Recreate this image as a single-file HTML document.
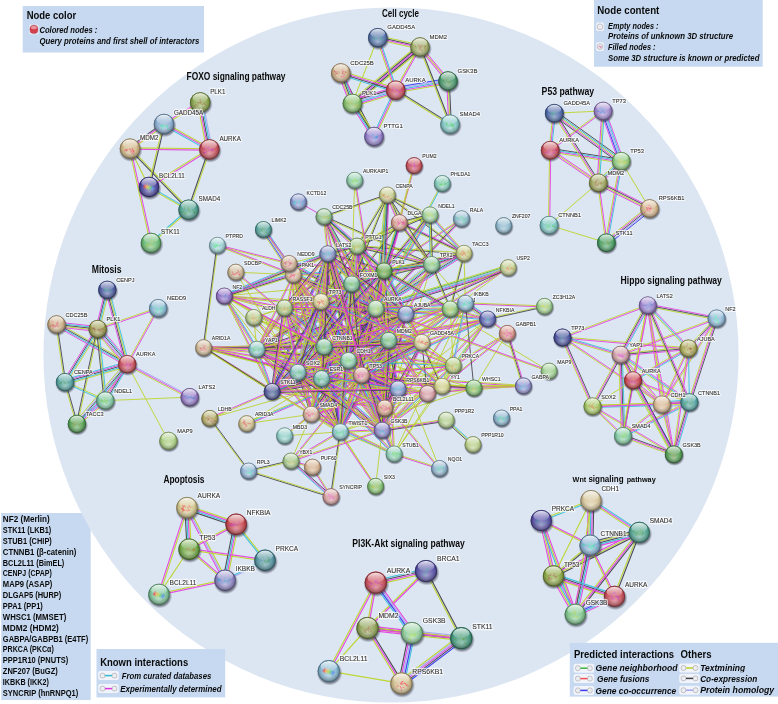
<!DOCTYPE html>
<html><head><meta charset="utf-8"><title>Network</title>
<style>
html,body{margin:0;padding:0;background:#fff;}
body{width:778px;height:704px;overflow:hidden;font-family:"Liberation Sans",sans-serif;}
svg{display:block;}
text{font-family:"Liberation Sans",sans-serif;}
.nd{fill:#303030;stroke:#303030;stroke-width:.1px;}
.nl{fill:#fff;stroke:#fff;stroke-opacity:.72;stroke-linejoin:round;paint-order:stroke;}
.t{font-weight:bold;fill:#0a0a0a;}
.bi{font-weight:bold;font-style:italic;fill:#0a0a0a;}
</style></head><body>
<svg width="778" height="704" viewBox="0 0 778 704">
<defs>
<radialGradient id="rim" cx="50%" cy="39%" r="60%"><stop offset="0" stop-color="#000" stop-opacity="0"/><stop offset=".55" stop-color="#000" stop-opacity="0"/><stop offset=".84" stop-color="#000" stop-opacity=".2"/><stop offset="1" stop-color="#000" stop-opacity=".45"/></radialGradient>
<radialGradient id="glow" cx="50%" cy="70%" r="55%"><stop offset="0" stop-color="#fff" stop-opacity=".48"/><stop offset=".7" stop-color="#fff" stop-opacity=".12"/><stop offset="1" stop-color="#fff" stop-opacity="0"/></radialGradient>
<linearGradient id="hl" x1="0" y1="0" x2="0" y2="1"><stop offset="0" stop-color="#fff" stop-opacity=".85"/><stop offset="1" stop-color="#fff" stop-opacity=".08"/></linearGradient>
<radialGradient id="sh" cx="50%" cy="50%" r="50%"><stop offset="0" stop-color="#223" stop-opacity=".7"/><stop offset=".78" stop-color="#223" stop-opacity=".55"/><stop offset="1" stop-color="#334" stop-opacity="0"/></radialGradient>
<g id="nd"><circle r="10" fill="url(#glow)"/><circle r="10" fill="url(#rim)"/><ellipse cx="0" cy="-4.5" rx="7.5" ry="4.7" fill="url(#hl)"/></g>
<g id="ic"><rect x="0" y="-.5" width="20.6" height="9" rx="2" fill="#f1f4fa"/><rect x="2" y="1.6" width="4.6" height="4.8" rx="1.8" fill="#eceef2" stroke="#9a9a9e" stroke-width=".55"/><rect x="14" y="1.6" width="4.6" height="4.8" rx="1.8" fill="#eceef2" stroke="#9a9a9e" stroke-width=".55"/></g>
</defs>
<rect width="778" height="704" fill="#fff"/>
<rect x="1.2" y="513" width="89.5" height="187" fill="#c6d9f1"/>
<circle cx="391" cy="355" r="347.6" fill="#dce6f2"/>
<g style="filter:blur(.3px)">
<g fill="none" stroke-width="0.86" stroke-linecap="round">
<path stroke="#bcd026" d="M292.9 275L384.3 408.4M352 285L384.4 271.9M289 263.5L340.3 431.8M284.5 307L405.9 313.1M253.3 317.8L297.5 372.6M320.4 301.6L321 378.7M431.5 264.5L382.2 430.2M404.7 313L310.1 413.2M463.5 253.2L449.7 308.9M253.7 317.5L256.8 349.3M450.1 308.5L405.7 313.6M399 222.1L356.7 245.6M375.3 308.5L381.7 430.2M450.2 309L421.8 342.4M387.6 194.6L464.3 252.9M430.8 263.7L375.1 307.7M298.2 371.8L257.1 348.8M383.5 270.7L347.9 360.3M292.3 275L320.5 379M323.4 347.6L360.8 375.9M460.7 218.1L375 307.8M350.6 284.4L397 389.4M288.3 264.9L375.1 309.9M326.8 253.8L323 346.8M351.3 284.4L421.5 342.8M375.3 308.7L388.1 340.6M383.5 270.9L384.2 408.1M394.1 454L384.7 408.1M361.1 374.7L310.9 413.9M413.6 165.5L375.3 308.4M420.8 342L381.2 429.8M464.8 304.2L487 319.9M331.5 496.8L340.8 431.9M397.8 222.2L374.3 308.1M388.5 341.4L421.7 343.4M292.9 275L361 375.4M325 346.9L322.5 378.8M320.5 379.9L381.2 431.4M321 300.6L375.9 307.5M405.4 313.8L361 374.8M326.3 254.2L359.9 375.5M453.1 364.9L397.8 388.5M397.5 388.8L381.7 430M394.6 453.8L382.7 430M347.6 361.2L360.6 375.8M375.6 486.3L340.3 431.8M374.8 308.6L383.7 408.2M283.4 309.2L347.4 361.7M320.7 302.6L405.6 315.1M427.4 393.6L382.2 430.2M321.2 377.7L271.8 390.5M351.2 283.7L271.7 391.2"/>
<path stroke="#404048" d="M284.3 309L405.7 315.1M405.4 313.7L310.8 413.9M464.5 253.4L450.7 309.1M399.6 223.1L357.3 246.6M297.4 372.5L310.7 414.5M387 195.4L463.7 253.7M432.2 265.3L376.5 309.3M324.6 346L362 374.3M461.5 218.8L375.8 308.5M351.6 284L398 389M288.8 264L375.6 309M351.9 283.6L422.1 342M421.8 342.4L382.2 430.2M465.4 303.3L487.6 319M330.5 496.6L339.8 431.7M399.8 222.7L376.3 308.6M323 346.7L320.5 378.6M321.2 379.1L381.9 430.6M320.8 302.6L375.7 309.5M327.3 253.9L360.9 375.2M348.4 360.5L361.4 375.1M376.8 308.4L385.7 408M331.7 495.9L291.7 460.2M320.6 302.1L388.3 340.9M284.1 308.4L348.1 360.9M320.9 301.6L405.8 314.1M321.8 379.7L272.4 392.5"/>
<path stroke="#de36da" d="M293.7 274.4L385.1 407.8M351.6 284L384 270.9M284.4 308L405.8 314.1M254.1 317.2L298.3 372M321.4 301.6L322 378.7M406.2 314.5L311.6 414.7M450.3 309.5L405.9 314.6M298.4 372.1L311.7 414.1M376.3 308.5L382.7 430.2M432.8 266.1L377.1 310.1M297.6 372.8L256.5 349.8M384.5 271.1L348.9 360.7M293.3 274.7L321.5 378.7M324 346.8L361.4 375.1M462.3 219.5L376.6 309.2M352.6 283.6L399 388.6M289.2 263L376 308M328.8 253.8L325 346.8M376.3 308.3L389.1 340.2M384.5 270.9L385.2 408.1M361.7 375.5L311.5 414.7M414.6 165.7L376.3 308.6M422.8 342.8L383.2 430.6M466 302.4L488.2 318.1M400.8 223L377.3 308.9M388.6 340.4L421.8 342.4M293.7 274.4L361.8 374.8M324 346.8L321.5 378.7M321.8 378.3L382.5 429.8M320.9 301.6L375.8 308.5M406.2 314.4L361.8 375.4M328.3 253.7L361.9 375M453.5 365.9L398.2 389.5M398.5 389.2L382.7 430.4M393.6 454.2L381.7 430.4M349.2 359.8L362.2 374.4M375.8 308.5L384.7 408.1M331 496.7L291 461M321.2 301.1L388.9 339.9M284.7 307.6L348.7 360.1M321.1 300.6L406 313.1M321.5 378.7L272.1 391.5M352 284.3L272.5 391.8"/>
<path stroke="#30b8d4" d="M351.2 283L383.6 269.9M322.5 301.6L323.1 378.7M406.9 315.2L312.3 415.4M431.5 264.5L375.8 308.5M294.3 274.4L322.5 378.4M289.7 262.1L376.5 307.1M327.8 253.8L324 346.8M466.6 301.6L488.8 317.3M398.8 222.5L375.3 308.4M388.7 339.4L421.9 341.4M322.5 377.5L383.2 429M329.3 253.4L362.9 374.7M399.5 389.6L383.7 430.8M330.3 497.5L290.3 461.8M285.4 306.8L349.4 359.3M352.9 284.9L273.4 392.4"/>
<path stroke="#a4a4ee" d="M319.3 301.6L319.9 378.7M430.2 262.9L374.5 306.9M464.2 305L486.4 320.7M396.5 388.4L380.7 429.6M350.3 283.1L270.8 390.6"/>
<path stroke="#404048" d="M326.8 253.9L339.3 431.9M320.4 301.8L347.9 360.7M350.6 284.2L381.2 430.4M375.8 308.5L405.8 314.1M324.2 216.2L431.7 264M375.4 308.2L321.1 378.4M326.8 253.4L271.1 391.1M405.8 314.1L297.9 372.3M358 245.8L376.8 308.2M388.6 340.4L256.8 349.3M464 253.3L375.8 308.5M385 270.9L383.2 430.2M327.3 254L397.5 389.2M347.8 359.6L320.9 377.8M351.9 284.4L257.1 349.7M298.8 371.7L341.2 431.2M405.1 313.3L347.7 359.7M339.6 432.5L256.1 350M383.5 270.8L375.3 308.4M248.5 470.5L290.9 460.5M464 253.8L357 246.6"/>
<path stroke="#de36da" d="M327.8 253.8L340.3 431.8M321.4 301.4L348.9 360.3M352.6 283.8L383.2 430M376 307.5L406 313.1M293.3 274.7L324 346.8M453.3 365.4L382.2 430.2M324.5 216.6L328.3 253.7M298.2 371.3L321.8 377.7M465.8 303.7L422.2 342.8M376.2 308.8L321.9 379M361.3 375.6L256.7 349.8M422 343.4L298.1 373.3M224.4 295.5L388.7 339.9M328.8 254.2L273.1 391.9M224.6 295.5L361.7 374.6M453.4 365.9L321.6 379.2M357.9 245.5L422.7 341.8M473.8 388.5L361.3 375.6M351.6 284L348.4 360.5M264.3 228.9L294.2 274.1M322 378.5L340.8 431.6M406.3 315L298.4 373.2M357 246.1L375.8 308.5M388.7 341.4L256.9 350.3M358 246.2L352.6 284.1M465.1 255.1L376.9 310.3M384 270.9L382.2 430.2M328.3 253.6L398.5 388.8M324.4 346.5L382.6 429.9M349 361.4L322.1 379.6M293.3 274.7L384 270.9M224.4 295.5L405.9 313.6M297.9 372.3L340.3 431.8M405.8 314.1L348.4 360.5M465.4 303.3L361.4 375.1M340.3 431.3L382.2 429.7M340.3 431.8L256.8 349.3M384.5 271L376.3 308.6M394.1 454L311.2 414.3M453.2 365.9L323.9 347.3M450.5 309.4L361.7 375.5M357 246.1L388.6 340.4M487.8 319.5L422 342.9M461.8 219.2L384.3 271.3M523.4 386.4L361.4 375.6M450.2 309L375.8 308.5"/>
<path stroke="#30b8d4" d="M322.3 300.9L349.8 359.8M376.2 306.4L406.2 312M294.3 274.3L325 346.4M454 366.2L382.9 431M297.9 372.3L321.5 378.7M361 376.6L256.4 350.8M421.8 342.4L297.9 372.3M357 246.1L421.8 342.4M352.6 284L349.4 360.5M265.2 228.3L295.1 273.5M406.8 315.9L298.9 374.1M388.7 342.5L256.9 351.4M357 246.1L351.6 284M464.6 254.2L376.4 309.4M329.2 253.1L399.4 388.3M488 319.3L453.7 365.7M293.3 273.7L384 269.9M466 304.2L362 376M393.6 454.9L310.7 415.2M358 245.8L389.6 340.1M450.2 310L375.8 309.5"/>
<path stroke="#a4a4ee" d="M375.4 310.6L405.4 316.2M361.8 373.6L257.2 347.8M263.4 229.5L293.3 274.7M404.8 312.3L296.9 370.5M388.5 338.3L256.7 347.2M463.4 252.4L375.2 307.6"/>
<path stroke="#3a3af0" d="M351.6 284L382.2 430.2M327.8 253.8L272.1 391.5M262.5 230.1L292.4 275.3M348.4 360.5L321.5 378.7"/>
<path stroke="#bcd026" d="M328.8 253.7L341.3 431.7M319.5 302.3L347 361.2M507.3 333.4L473.9 388M375.6 309.5L405.6 315.1M292.3 275.1L323 347.2M452.6 364.6L381.5 429.4M323.8 217.2L431.3 265M323.5 216.8L327.3 253.9M297.6 373.3L321.2 379.7M465 302.9L421.4 342M361.5 374.6L256.9 348.8M442 386.3L398 389M421.6 341.4L297.7 371.3M224.2 296.5L388.5 340.9M224 296.5L361.1 375.6M453.2 364.9L321.4 378.2M356.1 246.7L420.9 343M474 387.5L361.5 374.6M350.6 284L347.4 360.5M261.6 230.7L291.5 275.9M321 378.9L339.8 432M405.3 313.2L297.4 371.4M453.3 365.4L450.2 309M356 246.4L374.8 308.8M388.5 339.4L256.7 348.3M356 246L350.6 283.9M462.9 251.5L374.7 306.7M383 270.9L381.2 430.2M326.4 254.5L396.6 389.7M323.6 347.1L381.8 430.5M351.3 283.6L256.5 348.9M487.2 318.7L452.9 365.1M293.3 275.7L384 271.9M224.2 296.5L405.7 314.6M297 372.9L339.4 432.4M406.5 314.9L349.1 361.3M464.8 302.4L360.8 374.2M340.3 432.3L382.2 430.7M341 431.1L257.5 348.6M394.6 453.1L311.7 413.4M453.4 364.9L324.1 346.3M224.3 296L320.9 301.6M449.9 308.6L361.1 374.7M356 246.4L387.6 340.7M248.7 471.5L291.1 461.5M487.4 318.5L421.6 341.9M461.2 218.4L383.7 270.5M464 252.8L357 245.6M523.4 385.4L361.4 374.6M450.2 308L375.8 307.5"/>
<path stroke="#de36da" d="M348.5 361L298 372.8M393.6 454L388.1 340.4M351.6 284L384.7 408.1M384.5 270.7L422.3 342.2M421.8 342.4L272.1 391.5M358 246L383.2 430.1M465.8 303.6L382.6 430.5M324.3 347.2L272.4 391.9M488 319.4L382.6 430.6M397.9 389.5L256.7 349.8M376.7 309L312.1 414.8M388.9 195.2L377.4 308.7M446.2 420.2L382.2 430.2M321.4 301.6L324.5 346.8M311.7 413.4L340.8 430.9M321.7 300.9L398.8 388.3M321.3 379.2L256.6 349.8M389.6 340.2L399 388.8M398.9 389.6L385.6 408.7M487.6 319L375.8 308.5M224.3 296L256.8 349.3M523.4 386.4L442 386.8M323.5 217L375.3 308.8M293.6 274.3L388.9 340M224.8 295.8L272.6 391.3M507.6 333.9L453.6 365.9M348.2 360L388.4 339.9M293.8 274.8L272.6 391.6M523.4 386.4L473.9 388.5M375.8 308.5L340.3 431.8M384 270.9L321.5 378.7M324.5 345.9L348.9 359.6M422.1 342.8L311.5 414.7M421.8 343.4L256.8 350.3M399.8 221.7L464.5 252.4M217.5 244.8L289.1 263M431.9 264.8L361.8 375.4M209.6 417.9L271.9 391M464.5 254.8L432 266M384.6 408.6L272 392M376.5 309.3L298.6 373.1M284.4 308L340.3 431.8M473.8 389L441.9 387.3"/>
<path stroke="#30b8d4" d="M348.8 362L298.3 373.8M325 348L273.1 392.7M386.8 194.9L375.3 308.4M320.8 380.1L256.1 350.7M487.5 320L375.7 309.5M225.2 295.5L257.7 348.8M324.5 216.4L376.3 308.2M422.7 343.7L312.1 415.6M463.8 252.8L431.3 264"/>
<path stroke="#a4a4ee" d="M311.2 414.3L340.3 431.8M322.2 377.3L257.5 347.9"/>
<path stroke="#3a3af0" d="M357 246.1L382.2 430.2M375.8 308.5L311.2 414.3M320.9 301.6L398 389M388.6 340.4L398 389M421.8 342.4L256.8 349.3M375.8 308.5L297.9 372.3"/>
<path stroke="#bcd026" d="M348 359L297.5 370.8M394.6 454L389.1 340.4M352.6 283.7L385.7 407.8M383.5 271.1L421.3 342.6M253.7 317.5L324 346.8M421.5 341.4L271.8 390.5M465 303L381.8 429.9M356.6 246.5L383.6 271.3M323 345.6L271.1 390.3M487.2 318.6L381.8 429.8M442.5 386.1L422.3 342.2M398.1 388.5L256.9 348.8M405.3 314L384.2 408M385.7 194.8L374.2 308.3M446 419.2L382 429.2M320.4 301.6L323.5 346.8M386.8 194.7L356.5 245.8M310.7 415.2L339.8 432.7M442 386.3L384.7 408.1M321.7 378.2L257 348.8M397.1 388.4L383.8 407.5M442 386.3L340.3 431.8M487.7 318L375.9 307.5M223.4 296.5L255.9 349.8M523.4 385.4L442 385.8M322.6 217.5L374.4 309.3M293 275.1L388.3 340.8M223.8 296.2L271.6 391.7M507 332.9L453 364.9M348.6 361L388.8 340.9M292.8 274.6L271.6 391.4M523.4 385.4L473.9 387.5M376.8 308.8L341.3 432.1M253.7 317.5L321.5 378.7M383.1 270.4L320.6 378.2M323.5 347.7L347.9 361.4M420.9 341.1L310.3 413M253.7 317.5L348.4 360.5M398.8 223.5L463.5 254.2M217.3 245.8L288.9 264M431.1 264.2L361 374.8M210 418.9L272.3 392M463.5 251.8L431 263M473.9 388L324 346.8M384.8 407.6L272.2 391M283.4 308.4L339.3 432.2M523.4 385.9L427.4 393.6M474 387L442.1 385.3"/>
<path stroke="#404048" d="M348.3 360L297.8 371.8M350.6 284.3L383.7 408.4M422.1 343.4L272.4 392.5M356 246.2L381.2 430.3M357.4 245.7L384.4 270.5M323.7 346.4L271.8 391.1M441.5 386.5L421.3 342.6M374.9 308L310.3 413.8M406.3 314.2L385.2 408.2M387.8 195.1L376.3 308.6M446.4 421.2L382.4 431.2M387.8 195.3L357.5 246.4M320.1 302.3L397.2 389.7M387.6 340.6L397 389.2M398 389L384.7 408.1M325.4 215.9L377.2 307.7M374.8 308.2L339.3 431.5M384.9 271.4L322.4 379.2M324 346.8L348.4 360.5M421.5 342L310.9 413.9M421.8 341.4L256.8 348.3M399.3 222.6L464 253.3M464.2 253.8L431.7 265M375.1 307.7L297.2 371.5M285.4 307.6L341.3 431.4M473.9 388L442 386.3"/>
<path stroke="#30b8d4" d="M429.2 215.6L463.2 254M352.1 283.1L406.3 313.2M390.2 340.5L383.8 430.3M508.4 268.2L376 309M442.8 183.7L376.3 308.7M393.1 454.4L360.4 375.5M441.8 387.9L361.2 376.7M384.5 272.4L284.9 309.5M323.8 345.2L388.4 338.8M385.1 272.7L257.9 351.1"/>
<path stroke="#a4a4ee" d="M508 267.2L375.6 308M383.5 269.4L283.9 306.5M382.9 269.1L255.7 347.5"/>
<path stroke="#3a3af0" d="M405.8 314.1L340.3 431.8"/>
<path stroke="#3cb43c" d="M507.7 266.2L375.3 307"/>
<path stroke="#bcd026" d="M203.3 348.7L321.2 379.7M348 360.8L384.3 408.4M327.5 254.8L383.7 271.9M430.8 214.2L464.8 252.6M356.5 245.9L323.5 346.6M351.1 284.9L405.3 315M473.8 387.5L427.3 393.1M290.9 461.5L312.4 467.7M224.3 296L297.9 372.3M387 340.3L380.6 430.1M442 385.8L321.5 378.2M331.4 496.4L312.9 466.9M453.3 365.4L311.2 414.3M441.9 385.8L311.1 413.8M487.7 318.5L450.3 308.5M429.8 214.4L356.8 245.6M507.4 265.2L375 306M293.6 275.1L328.1 254.2M289 264L384 271.4M288.5 263.7L323.5 347M507 333L441.7 385.9M203.6 348.7L324 347.8M384.2 408L381.7 430.1M288.5 263.6L310.7 414.4M246.7 423.7L321.5 378.7M387.3 195L399.3 222.6M324 346.3L256.8 348.8M431.4 264L351.5 283.5M442.2 385.8L324.2 346.3M388.2 340.1L361 374.8M441.8 183.3L375.3 308.3M389.5 340.9L341.2 432.3M383.5 270.8L360.9 375M248.2 471.3L209.4 418.7M263 229.8L288.6 263.8M453.3 365.4L442 386.3M395.1 453.6L362.4 374.7M311.1 414.8L382.1 430.7M224.3 296L311.2 414.3M442.2 384.7L361.6 373.5M383.8 270.4L284.2 307.5M323.5 346.7L310.7 414.2M320.8 301.1L284.3 307.5M414.1 165.6L399.3 222.6M320.6 301.2L256.5 348.9M324.2 348.4L388.8 342M321.4 379.7L397.9 390M383.4 270L256.2 348.4"/>
<path stroke="#404048" d="M203.6 347.7L321.5 378.7M328.1 252.8L384.3 269.9M323.5 346.9L339.8 431.9M388.1 340.4L381.7 430.2M405.3 314L381.7 430.1M430.2 215.4L357.2 246.6M509 270.2L376.6 311M351.1 283.8L321 378.5M203.6 347.7L324 346.8M388.3 194.6L400.3 222.2M431.6 265L351.7 284.5M389 340.7L361.8 375.4M387.7 339.9L339.4 431.3M249 470.7L210.2 418.1M442.1 385.8L361.5 374.6M404.9 313.6L339.4 431.3M375.6 308L256.6 348.8M324.1 347.3L388.7 340.9M321.6 377.7L398.1 388M384 270.9L256.8 349.3"/>
<path stroke="#de36da" d="M203.9 346.7L321.8 377.7M348.8 360.2L385.1 407.8M327.8 253.8L384 270.9M430 214.9L464 253.3M357.5 246.3L324.5 347M324.5 346.7L340.8 431.7M351.6 284L405.8 314.1M474 388.5L427.5 394.1M291.1 460.5L312.6 466.7M389.1 340.4L382.7 430.2M442 386.8L321.5 379.2M330.6 497L312.1 467.5M406.3 314.2L382.7 430.3M442.1 386.8L311.3 414.8M487.5 319.5L450.1 309.5M508.7 269.2L376.3 310M293 274.3L327.5 253.4M289 263L384 270.4M289.5 263.3L324.5 346.6M352.1 284.2L322 378.9M507.6 333.8L442.3 386.7M203.6 346.7L324 345.8M385.2 408.2L382.7 430.3M289.5 263.4L311.7 414.2M386.3 195.4L398.3 223M324 347.3L256.8 349.8M441.8 386.8L323.8 347.3M388.6 340.4L340.3 431.8M384.5 271L361.9 375.2M263.8 229.2L289.4 263.2M394.1 454L361.4 375.1M311.3 413.8L382.3 429.7M298.4 201.9L324 216.7M441.9 386.8L361.3 375.6M406.7 314.6L341.2 432.3M384.2 271.4L284.6 308.5M324.5 346.9L311.7 414.4M376 309L257 349.8M321 302.1L284.5 308.5M321.2 302L257.1 349.7M323.9 346.3L388.5 339.9M321.5 378.7L398 389M384.6 271.8L257.4 350.2"/>
<path stroke="#bcd026" d="M450.2 309L388.6 340.4M217.2 245.8L293.1 275.2M291 461L311.2 414.3M327.4 254.2L421.4 342.8M297.7 372.8L384.5 408.6M487.3 319.4L507 333.8M405.4 313.1L323.6 345.8M284.9 436.2L361.7 375.5M354.2 180.4L375.3 308.6M246.7 423.7L311.2 414.3M203.5 348.2L297.8 372.8M389.1 341.3L322 379.6M375.2 307.7L323.4 346M224.3 296L351.6 284M351.2 284.4L375.4 308.9M284 308.3L381.8 430.5M508.2 267.7L361.4 375.1M487.5 318.5L388.5 339.9M347.5 359.9L310.3 413.7M283.5 307.4L255.9 348.7M283.9 308.1L310.7 414.4M383.1 271.4L404.9 314.6M360.9 375.3L381.7 430.4M442 386.3L297.9 372.3M549.1 371.1L384 270.9M289 263.5L327.8 253.8M428.8 213.9L382.8 269.9M544.4 305.9L487.5 318.5M326.8 254L347.4 360.7M388.2 339.4L271.7 390.5M326.8 254.2L383.7 408.5M323.7 347.3L397.7 389.5M487.5 318.5L323.9 346.3M439.5 468.5L388.6 340.4M246.3 422.7L361 374.1M361.2 374.1L271.9 390.5M442.7 385.5L389.3 339.6M431.5 264.5L357 246.1M463.8 252.3L383.8 269.9M453.2 364.9L361.3 374.6M324.2 217.2L387.5 195.5M430 214.9L327.8 253.8M398.9 222.3L351.2 283.7M217.9 245.4L204.1 347.8M427.5 393.1L361.5 374.6M430.1 215.4L399.4 223.1M348 359.5L271.7 390.5M350.7 284.6L387.7 341M319.5 302.3L380.8 430.9M356.3 245.3L283.7 307.2"/>
<path stroke="#404048" d="M405.8 314.1L324 346.8M388.1 339.5L321 377.8M376.4 309.3L324.6 347.6M352 283.6L376.2 308.1M348.4 360.5L311.2 414.3M319.9 301.8L339.3 432M285.3 308.6L257.7 349.9M384 270.9L405.8 314.1M421.3 342.1L384.2 407.8M429.6 214.6L383.6 270.6M544.6 306.9L487.7 319.5M327.8 253.8L348.4 360.5M361.6 376.1L272.3 392.5M427.4 393.6L421.8 342.4M431.2 265.5L356.7 247.1M464 253.3L384 270.9M323.8 216.2L387.1 194.5M399.7 222.9L352 284.3M216.9 245.2L203.1 347.6M429.9 214.4L399.2 222.1M348.8 361.5L272.5 392.5M320.4 301.8L381.7 430.4M357.7 246.9L285.1 308.8"/>
<path stroke="#de36da" d="M217.6 244.8L293.5 274.2M328.2 253.4L422.2 342M298.1 371.8L384.9 407.6M487.9 318.6L507.6 333M406.2 315.1L324.4 347.8M284.3 435.4L361.1 374.7M355.2 180.2L376.3 308.4M203.7 347.2L298 371.8M388.6 340.4L321.5 378.7M375.8 308.5L324 346.8M284.8 307.7L382.6 429.9M487.7 319.5L388.7 340.9M349.3 361.1L312.1 414.9M321.9 301.4L341.3 431.6M284.4 308L256.8 349.3M284.9 307.9L311.7 414.2M384.9 270.4L406.7 313.6M361.9 374.9L382.7 430M422.3 342.7L385.2 408.4M430.4 215.2L384.4 271.2M328.8 253.6L349.4 360.3M388.6 340.4L272.1 391.5M328.8 253.4L385.7 407.7M324.3 346.3L398.3 388.5M487.7 319.5L324.1 347.3M247.1 424.7L361.8 376.1M361.4 375.1L272.1 391.5M442 386.3L388.6 340.4M431.8 263.5L357.3 245.1M464.2 254.3L384.2 271.9M453.4 365.9L361.5 375.6M427.3 394.1L361.3 375.6M348.4 360.5L272.1 391.5M352.5 283.4L389.5 339.8M321.4 301.4L382.7 430M357 246.1L284.4 308"/>
<path stroke="#30b8d4" d="M385.9 270L407.7 313.2M431.2 215.9L385.2 271.9M389 341.4L272.5 392.5M464.9 303.2L452.8 365.3M246.7 423.7L361.4 375.1M441.3 387.1L387.9 341.2M322.3 300.9L383.6 429.5"/>
<path stroke="#a4a4ee" d="M382.1 271.8L403.9 315M327.8 253.8L384.7 408.1M465.9 303.4L453.8 365.5M351.6 284L388.6 340.4"/>
<path stroke="#3a3af0" d="M320.9 301.6L340.3 431.8"/>
<path stroke="#404048" d="M357.4 246.4L321.3 301.9M324.3 216.3L357.3 245.7M293.1 275.2L375.6 309M361 376.1L397.6 390M507.3 333.4L523.4 385.9M320 302.1L383.8 408.6M387.8 195.2L352.1 284.2M385 270.8L389.6 340.3M330.8 497.2L248.4 471.5M348.4 360.5L256.8 349.3M351.4 283.5L284.2 307.5M432 264.3L450.7 308.8M327.8 253.8L297.9 372.3M406 315.1L257 350.3M465.4 303.3L473.9 388M351.1 283.8L310.7 414.1M431 214.9L432.5 264.5M375.3 308.4L360.9 375"/>
<path stroke="#de36da" d="M488 319.3L442.4 386.6M328.3 253.9L311.7 414.4M384.4 271.2L298.3 372.6M544.5 306.9L465.4 303.8M293.5 274.2L376 308M348.9 360.6L340.8 431.9M361.8 374.1L398.4 388M508.3 333.1L524.4 385.6M348.9 360.3L382.7 430M298.2 371.9L382.5 429.8M321.8 301.1L385.6 407.6M389 340.8L311.6 414.7M203.6 347.2L348.4 360M453.1 365.9L388.4 340.9M289 263.5L293.3 274.7M384 270.9L388.6 340.4M324.7 346.1L385.4 407.4M357.5 246.1L361.9 375.1M293.7 274.4L348.8 360.2M348.3 361.5L256.7 350.3M203.9 347.3L311.5 413.9M351.8 284.5L284.6 308.5M406.3 313.8L422.3 342.1M328.8 254.1L298.9 372.6M361.4 375.1L384.7 408.1M427.3 394.1L397.9 389.5M405.8 314.1L256.8 349.3M322 378.8L311.7 414.4M290.7 460.5L340 431.3M293.8 274.4L382.7 429.9M430 214.9L375.8 308.5M422.2 343.4L321.9 379.7M352.1 284.2L311.7 414.5M328.2 254.1L257.2 349.6M376.3 308.6L361.9 375.2M284.7 307.6L361.7 374.7M257.8 348.9L273.1 391.1"/>
<path stroke="#30b8d4" d="M453.3 365.9L348.4 361M293.9 273.2L376.4 307M349.8 359.8L383.6 429.5M389.7 341.5L312.3 415.4M290 263.1L294.3 274.3M324 346.8L384.7 408.1M329.8 254.3L299.9 372.8M362.3 374.5L385.6 407.5M323 379.1L312.7 414.7M430.9 215.4L376.7 309M353.1 284.5L312.7 414.8M429 214.9L430.5 264.5M285.4 306.8L362.4 373.9M256.8 349.3L272.1 391.5"/>
<path stroke="#a4a4ee" d="M347 361.2L380.8 430.9M387.5 339.3L310.1 413.2M325.8 253.3L295.9 371.8M320 378.3L309.7 413.9M421.8 342.4L321.5 378.7M283.4 309.2L360.4 376.3"/>
<path stroke="#3a3af0" d="M361.4 375.1L398 389M320.9 301.6L384.7 408.1"/>
<path stroke="#bcd026" d="M487.2 318.7L441.6 386M327.3 253.7L310.7 414.2M383.6 270.6L297.5 372M544.5 305.9L465.4 302.8M453.3 364.9L348.4 360M356.6 245.8L320.5 301.3M253.7 317.5L351.6 284M323.7 217.1L356.7 246.5M292.7 276.2L375.2 310M347.9 360.4L339.8 431.7M506.3 333.7L522.4 386.2M347.9 360.7L381.7 430.4M297.6 372.7L381.9 430.6M388.2 340L310.8 413.9M203.6 348.2L348.4 361M293.3 274.7L405.8 314.1M453.5 364.9L388.8 339.9M375.6 486.3L382.2 430.2M386.8 194.8L351.1 283.8M288 263.9L292.3 275.1M383 271L387.6 340.5M289 263.5L361.4 375.1M323.3 347.5L384 408.8M356.5 246.1L360.9 375.1M331.2 496.2L248.8 470.5M292.9 275L348 360.8M203.6 347.7L340.3 431.8M394.1 454L453.3 365.4M348.5 359.5L256.9 348.3M203.3 348.1L310.9 414.7M431 264.7L449.7 309.2M405.3 314.4L421.3 342.7M326.8 253.5L296.9 372M360.5 375.7L383.8 408.7M427.5 393.1L398.1 388.5M405.6 313.1L256.6 348.3M321 378.6L310.7 414.2M291.3 461.5L340.6 432.3M253.7 317.5L284.4 308M292.8 275L381.7 430.5M429.1 214.4L374.9 308M421.4 341.4L321.1 377.7M350.1 283.5L309.7 413.8M327.4 253.5L256.4 349M253.7 317.5L361.4 375.1M430 214.9L431.5 264.5M464 253.3L465.4 303.3M284.1 308.4L361.1 375.5M255.8 349.7L271.1 391.9"/>
<path stroke="#de36da" d="M388.6 340.4L384.7 408.1M439.3 469L393.9 454.5M384.8 271.6L272.9 392.2M442.3 386.7L382.5 430.6M291.2 461.5L382.4 430.7M487.6 319L361.4 375.1M398.1 389.5L311.3 414.8M376.7 309L349.3 361M384.5 271.8L321.4 302.5M284.6 307.5L388.8 339.9M289.5 263.4L322 378.6M321.9 301.9L298.9 372.6M289.4 263.2L348.8 360.2M388.8 340.9L298.1 372.8M352.5 284.5L298.8 372.8M352.6 284.1L341.3 431.9M328.6 253.1L376.6 307.8M327.8 253.8L321.5 378.7M327.8 253.8L284.4 308M384.5 271L340.8 431.9M439.1 468.8L361 375.4M432 264.7L406.3 314.3M358 246.2L349.4 360.6M388.9 195.1L385.6 271M290.6 460.7L361 374.8M465.2 302.8L450 308.5M400.1 222L432.3 263.9M406.1 314.6L272.4 392M325 216.3L352.6 283.6M508.5 268.1L388.9 340.8M382.2 430.2L256.8 349.3M465.6 303.8L388.8 340.9M203.6 347.2L256.8 348.8M328.3 253.9L321.4 301.7M293.6 274.2L453.6 364.9M224.1 295.5L327.6 253.3M327.7 253.3L356.9 245.6M351.9 284.5L321.2 302.1M310.8 414.6L256.4 349.6M327.8 253.8L405.8 314.1M328.2 253.5L352 283.7"/>
<path stroke="#30b8d4" d="M488 320L361.8 376.1M384 270.9L320.9 301.6M322.9 302.2L299.9 372.9M446.9 419.4L473.7 443.8M353.4 285.1L299.7 373.4M353.7 284.2L342.4 432M327.8 253.8L375.8 308.5M386.8 195L383.5 270.9M465.6 303.8L450.4 309.5M223.7 294.5L327.2 252.3M327.4 252.3L356.6 244.6"/>
<path stroke="#a4a4ee" d="M318.9 301L295.9 371.7M349.8 282.9L296.1 371.2M349.5 283.8L338.2 431.6M357 246.1L348.4 360.5"/>
<path stroke="#3a3af0" d="M384 270.9L272.1 391.5M375.8 308.5L348.4 360.5"/>
<path stroke="#bcd026" d="M387.6 340.3L383.7 408M439.7 468L394.3 453.5M441.7 385.9L381.9 429.8M290.8 460.5L382 429.7M487.2 318L361 374.1M397.9 388.5L311.1 413.8M284.6 435.8L311.2 414.3M383.5 270L320.4 300.7M284.2 308.5L388.4 340.9M288.5 263.6L321 378.8M431.5 264.5L465.4 303.3M319.9 301.3L296.9 372M288.6 263.8L348 360.8M446.2 420.2L473 444.6M394.1 454L442 386.3M388.4 339.9L297.7 371.8M387.5 194.5L430.2 214.4M394.1 454L340.3 431.8M235.8 272.2L297.9 372.3M350.7 283.5L297 371.8M350.6 283.9L339.3 431.7M327 254.5L375 309.2M326.8 253.7L320.5 378.6M235.8 272.2L293.3 274.7M328.6 254.5L285.2 308.7M383.5 270.8L339.8 431.7M284.6 435.8L340.3 431.8M439.9 468.2L361.8 374.8M431 264.3L405.3 313.9M356 246L347.4 360.4M209.8 418.4L361.4 375.1M385.7 194.9L382.4 270.8M291.4 461.3L361.8 375.4M398.5 223.2L430.7 265.1M405.5 313.6L271.8 391M323 217.1L350.6 284.4M507.9 267.3L388.3 340M382.8 429.3L257.4 348.4M465.2 302.8L388.4 339.9M203.6 348.2L256.8 349.8M327.3 253.7L320.4 301.5M293 275.2L453 365.9M203.6 347.7L388.6 340.4M453.3 365.4L375.8 308.5M224.9 297.5L328.4 255.3M328.2 255.3L357.4 247.6M351.3 283.5L320.6 301.1M311.6 414L257.2 349M465.4 303.3L442 386.3M327.2 254.6L405.2 314.9M327.4 254.1L351.2 284.3"/>
<path stroke="#404048" d="M389.6 340.5L385.7 408.2M383.2 270.2L271.3 390.8M374.9 308L347.5 360M320.9 301.6L297.9 372.3M445.5 421L472.3 445.4M387.1 195.5L429.8 215.4M351.6 284L297.9 372.3M351.6 284L340.3 431.8M328.8 253.9L322.5 378.8M327 253.1L283.6 307.3M387.8 195L384.5 270.9M399.3 222.6L431.5 264.5M324 216.7L351.6 284M381.6 431.1L256.2 350.2M224.5 296.5L328 254.3M327.9 254.3L357.1 246.6M328.4 253L406.4 313.3"/>
<path stroke="#30b8d4" d="M321.3 300.6L422.2 341.4M398.8 222.4L383.5 270.7M324.7 215.9L384.7 270.1M465.5 304.3L375.9 309.5M376.5 309.3L272.8 392.3M431.4 264L383.9 270.4M393.3 454.7L320.7 379.4M422.5 343.8L362.1 376.5M449.4 310.4L383.2 272.3M406.4 314.9L322.1 379.5M362.4 375.5L341.3 432.2M223.8 294.5L292.8 273.2M297.9 372.3L398 389"/>
<path stroke="#a4a4ee" d="M284.4 308L297.9 372.3M384.7 408.1L256.8 349.3M357 246.1L405.8 314.1"/>
<path stroke="#3a3af0" d="M320.9 301.6L272.1 391.5"/>
<path stroke="#bcd026" d="M348.1 361L397.7 389.5M224.1 296.5L323.8 347.3M320.5 302.6L421.4 343.4M405.4 313.8L388.2 340.1M326.8 254.1L381.2 430.5M283.4 308.2L296.9 372.5M203.3 348.1L271.8 391.9M427.8 393.3L376.2 308.2M293.3 274.7L340.3 431.8M397.8 222.1L382.5 270.4M323.3 217.5L383.3 271.7M465.3 302.3L375.7 307.5M323.5 216.8L360.9 375.2M375.1 307.7L271.4 390.7M431.3 262.9L383.8 269.3M394.9 453.3L322.3 378M284.4 308.5L375.8 309M235.5 272.6L323.7 347.2M421.1 341L360.7 373.7M348.5 361L421.9 342.9M427.8 393.3L389 340.1M253.7 317.5L340.3 431.8M441.5 385.4L426.9 392.7M292.8 274.5L256.3 349.1M324.7 347.6L298.6 373.1M224.1 296.5L348.2 361M324 345.8L421.8 341.4M487.6 319L398 389M385.1 407.1L257.2 348.3M297.6 371.9L271.8 391.1M465.2 302.8L323.8 346.3M351.1 284.1L360.9 375.2M293.3 274.7L297.9 372.3M376 486L298.3 372M451 307.6L384.8 269.5M405.2 313.3L320.9 377.9M465.4 303.3L394.1 454M360.4 374.7L339.3 431.4M292.9 275.1L397.6 389.4M548.9 371.6L375.6 309M507.8 266.7L405.4 313.1M473.9 388L340.3 431.8M386.9 195.3L431.1 264.8M224.8 297.5L293.8 276.2M398 388L272.1 390.5M203.5 348.2L361.3 375.6M285.4 308.2L273.1 391.7M324.5 216.5L389.1 340.2M354.7 180.3L351.6 284M453.3 365.4L421.8 342.4M224.2 296.5L284.3 308.5M356.1 246.7L404.9 314.7M297.7 373.3L397.8 390"/>
<path stroke="#404048" d="M328.8 253.5L383.2 429.9M203.9 347.3L272.4 391.1M399.8 222.8L384.5 271.1M324 216.7L384 270.9M431.6 265L384.1 271.4M421.6 341.9L361.2 374.6M442 386.3L427.4 393.6M323.3 346L297.2 371.5M324 347.8L421.8 343.4M352.1 283.9L361.9 375M320 301.1L271.2 391M450.5 308.5L384.3 270.4M508.6 268.7L406.2 315.1M387.7 194.7L431.9 264.2M224.5 296.5L293.5 275.2M398 390L272.1 392.5M283.4 307.8L271.1 391.3"/>
<path stroke="#de36da" d="M348.7 360L398.3 388.5M224.5 295.5L324.2 346.3M320.9 301.6L421.8 342.4M406.2 314.4L389 340.7M327.8 253.8L382.2 430.2M285.4 307.8L298.9 372.1M427 393.9L375.4 308.8M400.8 223.1L385.5 271.4M325.4 215.1L385.4 269.3M322.6 218.3L382.6 272.5M465.4 303.3L375.8 308.5M324.5 216.6L361.9 375M375.8 308.5L272.1 391.5M431.7 266.1L384.2 272.5M394.1 454L321.5 378.7M284.4 307.5L375.8 308M236.1 271.8L324.3 346.4M422 342.9L361.6 375.6M348.3 360L421.7 341.9M427 393.9L388.2 340.7M442.5 387.2L427.9 394.5M293.8 274.9L257.3 349.5M324 346.8L297.9 372.3M224.5 295.5L348.6 360M324 346.8L421.8 342.4M384.3 409.1L256.4 350.3M298.2 372.7L272.4 391.9M465.6 303.8L324.2 347.3M321.8 302.1L273 392M375.2 486.6L297.5 372.6M449.9 309.5L383.7 271.4M405.8 314.1L321.5 378.7M361.4 375.1L340.3 431.8M293.7 274.3L398.4 388.6M549.3 370.6L376 308M508.2 267.7L405.8 314.1M224.1 295.5L293.1 274.2M398 389L272.1 391.5M203.7 347.2L361.5 374.6M284.4 308L272.1 391.5M323.5 216.9L388.1 340.6M224.4 295.5L284.5 307.5M357.9 245.5L406.7 313.5M298.1 371.3L398.2 388"/>
</g>
<g transform="translate(354.7 180.3) scale(0.835)">
<ellipse cx=".7" cy="1.7" rx="11.6" ry="11.3" fill="url(#sh)"/>
<circle r="10" fill="#88caa5"/>
<path d="M-0.1 -0.6L-0 -2L1 -2.2M4 1.7L1.9 1.2L1.6 -0.5M1 -1.9L1.9 -1.5L2.7 -1.9M1.3 0.9L1.4 -0.3L1.5 -1.3M-4.4 1.3L-2.5 2.2L-0.9 2.9M1.2 -0.3L1.6 0.9L2.5 0.6M-2.6 0.8L-2.1 2.6L-1.4 3.9M1.4 1.9L-0.1 1L-1.4 0.7M-1.1 2.5L-2.1 2.3L-2.4 1.5M-0.6 3.6L1.3 4.3L2.9 4.6M-1.8 -1.7L-2.4 0L-3.9 0.2" fill="none" stroke="#5dd410" stroke-width=".8" stroke-opacity=".7" stroke-linejoin="round"/>
<use href="#nd"/>
<circle r="9.6" fill="none" stroke="#4a6e5a" stroke-width=".85" stroke-opacity=".8"/>
</g>
<text class="nl" x="362.9" y="173" font-size="5.14" stroke-width="1.85">AURKAIP1</text>
<text class="nd" x="362.9" y="173" font-size="5.14">AURKAIP1</text>
<g transform="translate(298.4 201.9) scale(0.835)">
<ellipse cx=".7" cy="1.7" rx="11.6" ry="11.3" fill="url(#sh)"/>
<circle r="10" fill="#808fca"/>
<path d="M4.8 1.8L4.4 3.9L5.1 5.5M-3.7 2.9L-4 1.2L-4.8 0.1M0.2 -0.9L1.2 -1.9L2.3 -1.9M0.3 3L0.3 0.8L-0.7 -0.6M-3.6 1.8L-5.4 1.7L-6.5 2.7M-3.2 -0.8L-4.2 -0.1L-4.1 0.9M-0.7 -0.4L-2.4 -1.4L-3.8 -2.1M3.8 0.7L5.6 1L6.4 -0.2M-4.5 2.3L-4.1 1.3L-4.7 0.7M-0.3 -1.4L1 -1.5L2 -1.5M-2.7 1.6L-4.3 0.8L-5.5 0.1" fill="none" stroke="#0bd3cb" stroke-width=".8" stroke-opacity=".7" stroke-linejoin="round"/>
<use href="#nd"/>
<circle r="9.6" fill="none" stroke="#464e6e" stroke-width=".85" stroke-opacity=".8"/>
</g>
<text class="nl" x="306.6" y="194.6" font-size="5.14" stroke-width="1.85">KCTD12</text>
<text class="nd" x="306.6" y="194.6" font-size="5.14">KCTD12</text>
<g transform="translate(324 216.7) scale(0.835)">
<ellipse cx=".7" cy="1.7" rx="11.6" ry="11.3" fill="url(#sh)"/>
<circle r="10" fill="#88bb88"/>
<path d="M1.6 2.2L-0.1 2.2L-1.6 2.1M1.7 1.5L0.7 -0.4L-0.8 0.3M3.1 1L4.6 -0.8L6.1 0.4M2.4 -0.4L0.6 0.7L-0.5 1.8M0.9 -1.2L1.9 -2.9L2.6 -4.4M0.4 -0.3L0.9 0.9L1.7 1.5M3.2 2L5.4 1.2L7.2 0.6M-3.8 -0.2L-2.5 -0.9L-1.4 -0.4M2.2 1.6L3.3 -0.3L4.6 -1.4M0 2.6L0.2 0.7L-1.3 0.4M3.8 2.1L5.1 2L6.1 2.4" fill="none" stroke="#9eb525" stroke-width=".8" stroke-opacity=".7" stroke-linejoin="round"/>
<use href="#nd"/>
<circle r="9.6" fill="none" stroke="#4a664a" stroke-width=".85" stroke-opacity=".8"/>
</g>
<text class="nl" x="332.2" y="209.4" font-size="5.14" stroke-width="1.85">CDC25B</text>
<text class="nd" x="332.2" y="209.4" font-size="5.14">CDC25B</text>
<g transform="translate(263.4 229.5) scale(0.835)">
<ellipse cx=".7" cy="1.7" rx="11.6" ry="11.3" fill="url(#sh)"/>
<circle r="10" fill="#4d9e96"/>
<path d="M-0.7 2.3L-2 0.8L-1.9 -0.8M-0.3 -0.5L-1.3 -0.7L-2.1 -0.7M0.2 3.6L2.2 3.2L3.5 4.2M-1.8 2.1L-3.5 1.9L-4.9 2.1M3.3 2.8L4.2 3.6L5.1 4M2 1.2L2.5 3.4L4.2 3.5M-1.9 -0.6L-3.3 -0.6L-4 -1.4M-1.2 -1.7L0.4 -1.4L0.1 -0.1M-1.5 -0L-1.1 -1.6L-1.2 -2.9M-1.6 1.7L-0.5 2.7L0.4 3.4M1.4 -2.4L1.4 -1.4L2.3 -1.4" fill="none" stroke="#1b8222" stroke-width=".8" stroke-opacity=".7" stroke-linejoin="round"/>
<use href="#nd"/>
<circle r="9.6" fill="none" stroke="#2a5652" stroke-width=".85" stroke-opacity=".8"/>
</g>
<text class="nl" x="271.6" y="222.2" font-size="5.14" stroke-width="1.85">LIMK2</text>
<text class="nd" x="271.6" y="222.2" font-size="5.14">LIMK2</text>
<g transform="translate(217.4 245.3) scale(0.835)">
<ellipse cx=".7" cy="1.7" rx="11.6" ry="11.3" fill="url(#sh)"/>
<circle r="10" fill="#96cad1"/>
<path d="M-0.7 1.3L-0.4 -0.9L-1.6 -2.3M0.1 4L0.7 6.3L2.5 6.6M-2.1 -2.4L-4.2 -2.1L-5.8 -2.5M-3.8 -0.7L-3.6 0.6L-4.5 1.1M-2.6 2.1L-3.7 1.2L-4.6 1.9M-4.6 0.6L-3.1 2.3L-1.4 2.8M-0 1.4L-0.1 -0.4L0.4 -1.8M-3.1 3.2L-1.8 1.8L-1.2 0.4M0.8 -0.1L-1.2 -0.1L-1.4 1.5M-3.3 -0.2L-2.2 -0.2L-2.1 -1.1M1.7 1L3.2 -0.2L4.6 0.4" fill="none" stroke="#0be74a" stroke-width=".8" stroke-opacity=".7" stroke-linejoin="round"/>
<use href="#nd"/>
<circle r="9.6" fill="none" stroke="#526e72" stroke-width=".85" stroke-opacity=".8"/>
</g>
<text class="nl" x="225.6" y="238" font-size="5.14" stroke-width="1.85">PTPRD</text>
<text class="nd" x="225.6" y="238" font-size="5.14">PTPRD</text>
<g transform="translate(357 246.1) scale(0.835)">
<ellipse cx=".7" cy="1.7" rx="11.6" ry="11.3" fill="url(#sh)"/>
<circle r="10" fill="#96c379"/>
<path d="M-2.8 3.4L-2.9 1.7L-3.3 0.5M-2.9 1.6L-3.7 3.4L-2.4 4.2M0.4 4.1L-0.6 2.5L-1.9 1.7M1.7 0.4L0.7 1.2L1.2 2.1M0.6 1.8L0.7 -0L-0.5 -0.9M0.7 1.2L1.5 -0.3L2.7 0.3M-3.3 3.2L-2.9 4.2L-2.2 4.7M0.9 -2.5L1.8 -1.4L2.9 -1.2M3.3 2.7L3.3 1.6L4.2 1.5M-2.5 3.8L-3.7 1.8L-4.8 0.2M-4.2 1.2L-2.4 0L-1.4 1.3" fill="none" stroke="#c29812" stroke-width=".8" stroke-opacity=".7" stroke-linejoin="round"/>
<use href="#nd"/>
<circle r="9.6" fill="none" stroke="#526a42" stroke-width=".85" stroke-opacity=".8"/>
</g>
<text class="nl" x="365.2" y="238.8" font-size="5.14" stroke-width="1.85">PTTG1</text>
<text class="nd" x="365.2" y="238.8" font-size="5.14">PTTG1</text>
<g transform="translate(327.8 253.8) scale(0.835)">
<ellipse cx=".7" cy="1.7" rx="11.6" ry="11.3" fill="url(#sh)"/>
<circle r="10" fill="#808fc3"/>
<path d="M-0.8 2.1L0.1 2.9L0.2 3.9M-1.8 4.1L-0.2 4.7L0.5 3.6M-3.2 0.1L-1.7 1.7L-0.4 0.6M0.3 -1.4L-1.5 -2L-2.9 -1.7M-0.4 -0.4L0.6 -2.4L2.3 -3.1M1.6 -1.1L0.6 0.8L1.2 2.4M0.4 2.4L0.8 1.1L-0 0.3M-3.7 1.1L-5 0.1L-6.3 0.2M1.4 0L3.6 -0L3.7 -1.8M-3.6 -0L-5 -0.5L-5.8 -1.4M1 -2.6L0.9 -1.6L1.2 -0.9" fill="none" stroke="#16c3b8" stroke-width=".8" stroke-opacity=".7" stroke-linejoin="round"/>
<use href="#nd"/>
<circle r="9.6" fill="none" stroke="#464e6a" stroke-width=".85" stroke-opacity=".8"/>
</g>
<text class="nl" x="336" y="246.5" font-size="5.14" stroke-width="1.85">LATS2</text>
<text class="nd" x="336" y="246.5" font-size="5.14">LATS2</text>
<g transform="translate(293.3 274.7) scale(0.835)">
<ellipse cx=".7" cy="1.7" rx="11.6" ry="11.3" fill="url(#sh)"/>
<circle r="10" fill="#d1b496"/>
<path d="M0.9 2.8L1.3 1.7L1.6 0.9M0.7 -1.1L0.6 0.8L-0.9 1M0.6 -0.5L1.8 -0.5L2.7 -1.1M-1.1 -0L-2.3 -0.4L-2.9 -1.2M-3.6 3L-2.6 2.2L-1.9 1.5M-1.6 4.2L-3.2 3.1L-3 1.6M-3.4 2.2L-2.6 0.4L-1.1 1M1.8 2.3L0.4 1.3L-1 1.2M-0.2 2.2L0 4.5L1.7 5.1M-3.1 1.6L-3.7 3.1L-5 3.4M-2.9 -0L-1 0.9L-0.2 -0.5" fill="none" stroke="#e70b56" stroke-width=".8" stroke-opacity=".7" stroke-linejoin="round"/>
<use href="#nd"/>
<circle r="9.6" fill="none" stroke="#726252" stroke-width=".85" stroke-opacity=".8"/>
</g>
<text class="nl" x="301.5" y="267.4" font-size="5.14" stroke-width="1.85">PAK1</text>
<text class="nd" x="301.5" y="267.4" font-size="5.14">PAK1</text>
<g transform="translate(289 263.5) scale(0.835)">
<ellipse cx=".7" cy="1.7" rx="11.6" ry="11.3" fill="url(#sh)"/>
<circle r="10" fill="#caac8f"/>
<path d="M-2.1 3.9L-3.8 3.9L-5 3.7M-0 -1.4L-2.2 -2L-3.9 -1.4M1.1 2.6L-0.8 2.5L-1.3 3.9M0.8 -0.5L2.6 -0.2L3.8 0.6M-0.3 -1.7L0.4 -3.6L-0.4 -5M-4.1 -1.1L-3.5 0.6L-4.2 1.8M0.1 3.8L0.1 6L1.7 6.8M0.1 0.7L1.4 2L2.8 1.4M3.3 -1.3L1 -1L1.2 0.9M-0.1 -1.1L1.3 -0.4L1.6 0.8M-2.9 -2L-5.1 -1.3L-5.2 0.5" fill="none" stroke="#d41455" stroke-width=".8" stroke-opacity=".7" stroke-linejoin="round"/>
<use href="#nd"/>
<circle r="9.6" fill="none" stroke="#6e5e4e" stroke-width=".85" stroke-opacity=".8"/>
</g>
<text class="nl" x="297.2" y="256.2" font-size="5.14" stroke-width="1.85">NEDD9</text>
<text class="nd" x="297.2" y="256.2" font-size="5.14">NEDD9</text>
<g transform="translate(235.8 272.2) scale(0.835)">
<ellipse cx=".7" cy="1.7" rx="11.6" ry="11.3" fill="url(#sh)"/>
<circle r="10" fill="#cab48f"/>
<path d="M-0 0.8L0.2 2L0.8 2.9M3.8 0.2L5.3 2L4.1 3.4M2.4 2.6L4.3 2.5L4.7 4M-2.9 2.1L-4 0.5L-3.6 -1M1.4 1.1L3 -0.1L3.4 -1.6M1.5 -0.5L1.3 0.6L0.5 1M1.9 1.2L-0.2 1.7L-1.3 3.2M-3.6 2.9L-1.6 3.1L-0.3 2.1M-2.1 2.3L-4 2.8L-5.5 3.4M3.9 -0.8L2.4 -1.7L1.9 -3M0.1 3.6L-1.9 3.1L-2 1.5" fill="none" stroke="#d4143e" stroke-width=".8" stroke-opacity=".7" stroke-linejoin="round"/>
<use href="#nd"/>
<circle r="9.6" fill="none" stroke="#6e624e" stroke-width=".85" stroke-opacity=".8"/>
</g>
<text class="nl" x="244" y="264.9" font-size="5.14" stroke-width="1.85">SDCBP</text>
<text class="nd" x="244" y="264.9" font-size="5.14">SDCBP</text>
<g transform="translate(224.3 296) scale(0.835)">
<ellipse cx=".7" cy="1.7" rx="11.6" ry="11.3" fill="url(#sh)"/>
<circle r="10" fill="#8f6ac3"/>
<path d="M-0.8 1.5L0.9 2.7L2.4 2.1M-0.3 0.4L-1.4 0.2L-1.7 -0.6M-0.2 0.8L1.5 -0.5L1.8 -2.1M1.9 3.8L0.7 4.6L0.4 5.6M1.3 -1L1.7 -2L2 -2.7M-0.9 -0.6L0.8 0.2L1.8 -0.9M4.7 1.2L6.1 1.9L5.8 3.1M-3.3 -0.8L-4.5 -1L-5.2 -0.4M-0.4 -0.3L1.2 0.1L1.8 -1.1M3.1 0.6L4.3 1.8L5.2 2.9M-4.4 1.4L-3.5 0.2L-4.2 -0.7" fill="none" stroke="#0b57bf" stroke-width=".8" stroke-opacity=".7" stroke-linejoin="round"/>
<use href="#nd"/>
<circle r="9.6" fill="none" stroke="#4e3a6a" stroke-width=".85" stroke-opacity=".8"/>
</g>
<text class="nl" x="232.5" y="288.7" font-size="5.14" stroke-width="1.85">NF2</text>
<text class="nd" x="232.5" y="288.7" font-size="5.14">NF2</text>
<g transform="translate(384 270.9) scale(0.835)">
<ellipse cx=".7" cy="1.7" rx="11.6" ry="11.3" fill="url(#sh)"/>
<circle r="10" fill="#5ca54d"/>
<path d="M3.3 0.1L4.6 -1L5.6 -1.9M0.3 0.6L-0.3 2L0.5 2.9M3.2 3.2L4.2 3.1L4.8 2.6M-0.8 3.4L0.5 1.5L2.3 1.2M2.1 3L4 2.4L4.4 0.9M0.6 3.3L1.3 2.5L2 3M-2.3 3.9L-1.7 5.4L-0.5 4.9M-2 -0.3L-2.7 -2.5L-1 -3M-4.7 0.4L-5.3 -1.8L-7 -2.3M1.1 -0.6L1.8 -2.3L0.6 -3M-2 0.9L-4.3 0.6L-6.1 1.2" fill="none" stroke="#8b8a17" stroke-width=".8" stroke-opacity=".7" stroke-linejoin="round"/>
<use href="#nd"/>
<circle r="9.6" fill="none" stroke="#325a2a" stroke-width=".85" stroke-opacity=".8"/>
</g>
<text class="nl" x="392.2" y="263.6" font-size="5.14" stroke-width="1.85">PLK1</text>
<text class="nd" x="392.2" y="263.6" font-size="5.14">PLK1</text>
<g transform="translate(351.6 284) scale(0.835)">
<ellipse cx=".7" cy="1.7" rx="11.6" ry="11.3" fill="url(#sh)"/>
<circle r="10" fill="#79bb96"/>
<path d="M2.1 -0.6L1.2 0.1L0.4 -0.2M3.2 -0.5L1.9 -0.7L1.9 -1.7M-0.9 0.6L-1.5 -0.3L-2.2 -0.8M-0.4 -1L0.2 0.5L0.2 1.8M-0.7 0.9L1.5 1.4L2.8 0.1M0.4 0.2L-0.4 -0.9L-1.5 -0.6M-0.5 2L-1.8 0.1L-2.9 -1.4M4 1.6L4.6 3.3L5.6 4.3M1 3.1L-0.7 2L-0.7 0.4M-0.9 0.5L-2.8 -0.8L-4.6 -0.6M4.2 -1L5.4 -1.7L6.3 -1.1" fill="none" stroke="#58b51b" stroke-width=".8" stroke-opacity=".7" stroke-linejoin="round"/>
<use href="#nd"/>
<circle r="9.6" fill="none" stroke="#426652" stroke-width=".85" stroke-opacity=".8"/>
</g>
<text class="nl" x="359.8" y="276.7" font-size="5.14" stroke-width="1.85">FOXM1</text>
<text class="nd" x="359.8" y="276.7" font-size="5.14">FOXM1</text>
<g transform="translate(320.9 301.6) scale(0.835)">
<ellipse cx=".7" cy="1.7" rx="11.6" ry="11.3" fill="url(#sh)"/>
<circle r="10" fill="#d1ca8f"/>
<path d="M-0.7 1.5L-1.8 2.1L-2.1 3.1M3 2L1.7 1.7L0.7 1.3M2 -0.3L1.9 0.7L2.5 1.2M2.1 3.2L3.5 2.7L4.6 3.3M1.9 -1.3L0.2 -1.3L-0.2 -2.6M0.5 -1.7L0.6 -0.4L0.5 0.7M1.9 -0.3L3.3 -0.4L4.1 0.3M-1.4 1.2L-2.4 3.3L-2.3 5.2M-3 0.9L-1.3 1.8L-1.8 3.2M-1.7 1.2L-3.4 0.4L-4.8 1M-0.6 1.5L-1.1 0.2L-2.2 0" fill="none" stroke="#e71106" stroke-width=".8" stroke-opacity=".7" stroke-linejoin="round"/>
<use href="#nd"/>
<circle r="9.6" fill="none" stroke="#726e4e" stroke-width=".85" stroke-opacity=".8"/>
</g>
<text class="nl" x="329.1" y="294.3" font-size="5.14" stroke-width="1.85">TP73</text>
<text class="nd" x="329.1" y="294.3" font-size="5.14">TP73</text>
<g transform="translate(284.4 308) scale(0.835)">
<ellipse cx=".7" cy="1.7" rx="11.6" ry="11.3" fill="url(#sh)"/>
<circle r="10" fill="#a5c380"/>
<path d="M-4.7 1.5L-3.9 0.4L-4.7 -0.4M-0.1 2.6L-1.6 2.4L-2.3 3.5M4.9 1.3L3.6 1.5L3.1 0.6M2.1 3.2L4.1 2.6L5.7 2M0.2 -0.6L0.7 0.8L-0.1 1.7M1 -0.2L-0.7 -0.9L-0.3 -2.4M4.7 1.2L3.2 -0.2L1.8 0.8M-1 2.3L-3.3 2.3L-3.4 4.2M-0.1 -2.1L-0.6 0.1L-0.4 2M2 2.1L0.4 0.7L-1 -0.2M-0 1.7L0.3 3.9L1.1 5.4" fill="none" stroke="#c37f16" stroke-width=".8" stroke-opacity=".7" stroke-linejoin="round"/>
<use href="#nd"/>
<circle r="9.6" fill="none" stroke="#5a6a46" stroke-width=".85" stroke-opacity=".8"/>
</g>
<text class="nl" x="292.6" y="300.7" font-size="5.14" stroke-width="1.85">RASSF1</text>
<text class="nd" x="292.6" y="300.7" font-size="5.14">RASSF1</text>
<g transform="translate(253.7 317.5) scale(0.835)">
<ellipse cx=".7" cy="1.7" rx="11.6" ry="11.3" fill="url(#sh)"/>
<circle r="10" fill="#b4ca88"/>
<path d="M-1.8 1.4L-1 2.6L-0 3.4M-0.1 3.6L-0.1 1.6L-1.3 0.6M0.8 -2.4L-0.7 -3.9L-2.2 -4.7M2.9 3.5L4.5 3.7L5.3 2.7M-1.7 1.2L-0.2 0.4L1.1 0.6M-2 -1.2L-2.3 -2.7L-1 -2.9M-1.6 0.8L-2.8 0.6L-3.2 1.4M2.4 3.5L2.8 1.4L2 -0.1M0.2 0.9L0.2 -0.4L1.2 -0.6M-1 2.9L0.8 4.2L1.4 5.9M-0.6 4.1L-0.4 5.6L0.5 6.5" fill="none" stroke="#d47010" stroke-width=".8" stroke-opacity=".7" stroke-linejoin="round"/>
<use href="#nd"/>
<circle r="9.6" fill="none" stroke="#626e4a" stroke-width=".85" stroke-opacity=".8"/>
</g>
<text class="nl" x="261.9" y="310.2" font-size="5.14" stroke-width="1.85">ALDH</text>
<text class="nd" x="261.9" y="310.2" font-size="5.14">ALDH</text>
<g transform="translate(414.1 165.6) scale(0.835)">
<ellipse cx=".7" cy="1.7" rx="11.6" ry="11.3" fill="url(#sh)"/>
<circle r="10" fill="#c64954"/>
<path d="M-0.6 2.9L0.5 4.5L1 6M0 0.4L1 0.9L1 1.8M-0.1 0.2L0.9 1.5L0.5 2.8M0.5 1.8L2 3.2L2.3 4.8M-2.3 0.2L-3.3 -1.8L-4.7 -2.8M-4.3 1.1L-4.1 -0.4L-3.9 -1.6M0.3 1.2L0.6 -0.8L1.5 -2.2M-1.5 -1.9L-0.5 -2.5L-0.6 -3.4M3.8 1.5L2.2 0.3L1.1 -0.9M1.3 0L0.2 -1.6L0.7 -3.2M-1.2 1.2L-1.1 -0.5L-0 -1.3" fill="none" stroke="#b700aa" stroke-width=".8" stroke-opacity=".7" stroke-linejoin="round"/>
<use href="#nd"/>
<circle r="9.6" fill="none" stroke="#6c282e" stroke-width=".85" stroke-opacity=".8"/>
</g>
<text class="nl" x="422.3" y="158.3" font-size="5.14" stroke-width="1.85">PUM2</text>
<text class="nd" x="422.3" y="158.3" font-size="5.14">PUM2</text>
<g transform="translate(442.3 183.5) scale(0.835)">
<ellipse cx=".7" cy="1.7" rx="11.6" ry="11.3" fill="url(#sh)"/>
<circle r="10" fill="#79c3b4"/>
<path d="M1.8 -1.5L3.7 -0.5L5.4 -0M-0.4 1.5L-2.5 1.6L-4.1 2.1M3.1 -0.2L2.7 1.5L1.8 2.6M-1.1 0.9L-0.3 0.2L0.4 0.8M-0.5 -1.1L-2 0.8L-3 2.3M4.5 0L3.3 1.8L1.7 1.3M0.8 -2.5L0.9 -4.3L1.7 -5.5M-0.5 2.9L-0.9 1.8L-0.1 1.2M-2.4 -0.4L-2.9 -1.3L-3.6 -1.7M-2.6 1.4L-0.7 1.4L-0.5 2.9M-1.7 -1.9L-0.4 -2.4L0.6 -2.9" fill="none" stroke="#19c212" stroke-width=".8" stroke-opacity=".7" stroke-linejoin="round"/>
<use href="#nd"/>
<circle r="9.6" fill="none" stroke="#426a62" stroke-width=".85" stroke-opacity=".8"/>
</g>
<text class="nl" x="450.5" y="176.2" font-size="5.14" stroke-width="1.85">PHLDA1</text>
<text class="nd" x="450.5" y="176.2" font-size="5.14">PHLDA1</text>
<g transform="translate(387.3 195) scale(0.835)">
<ellipse cx=".7" cy="1.7" rx="11.6" ry="11.3" fill="url(#sh)"/>
<circle r="10" fill="#c3ca88"/>
<path d="M-1.5 1.6L-1.6 3.4L-1.1 4.8M0.3 3.3L-0.6 4.1L-0.9 5M-3.8 1.6L-4.5 -0.1L-5.4 -1.3M-2.6 -1.4L-2.9 -0.5L-3.7 -0.5M2.5 3.1L3.9 4.7L5.5 4M2.2 1L0.7 1.9L-0.4 1.1M2.9 2.5L0.6 2.4L-0.7 3.6M-4.2 -0.4L-5 0.4L-4.6 1.1M0.6 3.9L1.6 4.6L1.6 5.7M-1.5 2.2L-2.9 2.6L-2.7 3.8M-3 2.3L-4.2 1.3L-5 2.2" fill="none" stroke="#d44510" stroke-width=".8" stroke-opacity=".7" stroke-linejoin="round"/>
<use href="#nd"/>
<circle r="9.6" fill="none" stroke="#6a6e4a" stroke-width=".85" stroke-opacity=".8"/>
</g>
<text class="nl" x="395.5" y="187.7" font-size="5.14" stroke-width="1.85">CENPA</text>
<text class="nd" x="395.5" y="187.7" font-size="5.14">CENPA</text>
<g transform="translate(399.3 222.6) scale(0.835)">
<ellipse cx=".7" cy="1.7" rx="11.6" ry="11.3" fill="url(#sh)"/>
<circle r="10" fill="#d19688"/>
<path d="M1.3 -0.3L1.2 -2.7L1.7 -4.5M-1.4 0.5L-1.1 2.2L-1.8 3.4M2.6 -0.6L4.6 0.1L6.2 0.7M-0.1 0.6L-1.9 -0.7L-1.9 -2.4M-1.7 2.4L-2.1 3.5L-1.9 4.5M-0.7 -2.1L-1.6 -4L-2.2 -5.5M3.7 2.6L5.7 1.8L7.5 1.6M3.1 0L4.8 -0.9L4.7 -2.4M3.8 2.2L4.2 0L6 0.3M-1.8 2.7L0.2 1.5L0.1 -0.5M0.6 1L-0.8 0.4L-1.9 0.3" fill="none" stroke="#e60294" stroke-width=".8" stroke-opacity=".7" stroke-linejoin="round"/>
<use href="#nd"/>
<circle r="9.6" fill="none" stroke="#72524a" stroke-width=".85" stroke-opacity=".8"/>
</g>
<text class="nl" x="407.5" y="215.3" font-size="5.14" stroke-width="1.85">DLGAP5</text>
<text class="nd" x="407.5" y="215.3" font-size="5.14">DLGAP5</text>
<g transform="translate(430 214.9) scale(0.835)">
<ellipse cx=".7" cy="1.7" rx="11.6" ry="11.3" fill="url(#sh)"/>
<circle r="10" fill="#96ca96"/>
<path d="M-0 0.8L-0.8 -0.6L-2.1 -0.4M-2.1 -2.1L-0.8 -1L0.5 -0.4M-0.4 -1.3L-1.7 -2.8L-3.1 -2M-2.6 -1.5L-3.5 -0.9L-4.3 -0.7M0.9 1.9L1.2 0.5L2.2 0.1M-4.2 2.4L-5.3 2.6L-6.1 2.3M2.7 1.7L4 2.4L4.7 3.3M-2.2 -0.2L-0.5 -1.7L-1.2 -3.5M-1.6 -0.1L-3.4 -0.9L-4.9 -0.3M-2.7 2.2L-1.9 1.1L-1.9 -0.1M2.1 1.5L2.5 -0.8L1.3 -2.2" fill="none" stroke="#b5d31a" stroke-width=".8" stroke-opacity=".7" stroke-linejoin="round"/>
<use href="#nd"/>
<circle r="9.6" fill="none" stroke="#526e52" stroke-width=".85" stroke-opacity=".8"/>
</g>
<text class="nl" x="438.2" y="207.6" font-size="5.14" stroke-width="1.85">NDEL1</text>
<text class="nd" x="438.2" y="207.6" font-size="5.14">NDEL1</text>
<g transform="translate(461.5 218.8) scale(0.835)">
<ellipse cx=".7" cy="1.7" rx="11.6" ry="11.3" fill="url(#sh)"/>
<circle r="10" fill="#88b4ca"/>
<path d="M3.4 -0.1L4.9 0.6L5.4 1.8M1.6 -1.1L-0 -2.4L-1.5 -1.7M-1.8 -0.3L-0.1 -0.9L1.2 -1.5M0.6 2.6L2.2 1.7L3.3 2.6M3.8 1.7L3.8 2.7L3.3 3.3M2.5 3.4L4.6 3.6L6 4.5M1.3 1.9L2.6 3.8L2.3 5.6M-3.7 -1.1L-4.2 -0L-3.4 0.4M2.7 1L2.9 -0.7L2.2 -1.9M-1.5 -1.3L-1 -2.3L-1.2 -3.3M-4.7 -0.3L-5 -1.7L-6 -2.2" fill="none" stroke="#10d470" stroke-width=".8" stroke-opacity=".7" stroke-linejoin="round"/>
<use href="#nd"/>
<circle r="9.6" fill="none" stroke="#4a626e" stroke-width=".85" stroke-opacity=".8"/>
</g>
<text class="nl" x="469.7" y="211.5" font-size="5.14" stroke-width="1.85">RALA</text>
<text class="nd" x="469.7" y="211.5" font-size="5.14">RALA</text>
<g transform="translate(503.7 225.6) scale(0.835)">
<ellipse cx=".7" cy="1.7" rx="11.6" ry="11.3" fill="url(#sh)"/>
<circle r="10" fill="#88b4ca"/>
<use href="#nd"/>
<circle r="9.6" fill="none" stroke="#4a626e" stroke-width=".85" stroke-opacity=".8"/>
</g>
<text class="nl" x="511.9" y="218.3" font-size="5.14" stroke-width="1.85">ZNF207</text>
<text class="nd" x="511.9" y="218.3" font-size="5.14">ZNF207</text>
<g transform="translate(464 253.3) scale(0.835)">
<ellipse cx=".7" cy="1.7" rx="11.6" ry="11.3" fill="url(#sh)"/>
<circle r="10" fill="#c3ca80"/>
<path d="M-1.1 -1.3L1 -0.3L2.4 0.8M0.9 3L2.9 3L4.2 3.8M3.7 -1.1L5.3 -2.4L5.8 -4M-4.1 -0.3L-4.3 1.6L-2.9 1.9M1.1 -1.6L-1.1 -1.6L-1.2 -3.4M-2.6 -0.7L-2.3 -2.8L-0.8 -3.6M-2.9 2L-1.2 2.9L-0.2 4.1M0.3 2.4L0.3 1.3L-0.5 0.9M-1.1 2.3L-2.1 1.7L-2.7 1M-2.8 -1.1L-1.3 0.7L-0.2 2.2M1.6 1.2L0.3 -0.5L-1.2 0.3" fill="none" stroke="#d33f0b" stroke-width=".8" stroke-opacity=".7" stroke-linejoin="round"/>
<use href="#nd"/>
<circle r="9.6" fill="none" stroke="#6a6e46" stroke-width=".85" stroke-opacity=".8"/>
</g>
<text class="nl" x="472.2" y="246" font-size="5.14" stroke-width="1.85">TACC3</text>
<text class="nd" x="472.2" y="246" font-size="5.14">TACC3</text>
<g transform="translate(431.5 264.5) scale(0.835)">
<ellipse cx=".7" cy="1.7" rx="11.6" ry="11.3" fill="url(#sh)"/>
<circle r="10" fill="#88c396"/>
<path d="M-1.1 -0.9L-0 -1L0.8 -0.8M-2.6 3.9L-3 2.8L-3.4 2M-4.4 -0.3L-3.3 -0.7L-2.8 -1.6M1.4 -1.3L-0.4 -0.8L-1.9 -0.4M2.4 2.6L2.8 1.1L1.9 0.4M-0.6 0.6L-0.8 2.5L0.5 3.3M2.2 -1.4L2.5 -2.4L2.6 -3.2M4.3 0.1L3.8 1.7L4.5 2.7M-0.3 -1.9L2.1 -2.2L4 -2.2M1.3 -2.6L1.3 -0.7L2.5 0M1.8 -2.2L2.4 -1.3L2.8 -0.5" fill="none" stroke="#7ec31b" stroke-width=".8" stroke-opacity=".7" stroke-linejoin="round"/>
<use href="#nd"/>
<circle r="9.6" fill="none" stroke="#4a6a52" stroke-width=".85" stroke-opacity=".8"/>
</g>
<text class="nl" x="439.7" y="257.2" font-size="5.14" stroke-width="1.85">TPX2</text>
<text class="nd" x="439.7" y="257.2" font-size="5.14">TPX2</text>
<g transform="translate(508.2 267.7) scale(0.835)">
<ellipse cx=".7" cy="1.7" rx="11.6" ry="11.3" fill="url(#sh)"/>
<circle r="10" fill="#bbca88"/>
<path d="M2 2.6L1.4 3.8L0.9 4.7M-1.4 -0.7L-0.2 0.5L-1.1 1.5M4.6 1.1L6.1 1.4L7.1 2.3M4.5 2.2L3.9 0.2L3 -1.1M-1.1 0.4L0.8 1.3L0.2 2.8M1.9 2.7L2.9 1.7L2.8 0.6M-1.2 -2.2L-0.2 -0.2L-0.8 1.4M-2.1 2.2L-3.2 3.8L-3.8 5.2M1.1 1.5L-0.9 2.7L-0.6 4.5M-1.6 0.3L-2.6 0.9L-2.2 1.8M1.1 -0.7L1.8 -2.6L2.2 -4.2" fill="none" stroke="#d45a10" stroke-width=".8" stroke-opacity=".7" stroke-linejoin="round"/>
<use href="#nd"/>
<circle r="9.6" fill="none" stroke="#666e4a" stroke-width=".85" stroke-opacity=".8"/>
</g>
<text class="nl" x="516.4" y="260.4" font-size="5.14" stroke-width="1.85">USP2</text>
<text class="nd" x="516.4" y="260.4" font-size="5.14">USP2</text>
<g transform="translate(450.2 309) scale(0.835)">
<ellipse cx=".7" cy="1.7" rx="11.6" ry="11.3" fill="url(#sh)"/>
<circle r="10" fill="#88c379"/>
<path d="M-2.1 0.5L-0.9 -0.8L-2 -1.8M-3.2 3.2L-3.8 4.4L-2.9 5M-3.2 -0.9L-4.5 -1.9L-4.6 -3.1M-0.3 -1.7L1.2 -2.6L1.8 -3.7M1.1 -0.7L3.2 0.3L4.9 1M-1.4 3.7L0.5 3.9L1 2.4M-0.4 0.5L-0.8 2.2L-2.2 2.3M-4.6 0.4L-3.8 -0.3L-3 -0.2M-4 2.5L-2.8 1.7L-1.7 1.9M0 0.9L2.1 0.2L1.9 -1.6M0.3 0.5L-0.8 2.4L-0.6 4.2" fill="none" stroke="#c2bb12" stroke-width=".8" stroke-opacity=".7" stroke-linejoin="round"/>
<use href="#nd"/>
<circle r="9.6" fill="none" stroke="#4a6a42" stroke-width=".85" stroke-opacity=".8"/>
</g>
<text class="nl" x="458.4" y="301.7" font-size="5.14" stroke-width="1.85">CENPJ</text>
<text class="nd" x="458.4" y="301.7" font-size="5.14">CENPJ</text>
<g transform="translate(465.4 303.3) scale(0.835)">
<ellipse cx=".7" cy="1.7" rx="11.6" ry="11.3" fill="url(#sh)"/>
<circle r="10" fill="#88b4d1"/>
<path d="M-0.3 0.4L-1.3 1.2L-1.9 2M1.2 -2.4L3.4 -1.6L5.3 -1.3M-1.1 0.2L-0.4 -1.7L-0.9 -3.2M1.3 3.1L1.5 2L1.4 1.2M2.1 3.4L3.8 4.4L4.9 5.5M3 -0.3L4.7 0.5L5.9 -0.4M0 0.9L-2 1.1L-3.6 1.5M3.5 2.5L4.5 3.8L4.4 5.2M-2.1 0.5L-0.1 1.6L1.7 1.7M-1 2.4L-2.4 2.1L-2.8 3.2M-3.7 2.6L-2.8 3.4L-2 3.9" fill="none" stroke="#02e682" stroke-width=".8" stroke-opacity=".7" stroke-linejoin="round"/>
<use href="#nd"/>
<circle r="9.6" fill="none" stroke="#4a6272" stroke-width=".85" stroke-opacity=".8"/>
</g>
<text class="nl" x="473.6" y="296" font-size="5.14" stroke-width="1.85">IKBKB</text>
<text class="nd" x="473.6" y="296" font-size="5.14">IKBKB</text>
<g transform="translate(375.8 308.5) scale(0.835)">
<ellipse cx=".7" cy="1.7" rx="11.6" ry="11.3" fill="url(#sh)"/>
<circle r="10" fill="#96ca96"/>
<path d="M0.4 -1.9L1.6 -2.5L2.7 -2.6M3.5 1.4L1.6 0.9L0.9 2.3M2.9 0.8L3.5 -0.1L4.3 -0.4M4.1 1.7L3 2.7L1.8 3M-1.7 1.4L-2.4 3L-3.8 3.1M-2.6 0.8L-3.4 -0.9L-3.7 -2.4M2.5 2.3L3.2 0.3L2.9 -1.3M3.1 -1.1L3.4 0.6L2.8 1.9M1.1 4L2.6 3.6L3.8 3.3M-1.1 4.1L0.7 5.3L1.1 7M-2.4 2.2L-0.9 2.2L0.1 1.7" fill="none" stroke="#b5d31a" stroke-width=".8" stroke-opacity=".7" stroke-linejoin="round"/>
<use href="#nd"/>
<circle r="9.6" fill="none" stroke="#526e52" stroke-width=".85" stroke-opacity=".8"/>
</g>
<text class="nl" x="384" y="301.2" font-size="5.14" stroke-width="1.85">AURKA</text>
<text class="nd" x="384" y="301.2" font-size="5.14">AURKA</text>
<g transform="translate(405.8 314.1) scale(0.835)">
<ellipse cx=".7" cy="1.7" rx="11.6" ry="11.3" fill="url(#sh)"/>
<circle r="10" fill="#808fc3"/>
<path d="M-0.9 3L-0.7 1.6L-1.7 1.2M-2.4 -1.3L-1.2 0.1L-1.5 1.5M-1.3 -1.2L-0.9 -2.3L-1.6 -3M3.2 1.5L3.1 -0.3L3.8 -1.5M-0.9 0.3L-2.2 0.8L-2.7 1.8M2.2 1.4L1.1 1.6L0.3 2.1M0.3 1.5L0.7 0.4L-0.2 0.1M2.6 1.9L2.2 0.9L2 -0M-2.2 -0.3L-1.2 0L-0.5 -0.4M0 -0.4L1.8 -0.9L2.4 -2.3M0.8 0.8L2.7 1.2L3.8 2.3" fill="none" stroke="#16c3b8" stroke-width=".8" stroke-opacity=".7" stroke-linejoin="round"/>
<use href="#nd"/>
<circle r="9.6" fill="none" stroke="#464e6a" stroke-width=".85" stroke-opacity=".8"/>
</g>
<text class="nl" x="414" y="306.8" font-size="5.14" stroke-width="1.85">AJUBA</text>
<text class="nd" x="414" y="306.8" font-size="5.14">AJUBA</text>
<g transform="translate(487.6 319) scale(0.835)">
<ellipse cx=".7" cy="1.7" rx="11.6" ry="11.3" fill="url(#sh)"/>
<circle r="10" fill="#585fb0"/>
<path d="M1.6 0.4L0.3 1.2L-0.8 1.7M0.7 2.7L1.7 0.9L0.3 -0.1M0.3 -2.6L-0.8 -1.8L-1.8 -1.2M-0.2 0.9L0.3 -1.1L1.5 -2.2M-0.6 0.7L0.9 -0.3L1.9 0.8M-1.2 2.5L-2.5 2L-3.5 1.7M-1.2 -0.4L0.2 1.4L1.7 0.4M2.8 0L1.6 1L1.4 2.2M-1.1 2.7L-2.2 1.9L-1.9 0.8M-0.6 -0.5L-1.9 -1.6L-1.2 -2.8M2.2 2.8L-0.1 2.9L-1 1.4" fill="none" stroke="#15929d" stroke-width=".8" stroke-opacity=".7" stroke-linejoin="round"/>
<use href="#nd"/>
<circle r="9.6" fill="none" stroke="#303460" stroke-width=".85" stroke-opacity=".8"/>
</g>
<text class="nl" x="495.8" y="311.7" font-size="5.14" stroke-width="1.85">NFKBIA</text>
<text class="nd" x="495.8" y="311.7" font-size="5.14">NFKBIA</text>
<g transform="translate(544.5 306.4) scale(0.835)">
<ellipse cx=".7" cy="1.7" rx="11.6" ry="11.3" fill="url(#sh)"/>
<circle r="10" fill="#96ca88"/>
<path d="M-0.5 4.2L0.1 5.9L-1.1 6.8M-1.2 -2L-0.9 -0.2L0 0.8M2.7 1.7L3.7 0.8L3.7 -0.2M-2.9 -1.5L-3.4 0.6L-5.2 0.8M0.1 0.5L1.1 -0.1L1.7 0.5M0.6 2L-1 3.5L0.1 4.9M2.6 -1.4L3.8 -0.4L5 -0.6M-0.8 0.6L-2.1 -0.7L-3.6 -0.5M2.6 -0.7L2.3 1.2L1.4 2.4M-0.5 -0.8L-2.8 -0.8L-3.3 0.9M2.5 -1.3L3.7 -2.3L4.8 -1.8" fill="none" stroke="#d4c710" stroke-width=".8" stroke-opacity=".7" stroke-linejoin="round"/>
<use href="#nd"/>
<circle r="9.6" fill="none" stroke="#526e4a" stroke-width=".85" stroke-opacity=".8"/>
</g>
<text class="nl" x="552.7" y="299.1" font-size="5.14" stroke-width="1.85">ZC3H12A</text>
<text class="nd" x="552.7" y="299.1" font-size="5.14">ZC3H12A</text>
<g transform="translate(507.3 333.4) scale(0.835)">
<ellipse cx=".7" cy="1.7" rx="11.6" ry="11.3" fill="url(#sh)"/>
<circle r="10" fill="#d58f80"/>
<path d="M3.3 0.9L2.1 -0.2L1 -1M-0.7 -1.9L-1 -4.1L-2.6 -5M-1.1 -1.5L0.1 -1.2L-0 -0.3M-2.4 1.1L-3.1 -0.4L-4.4 -0.6M4.1 -0.8L2.1 -0.2L1 -1.5M-0.5 4.2L-1 3.3L-1.8 3.5M1.7 2.8L-0.3 2.8L-1.2 1.5M3.8 2.6L5.1 0.9L3.7 -0.2M3 3.6L5.3 4.2L6.7 3M0.3 2.2L-1 2.7L-1.6 3.7M0.6 1L-0.6 2.6L-0.2 4.2" fill="none" stroke="#e60099" stroke-width=".8" stroke-opacity=".7" stroke-linejoin="round"/>
<use href="#nd"/>
<circle r="9.6" fill="none" stroke="#744e46" stroke-width=".85" stroke-opacity=".8"/>
</g>
<text class="nl" x="515.5" y="326.1" font-size="5.14" stroke-width="1.85">GABPB1</text>
<text class="nd" x="515.5" y="326.1" font-size="5.14">GABPB1</text>
<g transform="translate(256.8 349.3) scale(0.835)">
<ellipse cx=".7" cy="1.7" rx="11.6" ry="11.3" fill="url(#sh)"/>
<circle r="10" fill="#88c3c3"/>
<path d="M-0.6 -0.3L1.3 1.1L2.1 2.8M-3.9 1.5L-4.8 2.2L-5.4 2.9M-1.6 -1.6L-2.5 -2.3L-3.3 -2M2.6 1.2L2.6 0.1L3.2 -0.6M-4.3 -0.6L-2.7 -2.3L-1 -3.3M-4.1 0.3L-4.6 -0.6L-5.4 -0.4M1.7 0.5L2.3 -1.5L1.3 -2.9M-3.7 1L-2.1 0.7L-1.6 1.9M4.9 0.8L4.6 -0.2L4.4 -1M-1.2 -1.2L-0.2 -3L1.4 -2.7M-4.2 1.6L-3.1 1.2L-2.3 1.6" fill="none" stroke="#1bc336" stroke-width=".8" stroke-opacity=".7" stroke-linejoin="round"/>
<use href="#nd"/>
<circle r="9.6" fill="none" stroke="#4a6a6a" stroke-width=".85" stroke-opacity=".8"/>
</g>
<text class="nl" x="265" y="342" font-size="5.14" stroke-width="1.85">YAP1</text>
<text class="nd" x="265" y="342" font-size="5.14">YAP1</text>
<g transform="translate(203.6 347.7) scale(0.835)">
<ellipse cx=".7" cy="1.7" rx="11.6" ry="11.3" fill="url(#sh)"/>
<circle r="10" fill="#cab48f"/>
<path d="M-1.5 0.2L0.3 -0.4L1.5 -1.3M1.5 0.2L1 1.7L2.1 2.4M-0.6 1.6L-0.1 0.5L-0.9 -0M-3.3 1.3L-4.4 1L-4.2 0.1M1.5 0.8L3 2L2.9 3.6M-1.2 3.7L-1.1 2.6L-1.8 2M-2.4 3.2L-3.3 2.6L-4.2 2.8M-3 2.3L-2.9 0.7L-3.2 -0.5M-1.4 -2.5L-0.8 -3.4L0 -3.2M-0.6 -2L1.6 -2.1L3.2 -1.5M-1.3 2.3L0.7 3.4L1.4 5" fill="none" stroke="#d4143e" stroke-width=".8" stroke-opacity=".7" stroke-linejoin="round"/>
<use href="#nd"/>
<circle r="9.6" fill="none" stroke="#6e624e" stroke-width=".85" stroke-opacity=".8"/>
</g>
<text class="nl" x="211.8" y="340.4" font-size="5.14" stroke-width="1.85">ARID1A</text>
<text class="nd" x="211.8" y="340.4" font-size="5.14">ARID1A</text>
<g transform="translate(324 346.8) scale(0.835)">
<ellipse cx=".7" cy="1.7" rx="11.6" ry="11.3" fill="url(#sh)"/>
<circle r="10" fill="#79bb96"/>
<path d="M-0.5 0.5L0.4 2.1L0.3 3.6M-4.3 1.7L-6.3 0.4L-7.4 2M-1.3 -1.6L-1.2 -2.7L-0.6 -3.4M2.7 -0.2L0.5 -0.4L0.3 -2.1M2 3L1.6 4.9L-0 5.1M0.9 2L-0.2 1L-1 1.8M-2.9 2.7L-2.4 3.7L-1.7 4.2M-1.6 2.2L-0.4 0.7L-1.1 -0.7M-1.6 2.3L-0.5 1.1L0.8 0.9M-1.8 -1.6L-0.7 -0.7L-0.9 0.4M-1 1.4L-1.6 2.8L-1.2 4" fill="none" stroke="#58b51b" stroke-width=".8" stroke-opacity=".7" stroke-linejoin="round"/>
<use href="#nd"/>
<circle r="9.6" fill="none" stroke="#426652" stroke-width=".85" stroke-opacity=".8"/>
</g>
<text class="nl" x="332.2" y="339.5" font-size="5.14" stroke-width="1.85">CTNNB1</text>
<text class="nd" x="332.2" y="339.5" font-size="5.14">CTNNB1</text>
<g transform="translate(348.4 360.5) scale(0.835)">
<ellipse cx=".7" cy="1.7" rx="11.6" ry="11.3" fill="url(#sh)"/>
<circle r="10" fill="#88caac"/>
<path d="M-1.6 -0.4L-1 1.1L-1.3 2.4M2.4 3.5L1.5 4.4L1.9 5.3M-1 -1.6L-2.1 -2.9L-2.3 -4.2M-2.8 0.5L-2.8 2.8L-2.6 4.6M3 -2L2 -1L0.9 -0.6M0.1 2.9L-0.6 3.7L-0.2 4.4M0.4 2.1L1.5 1.2L2 0.2M-0.9 -0.9L1.4 -0.4L3 0.6M-2.7 -2L-2 -3.3L-0.9 -2.8M0.1 -1.6L-1 -0.1L-2.5 0.2M1.6 -0.4L0.4 -1.2L-0.7 -0.8" fill="none" stroke="#47d410" stroke-width=".8" stroke-opacity=".7" stroke-linejoin="round"/>
<use href="#nd"/>
<circle r="9.6" fill="none" stroke="#4a6e5e" stroke-width=".85" stroke-opacity=".8"/>
</g>
<text class="nl" x="356.6" y="353.2" font-size="5.14" stroke-width="1.85">CDH1</text>
<text class="nd" x="356.6" y="353.2" font-size="5.14">CDH1</text>
<g transform="translate(388.6 340.4) scale(0.835)">
<ellipse cx=".7" cy="1.7" rx="11.6" ry="11.3" fill="url(#sh)"/>
<circle r="10" fill="#79bb96"/>
<path d="M0 -1.2L-0.1 -2.7L0.7 -3.5M-1.7 0.6L-3.2 -0.6L-4.8 -0.5M-0.9 0.6L0.1 -1.3L1.5 -2.2M0.9 -2.1L2.7 -1.8L4.1 -2.1M-0.6 -2.2L-2.2 -0.7L-3.8 -1.5M-3.1 -0.1L-2.2 -0.7L-1.9 -1.4M-0.8 3.3L-0.5 1.6L0.6 0.9M1.2 2L3 2.8L3.1 4.4M-1.3 2.2L-1.6 0.9L-1.8 -0.2M3.9 2.5L5 4.4L6.6 5.1M-1.5 3.9L-3.8 4.5L-5.7 5.1" fill="none" stroke="#58b51b" stroke-width=".8" stroke-opacity=".7" stroke-linejoin="round"/>
<use href="#nd"/>
<circle r="9.6" fill="none" stroke="#426652" stroke-width=".85" stroke-opacity=".8"/>
</g>
<text class="nl" x="396.8" y="333.1" font-size="5.14" stroke-width="1.85">MDM2</text>
<text class="nd" x="396.8" y="333.1" font-size="5.14">MDM2</text>
<g transform="translate(421.8 342.4) scale(0.835)">
<ellipse cx=".7" cy="1.7" rx="11.6" ry="11.3" fill="url(#sh)"/>
<circle r="10" fill="#d1ca96"/>
<path d="M-0.8 0.1L0.1 -1.1L1.2 -1.3M3.5 2.9L4.7 1.3L6 2.2M-0.8 0.3L0.5 0.3L0.6 1.4M3.7 0.3L5.9 -0.2L7.5 0.4M1.8 -2L1.1 -1.3L0.7 -0.6M-3.1 -1.6L-2.7 -3.4L-2.1 -4.7M-1.9 1.2L-1.8 -0.1L-2.4 -0.9M-3 -0.6L-4.5 -1L-5.4 -0.2M-1.2 -1.5L1 -1.6L1.8 0M1.7 1.2L4 1.8L5.3 3.2M-1 -1.3L-0.1 0L0.5 1" fill="none" stroke="#e7130b" stroke-width=".8" stroke-opacity=".7" stroke-linejoin="round"/>
<use href="#nd"/>
<circle r="9.6" fill="none" stroke="#726e52" stroke-width=".85" stroke-opacity=".8"/>
</g>
<text class="nl" x="430" y="335.1" font-size="5.14" stroke-width="1.85">GADD45A</text>
<text class="nd" x="430" y="335.1" font-size="5.14">GADD45A</text>
<g transform="translate(297.9 372.3) scale(0.835)">
<ellipse cx=".7" cy="1.7" rx="11.6" ry="11.3" fill="url(#sh)"/>
<circle r="10" fill="#80bbbb"/>
<path d="M-4.3 2.3L-2.9 3.6L-1.6 4.5M3 -1.8L0.6 -1.7L-0.1 0M3.8 -0.5L3.4 1.7L5.1 2.5M1 -1L1.7 0.5L0.5 1.2M-0 2.4L-0.2 0.8L0.5 -0.2M-0.6 3.4L1.4 3L2.8 3.9M0.6 -2.5L1.9 -1.8L2.5 -0.8M-1.8 -0L-2.1 1.1L-2.6 1.8M-0.4 -0.5L0.5 -1.4L1.4 -0.9M3.9 -0.8L3.9 0.5L3.4 1.4M-2.2 3.7L-4.1 3.7L-5.6 4" fill="none" stroke="#1fb537" stroke-width=".8" stroke-opacity=".7" stroke-linejoin="round"/>
<use href="#nd"/>
<circle r="9.6" fill="none" stroke="#466666" stroke-width=".85" stroke-opacity=".8"/>
</g>
<text class="nl" x="306.1" y="365" font-size="5.14" stroke-width="1.85">SOX2</text>
<text class="nd" x="306.1" y="365" font-size="5.14">SOX2</text>
<g transform="translate(321.5 378.7) scale(0.835)">
<ellipse cx=".7" cy="1.7" rx="11.6" ry="11.3" fill="url(#sh)"/>
<circle r="10" fill="#79bbb4"/>
<path d="M3.4 2.3L5.2 3.4L6.9 3.6M-0.4 -2L-0.8 -4.3L-0.6 -6.1M-3.2 0.7L-3.4 -1.2L-4.9 -1M-2 3.3L-3.1 2.9L-3.4 2.1M-2.7 1.5L-3.7 3.4L-2.7 4.8M-1.4 1.8L-0.1 0.1L-0.7 -1.4M-2.4 2L-4.4 1.5L-4.9 -0.1M-3.6 1.4L-2.5 1.1L-2 1.8M2.7 1.7L1.9 0.5L0.8 0.6M-1.2 -0.6L-2.3 1.3L-3.9 0.6M-1.5 2.3L-3.1 3.3L-4.1 4.4" fill="none" stroke="#1bb522" stroke-width=".8" stroke-opacity=".7" stroke-linejoin="round"/>
<use href="#nd"/>
<circle r="9.6" fill="none" stroke="#426662" stroke-width=".85" stroke-opacity=".8"/>
</g>
<text class="nl" x="329.7" y="371.4" font-size="5.14" stroke-width="1.85">ESR1</text>
<text class="nd" x="329.7" y="371.4" font-size="5.14">ESR1</text>
<g transform="translate(361.4 375.1) scale(0.835)">
<ellipse cx=".7" cy="1.7" rx="11.6" ry="11.3" fill="url(#sh)"/>
<circle r="10" fill="#d19e96"/>
<path d="M1.3 1.4L1.4 2.6L0.9 3.3M-2.2 2.3L-3.9 2.3L-4.9 3.3M-3.1 0.6L-3.7 2.8L-2 3.6M-0.5 4.4L-1.5 3.2L-2.5 2.3M-2.7 -0.9L-1.5 -2.8L0.1 -3.6M2.9 -0.4L0.9 -0.9L0.7 -2.6M1.9 0.3L0.1 -0.4L-1.3 -1M-4 0.5L-2.7 1.1L-1.5 1.1M3 -1.4L3.9 -3L5.3 -2.9M-4.3 1.1L-4 -0.8L-2.8 -1.9M-1.3 0.6L0.1 2.3L1.8 2.3" fill="none" stroke="#e70ba8" stroke-width=".8" stroke-opacity=".7" stroke-linejoin="round"/>
<use href="#nd"/>
<circle r="9.6" fill="none" stroke="#725652" stroke-width=".85" stroke-opacity=".8"/>
</g>
<text class="nl" x="369.6" y="367.8" font-size="5.14" stroke-width="1.85">TP53</text>
<text class="nd" x="369.6" y="367.8" font-size="5.14">TP53</text>
<g transform="translate(453.3 365.4) scale(0.835)">
<ellipse cx=".7" cy="1.7" rx="11.6" ry="11.3" fill="url(#sh)"/>
<circle r="10" fill="#acca79"/>
<path d="M0.8 2.4L-1.1 3.7L-2.9 2.9M-1.1 2.9L-1.4 5.2L0 6.5M-0.3 3.5L1.6 4.7L3 5.7M3.5 -0.8L3.2 -1.9L2.6 -2.7M-0.9 2.4L-1.1 0.5L0 -0.5M2.5 3.2L1.8 5L3 6.1M-4 -0L-2.7 1.1L-1.4 0.7M-1.6 3.8L-2.4 2.5L-1.4 1.7M-0.9 -1L0.8 -1.3L2 -2.2M0.3 3.3L1.8 4.2L2.7 5.2M-4.9 1.1L-6 -0.9L-5.7 -2.6" fill="none" stroke="#d17108" stroke-width=".8" stroke-opacity=".7" stroke-linejoin="round"/>
<use href="#nd"/>
<circle r="9.6" fill="none" stroke="#5e6e42" stroke-width=".85" stroke-opacity=".8"/>
</g>
<text class="nl" x="461.5" y="358.1" font-size="5.14" stroke-width="1.85">PRKCA</text>
<text class="nd" x="461.5" y="358.1" font-size="5.14">PRKCA</text>
<g transform="translate(549.1 371.1) scale(0.835)">
<ellipse cx=".7" cy="1.7" rx="11.6" ry="11.3" fill="url(#sh)"/>
<circle r="10" fill="#96ca88"/>
<use href="#nd"/>
<circle r="9.6" fill="none" stroke="#526e4a" stroke-width=".85" stroke-opacity=".8"/>
</g>
<text class="nl" x="557.3" y="363.8" font-size="5.14" stroke-width="1.85">MAP9</text>
<text class="nd" x="557.3" y="363.8" font-size="5.14">MAP9</text>
<g transform="translate(272.1 391.5) scale(0.835)">
<ellipse cx=".7" cy="1.7" rx="11.6" ry="11.3" fill="url(#sh)"/>
<circle r="10" fill="#495093"/>
<path d="M-1.6 3.9L-3.8 4.6L-5.6 5.2M1.7 3.2L3 1.9L4.5 1.5M-3 2.7L-3.7 3.8L-4 4.7M3.4 -1.6L2.1 0.4L0.2 0.7M1.6 2.3L1.8 3.9L2.9 4.5M-1.9 -0.2L-0.6 1.2L-0.4 2.7M2.6 3.5L3.1 5.5L3.4 7M3.3 2.1L4.2 2.6L4.9 2.2M4.7 0.2L3.9 -1.7L3.3 -3.2M1.8 -0.9L0.4 -0.4L-0.7 -0.7M3.2 2.9L4.4 3.5L4 4.5" fill="none" stroke="#1b7379" stroke-width=".8" stroke-opacity=".7" stroke-linejoin="round"/>
<use href="#nd"/>
<circle r="9.6" fill="none" stroke="#282c50" stroke-width=".85" stroke-opacity=".8"/>
</g>
<text class="nl" x="280.3" y="384.2" font-size="5.14" stroke-width="1.85">STK11</text>
<text class="nd" x="280.3" y="384.2" font-size="5.14">STK11</text>
<g transform="translate(398 389) scale(0.835)">
<ellipse cx=".7" cy="1.7" rx="11.6" ry="11.3" fill="url(#sh)"/>
<circle r="10" fill="#808fca"/>
<path d="M2.9 -1.5L1.9 -2.5L2.2 -3.6M-2.7 2.4L-3.8 1.9L-3.4 1M-3.2 1.3L-5.2 0.7L-6.4 -0.3M1.1 0.1L0.9 -1.9L2.3 -2.8M0.3 -0.8L1.8 -0.9L1.9 -2.1M-0.3 -1.5L-2 -1.5L-3.4 -1.8M-4.7 -0.3L-2.9 0.1L-1.4 -0.1M-0.2 -1.9L0.3 -3.3L1.2 -4.1M-2.4 0.2L-1.2 1.3L-1.1 2.6M3 1.1L4.1 1L5 0.9M4.5 -0.6L5.5 -0.2L5.7 0.6" fill="none" stroke="#0bd3cb" stroke-width=".8" stroke-opacity=".7" stroke-linejoin="round"/>
<use href="#nd"/>
<circle r="9.6" fill="none" stroke="#464e6e" stroke-width=".85" stroke-opacity=".8"/>
</g>
<text class="nl" x="406.2" y="381.7" font-size="5.14" stroke-width="1.85">RPS6KB1</text>
<text class="nd" x="406.2" y="381.7" font-size="5.14">RPS6KB1</text>
<g transform="translate(442 386.3) scale(0.835)">
<ellipse cx=".7" cy="1.7" rx="11.6" ry="11.3" fill="url(#sh)"/>
<circle r="10" fill="#caca80"/>
<use href="#nd"/>
<circle r="9.6" fill="none" stroke="#6e6e46" stroke-width=".85" stroke-opacity=".8"/>
</g>
<text class="nl" x="450.2" y="379" font-size="5.14" stroke-width="1.85">YY1</text>
<text class="nd" x="450.2" y="379" font-size="5.14">YY1</text>
<g transform="translate(427.4 393.6) scale(0.835)">
<ellipse cx=".7" cy="1.7" rx="11.6" ry="11.3" fill="url(#sh)"/>
<circle r="10" fill="#d1969e"/>
<use href="#nd"/>
<circle r="9.6" fill="none" stroke="#725256" stroke-width=".85" stroke-opacity=".8"/>
</g>
<g transform="translate(473.9 388) scale(0.835)">
<ellipse cx=".7" cy="1.7" rx="11.6" ry="11.3" fill="url(#sh)"/>
<circle r="10" fill="#79bb6a"/>
<path d="M-3 1.6L-1.1 1.6L0 2.8M-0.8 1.4L-0.7 -0.1L-1.7 -0.7M-1.4 2.8L-1.5 4.2L-0.3 4.5M-3.2 3.4L-1 3.2L0.7 2.9M0.8 1.2L2.1 1.8L3.2 1.4M-0.8 2.6L0.6 0.8L2.4 1.1M-0.8 -0.5L0.5 -1L1 0M3.5 2L3.5 0.9L2.6 0.8M-3.5 0.5L-4.7 2.5L-6.5 2.3M0 -1.4L0 -2.5L0.1 -3.4M1 3.3L1.7 4.8L1 5.9" fill="none" stroke="#b2af13" stroke-width=".8" stroke-opacity=".7" stroke-linejoin="round"/>
<use href="#nd"/>
<circle r="9.6" fill="none" stroke="#42663a" stroke-width=".85" stroke-opacity=".8"/>
</g>
<text class="nl" x="482.1" y="380.7" font-size="5.14" stroke-width="1.85">WHSC1</text>
<text class="nd" x="482.1" y="380.7" font-size="5.14">WHSC1</text>
<g transform="translate(523.4 385.9) scale(0.835)">
<ellipse cx=".7" cy="1.7" rx="11.6" ry="11.3" fill="url(#sh)"/>
<circle r="10" fill="#8888ca"/>
<path d="M-3.3 2.4L-3.6 3.4L-2.8 3.7M0.6 1.1L0.4 0.1L-0.3 -0.2M1.1 4L0.2 2L0.5 0.2M-0 0.8L-1.2 1.9L-2 2.9M-0.5 -0.1L0.1 -1.9L1.5 -2.4M1.9 -0.6L2.2 -2.3L1.3 -3.2M-4 2.7L-4.8 4.3L-4.1 5.5M3.5 1.1L4.2 2.7L5.5 3.3M-4.2 0L-4.6 -2.1L-3.3 -3.2M-2 -0.7L-1.5 0.6L-2.1 1.5M-3.3 0.6L-2.9 2.9L-2 4.5" fill="none" stroke="#10b4d4" stroke-width=".8" stroke-opacity=".7" stroke-linejoin="round"/>
<use href="#nd"/>
<circle r="9.6" fill="none" stroke="#4a4a6e" stroke-width=".85" stroke-opacity=".8"/>
</g>
<text class="nl" x="531.6" y="378.6" font-size="5.14" stroke-width="1.85">GABPA</text>
<text class="nd" x="531.6" y="378.6" font-size="5.14">GABPA</text>
<g transform="translate(384.7 408.1) scale(0.835)">
<ellipse cx=".7" cy="1.7" rx="11.6" ry="11.3" fill="url(#sh)"/>
<circle r="10" fill="#d19e80"/>
<path d="M0.2 0.8L-1.3 1.9L-2.2 3.1M-1.6 -0.6L-2.7 0.3L-3.8 0.8M-1.7 4L-0.9 5.2L0.1 5.7M2.4 -0.9L0.5 -1.9L-1.2 -2.2M-4 0L-4.5 -1L-4.3 -1.8M-3 -1.7L-2.3 -3.3L-0.9 -3.4M3.7 -0.4L6 0.4L5.8 2.2M0.4 -0.3L2.1 -0.3L3 0.6M0.7 1.3L3 1.6L4.4 0.3M-0.3 2.9L1.1 2.3L2 1.3M-1.5 2.6L0.1 3L1.3 3" fill="none" stroke="#e4006c" stroke-width=".8" stroke-opacity=".7" stroke-linejoin="round"/>
<use href="#nd"/>
<circle r="9.6" fill="none" stroke="#725646" stroke-width=".85" stroke-opacity=".8"/>
</g>
<text class="nl" x="392.9" y="400.8" font-size="5.14" stroke-width="1.85">BCL2L11</text>
<text class="nd" x="392.9" y="400.8" font-size="5.14">BCL2L11</text>
<g transform="translate(311.2 414.3) scale(0.835)">
<ellipse cx=".7" cy="1.7" rx="11.6" ry="11.3" fill="url(#sh)"/>
<circle r="10" fill="#d1ac96"/>
<path d="M-4.5 -0L-5.5 -1.1L-6.5 -0.4M-0.7 0.1L-1.5 1.6L-0.4 2.4M-0.1 3.3L-1.6 4.1L-2.8 4.8M-2.8 -1.3L-4.4 -1.3L-4.7 -2.6M-1.5 1.2L-3.4 1.7L-3.9 3.2M-1.2 2.3L-3.3 1.4L-3.6 -0.3M1.9 -2.5L2.6 -0.7L1.2 0M-2.7 2.6L-1.8 1.5L-1.2 0.5M0.7 -1.1L0.9 -0.1L1.1 0.7M-1.8 -2.4L-3.7 -3.8L-4.6 -5.4M-0.9 -1.6L0.3 -1.3L1 -0.5" fill="none" stroke="#e70b71" stroke-width=".8" stroke-opacity=".7" stroke-linejoin="round"/>
<use href="#nd"/>
<circle r="9.6" fill="none" stroke="#725e52" stroke-width=".85" stroke-opacity=".8"/>
</g>
<text class="nl" x="319.4" y="407" font-size="5.14" stroke-width="1.85">SMAD4</text>
<text class="nd" x="319.4" y="407" font-size="5.14">SMAD4</text>
<g transform="translate(209.8 418.4) scale(0.835)">
<ellipse cx=".7" cy="1.7" rx="11.6" ry="11.3" fill="url(#sh)"/>
<circle r="10" fill="#aca55c"/>
<path d="M0.5 -1.8L-1.3 -2.4L-2 -3.8M0.1 -1.5L1.6 -0.1L3.2 0.2M-2.7 -1.9L-3.6 -0.1L-5.1 -0.7M4.5 1.3L5.6 3.4L7.4 3.3M-2.7 3.3L-2 1.7L-1.8 0.3M1.3 3.9L-0.2 2.3L-1.4 1.1M3.5 3.2L3.8 5.3L4.1 7M-2.3 -1.4L-1.4 -0.2L-2.2 0.7M0.1 0.9L-1.9 1.3L-2.3 3M1.2 4.2L2.8 3.3L2.9 1.8M-0 4L1.4 4.3L2.4 3.7" fill="none" stroke="#992219" stroke-width=".8" stroke-opacity=".7" stroke-linejoin="round"/>
<use href="#nd"/>
<circle r="9.6" fill="none" stroke="#5e5a32" stroke-width=".85" stroke-opacity=".8"/>
</g>
<text class="nl" x="218" y="411.1" font-size="5.14" stroke-width="1.85">LDHB</text>
<text class="nd" x="218" y="411.1" font-size="5.14">LDHB</text>
<g transform="translate(246.7 423.7) scale(0.835)">
<ellipse cx=".7" cy="1.7" rx="11.6" ry="11.3" fill="url(#sh)"/>
<circle r="10" fill="#cabb88"/>
<path d="M-0 1.9L-0.6 3.2L-1.6 3.7M-3.1 -1.4L-1.6 -2L-0.4 -1.8M0.1 -0.1L1.1 -0.8L1.8 -0.3M-0.3 0.9L-1.1 2.9L-1.6 4.6M-0.9 0.4L-2.6 0.8L-3.7 1.7M-2.3 -1.3L-3.3 -3.4L-3.4 -5.1M4.9 0.3L3 -0.3L1.6 -0.9M-3.8 0.2L-4.6 -1.3L-4.1 -2.6M-0.5 0.9L-2.5 -0.1L-3 -1.8M1.7 2.4L0.4 3.4L-0.9 3.4M-3.9 -1.4L-3.2 -3.3L-1.9 -4.4" fill="none" stroke="#d4101c" stroke-width=".8" stroke-opacity=".7" stroke-linejoin="round"/>
<use href="#nd"/>
<circle r="9.6" fill="none" stroke="#6e664a" stroke-width=".85" stroke-opacity=".8"/>
</g>
<text class="nl" x="254.9" y="416.4" font-size="5.14" stroke-width="1.85">ARID3A</text>
<text class="nd" x="254.9" y="416.4" font-size="5.14">ARID3A</text>
<g transform="translate(340.3 431.8) scale(0.835)">
<ellipse cx=".7" cy="1.7" rx="11.6" ry="11.3" fill="url(#sh)"/>
<circle r="10" fill="#88c3ca"/>
<path d="M-3.5 -0.9L-4.9 -1.9L-5.9 -0.9M0.2 3.6L2.5 4.3L3.5 2.7M-3.8 0.7L-4.9 2L-3.9 3M-1.6 3.8L-0 1.9L-1.3 0.5M3.1 0.6L4.3 2.6L3.4 4.2M-3.2 3.3L-1.6 5L0.3 4.8M-4.3 1.7L-4.2 0.6L-4.9 0M1.3 -1.1L0.4 0.5L-0.1 1.8M-3.8 2L-2.8 2.3L-3 3M2.4 1.4L2.6 -1L4.4 -0.9M-2.4 0.2L-1.4 1.7L0.1 1.3" fill="none" stroke="#10d445" stroke-width=".8" stroke-opacity=".7" stroke-linejoin="round"/>
<use href="#nd"/>
<circle r="9.6" fill="none" stroke="#4a6a6e" stroke-width=".85" stroke-opacity=".8"/>
</g>
<text class="nl" x="348.5" y="424.5" font-size="5.14" stroke-width="1.85">TWIST1</text>
<text class="nd" x="348.5" y="424.5" font-size="5.14">TWIST1</text>
<g transform="translate(382.2 430.2) scale(0.835)">
<ellipse cx=".7" cy="1.7" rx="11.6" ry="11.3" fill="url(#sh)"/>
<circle r="10" fill="#8880c3"/>
<path d="M1.3 3.3L1.9 1.2L0.3 0.6M3.5 2L4 3.6L3.4 4.8M-0.7 0.2L-1.2 1.8L-1.3 3.2M0.2 3.1L-1.8 3.8L-3 2.6M-2.6 1.4L-3 3.7L-2.6 5.5M1.7 2.1L0.3 0.5L-0.8 -0.9M2.9 2.4L3.1 4.1L2.1 5M-1.3 1.8L-3.1 0.5L-3.4 -1.2M-0.8 0.8L0.8 2L2.4 1.7M-0.1 -1.7L-1.3 -3.7L-3.2 -3.5M-0.1 0.3L1.4 1.9L0.6 3.5" fill="none" stroke="#1694c3" stroke-width=".8" stroke-opacity=".7" stroke-linejoin="round"/>
<use href="#nd"/>
<circle r="9.6" fill="none" stroke="#4a466a" stroke-width=".85" stroke-opacity=".8"/>
</g>
<text class="nl" x="390.4" y="422.9" font-size="5.14" stroke-width="1.85">GSK3B</text>
<text class="nd" x="390.4" y="422.9" font-size="5.14">GSK3B</text>
<g transform="translate(284.6 435.8) scale(0.835)">
<ellipse cx=".7" cy="1.7" rx="11.6" ry="11.3" fill="url(#sh)"/>
<circle r="10" fill="#88cac3"/>
<use href="#nd"/>
<circle r="9.6" fill="none" stroke="#4a6e6a" stroke-width=".85" stroke-opacity=".8"/>
</g>
<text class="nl" x="292.8" y="428.5" font-size="5.14" stroke-width="1.85">MBD3</text>
<text class="nd" x="292.8" y="428.5" font-size="5.14">MBD3</text>
<g transform="translate(446.2 420.2) scale(0.835)">
<ellipse cx=".7" cy="1.7" rx="11.6" ry="11.3" fill="url(#sh)"/>
<circle r="10" fill="#acca88"/>
<use href="#nd"/>
<circle r="9.6" fill="none" stroke="#5e6e4a" stroke-width=".85" stroke-opacity=".8"/>
</g>
<text class="nl" x="454.4" y="412.9" font-size="5.14" stroke-width="1.85">PPP1R2</text>
<text class="nd" x="454.4" y="412.9" font-size="5.14">PPP1R2</text>
<g transform="translate(501.5 418) scale(0.835)">
<ellipse cx=".7" cy="1.7" rx="11.6" ry="11.3" fill="url(#sh)"/>
<circle r="10" fill="#80acca"/>
<path d="M-2.5 0.6L-2 -1.7L-0.1 -1.7M-3.9 1.6L-3.5 3.4L-3.6 4.8M0.4 3.1L1.9 3L2.5 1.9M-4.7 1L-3.8 1.6L-2.9 1.7M-2.4 -0.4L-1.1 1.1L0.4 1.8M1.4 -0L3 0.6L3.4 1.9M3.9 2.9L2.2 2.9L1 3.4M3 -0.5L2.1 -0.1L2.3 0.7M-4.3 1.3L-2.8 0.9L-3.2 -0.4M0.3 1.5L0.3 -0.4L-0.7 -1.6M4.9 1.1L6.1 -0.9L7.9 -1.5" fill="none" stroke="#0bd37b" stroke-width=".8" stroke-opacity=".7" stroke-linejoin="round"/>
<use href="#nd"/>
<circle r="9.6" fill="none" stroke="#465e6e" stroke-width=".85" stroke-opacity=".8"/>
</g>
<text class="nl" x="509.7" y="410.7" font-size="5.14" stroke-width="1.85">PPA1</text>
<text class="nd" x="509.7" y="410.7" font-size="5.14">PPA1</text>
<g transform="translate(473 444.6) scale(0.835)">
<ellipse cx=".7" cy="1.7" rx="11.6" ry="11.3" fill="url(#sh)"/>
<circle r="10" fill="#b4ca80"/>
<use href="#nd"/>
<circle r="9.6" fill="none" stroke="#626e46" stroke-width=".85" stroke-opacity=".8"/>
</g>
<text class="nl" x="481.2" y="437.3" font-size="5.14" stroke-width="1.85">PPP1R10</text>
<text class="nd" x="481.2" y="437.3" font-size="5.14">PPP1R10</text>
<g transform="translate(394.1 454) scale(0.835)">
<ellipse cx=".7" cy="1.7" rx="11.6" ry="11.3" fill="url(#sh)"/>
<circle r="10" fill="#88cab4"/>
<path d="M0.7 0.9L-1.1 1.7L-1 3.2M4.7 1.2L6.7 0.3L8.3 1.1M-2.2 0.6L-1.6 -1.1L-2 -2.5M0.5 -1.8L-1.2 -1.1L-1 0.4M3.5 1.3L2 3L2.3 4.9M-0.5 1.2L-0.3 2.6L-0.6 3.7M0.3 -2.1L1.9 -0.7L1 0.7M1.5 -0.6L3.4 -1.2L4.9 -0.8M1.8 -1.5L1.1 -0.6L0.4 -0.3M0.7 0.7L2 -0.7L3.5 -1.1M2.5 1.7L2.5 3.5L3.6 4.4" fill="none" stroke="#32d410" stroke-width=".8" stroke-opacity=".7" stroke-linejoin="round"/>
<use href="#nd"/>
<circle r="9.6" fill="none" stroke="#4a6e62" stroke-width=".85" stroke-opacity=".8"/>
</g>
<text class="nl" x="402.3" y="446.7" font-size="5.14" stroke-width="1.85">STUB1</text>
<text class="nd" x="402.3" y="446.7" font-size="5.14">STUB1</text>
<g transform="translate(291 461) scale(0.835)">
<ellipse cx=".7" cy="1.7" rx="11.6" ry="11.3" fill="url(#sh)"/>
<circle r="10" fill="#9ec388"/>
<path d="M-2.7 1.3L-1.3 2.1L-0.4 1.3M4.6 1.2L3.4 1.6L2.8 0.8M0.8 -0.6L1.9 -1.1L1.8 -2M-1.9 2.9L-0.3 4.6L1.5 4M4 1.3L4.9 2.6L6.1 3.1M-1 -2.2L-1.2 -3.8L-1.8 -4.9M-4 0.7L-5.3 0.6L-5.4 -0.4M-1.1 3.4L-2 1.6L-3.6 2.1M-1.5 2.8L-0.6 1.9L-0.7 0.9M-0.5 3.9L-0.6 1.9L1 1.7M2.6 2.8L2.7 1.4L2.1 0.4" fill="none" stroke="#c39f1b" stroke-width=".8" stroke-opacity=".7" stroke-linejoin="round"/>
<use href="#nd"/>
<circle r="9.6" fill="none" stroke="#566a4a" stroke-width=".85" stroke-opacity=".8"/>
</g>
<text class="nl" x="299.2" y="453.7" font-size="5.14" stroke-width="1.85">YBX1</text>
<text class="nd" x="299.2" y="453.7" font-size="5.14">YBX1</text>
<g transform="translate(312.5 467.2) scale(0.835)">
<ellipse cx=".7" cy="1.7" rx="11.6" ry="11.3" fill="url(#sh)"/>
<circle r="10" fill="#d1ac88"/>
<use href="#nd"/>
<circle r="9.6" fill="none" stroke="#725e4a" stroke-width=".85" stroke-opacity=".8"/>
</g>
<text class="nl" x="320.7" y="459.9" font-size="5.14" stroke-width="1.85">PUF60</text>
<text class="nd" x="320.7" y="459.9" font-size="5.14">PUF60</text>
<g transform="translate(248.6 471) scale(0.835)">
<ellipse cx=".7" cy="1.7" rx="11.6" ry="11.3" fill="url(#sh)"/>
<circle r="10" fill="#88acd1"/>
<path d="M2.2 3.5L3.7 4.7L4.9 5.7M1.5 2.8L3.5 4.1L3.7 6M3.1 -1.6L1.6 -2L0.4 -2.5M-1.1 2.2L1.1 1.5L2.6 2.5M-0.2 2.1L-1.7 2.1L-2.9 2.2M-0.7 -1.6L-1.2 -0.3L-0.1 0.1M2.1 2L3.1 1.3L3.5 0.4M3.7 1.3L4.4 -0L4.8 -1.2M-0.9 2.7L1.3 2.2L2.8 3.4M2 -1.6L0.3 -2.6L-1.3 -3.1M-1.7 -1.8L-0.8 -2.4L-1.2 -3.2" fill="none" stroke="#02e698" stroke-width=".8" stroke-opacity=".7" stroke-linejoin="round"/>
<use href="#nd"/>
<circle r="9.6" fill="none" stroke="#4a5e72" stroke-width=".85" stroke-opacity=".8"/>
</g>
<text class="nl" x="256.8" y="463.7" font-size="5.14" stroke-width="1.85">RPL3</text>
<text class="nd" x="256.8" y="463.7" font-size="5.14">RPL3</text>
<g transform="translate(439.5 468.5) scale(0.835)">
<ellipse cx=".7" cy="1.7" rx="11.6" ry="11.3" fill="url(#sh)"/>
<circle r="10" fill="#88acca"/>
<path d="M3.7 2.9L5.5 3.7L6.5 4.9M-3.2 0.5L-1.9 -0.5L-0.7 -0.9M1.6 -2.6L3.8 -1.9L5.5 -1.4M-0.4 -0.6L-0.3 1.2L-0.6 2.6M2.9 -1.1L4.2 -0.6L5.3 -0.9M-1.8 3.5L-2.6 2.6L-3.5 2.1M2 -1.4L1 -1.9L0.1 -2.1M0 -0.6L-1.7 -2.1L-3.5 -2.7M0 2L-1.3 1.5L-2.4 1.3M0.5 1.1L0.8 2.7L-0 3.6M0 0.2L1.4 -1.1L3 -1.4" fill="none" stroke="#10d486" stroke-width=".8" stroke-opacity=".7" stroke-linejoin="round"/>
<use href="#nd"/>
<circle r="9.6" fill="none" stroke="#4a5e6e" stroke-width=".85" stroke-opacity=".8"/>
</g>
<text class="nl" x="447.7" y="461.2" font-size="5.14" stroke-width="1.85">NQO1</text>
<text class="nd" x="447.7" y="461.2" font-size="5.14">NQO1</text>
<g transform="translate(375.6 486.3) scale(0.835)">
<ellipse cx=".7" cy="1.7" rx="11.6" ry="11.3" fill="url(#sh)"/>
<circle r="10" fill="#79bb6a"/>
<path d="M0.9 -2.4L2.3 -2.5L2.8 -3.5M1.8 1.2L3.7 1.5L4.4 0.1M0.1 -0.2L1.6 -2L0.9 -3.7M-2.1 1.2L-1.5 3.3L0.2 3.4M-0.3 1.1L-2.5 0.6L-3 2.3M1 1.3L1.8 0.3L1.1 -0.3M-2.3 1.7L-3.6 1.8L-4.6 2.2M-1 -1.4L-3.1 -1.5L-4.5 -0.7M-0.1 0.3L-2.1 0.7L-3.8 0.8M3.4 3.1L3.5 5.1L3.7 6.7M-3.9 -0.3L-5.1 1.1L-6.2 0.1" fill="none" stroke="#b2af13" stroke-width=".8" stroke-opacity=".7" stroke-linejoin="round"/>
<use href="#nd"/>
<circle r="9.6" fill="none" stroke="#42663a" stroke-width=".85" stroke-opacity=".8"/>
</g>
<text class="nl" x="383.8" y="479" font-size="5.14" stroke-width="1.85">SIX3</text>
<text class="nd" x="383.8" y="479" font-size="5.14">SIX3</text>
<g transform="translate(331 496.7) scale(0.835)">
<ellipse cx=".7" cy="1.7" rx="11.6" ry="11.3" fill="url(#sh)"/>
<circle r="10" fill="#d19696"/>
<path d="M-1.5 -2.2L-3.4 -3L-4 -4.5M-2.4 -1.2L-2.6 -2.3L-1.8 -2.7M-1.6 0.2L-1.4 -0.9L-0.5 -0.9M0.8 0L2.5 1L3.9 0.4M-2.3 2.4L-1.2 2.3L-1.2 1.4M0.4 0.6L-0.1 2L0.5 3M1.4 4.2L2.4 2.3L4.1 2M1.9 -0.2L1.5 -1.2L1.1 -2M2.2 -1.7L1.5 -3.1L0.3 -3.4M-1.1 2.7L-2 3.3L-2.7 3.7M-2.6 -1L-0.7 -0.9L0.5 0.1" fill="none" stroke="#e70bc4" stroke-width=".8" stroke-opacity=".7" stroke-linejoin="round"/>
<use href="#nd"/>
<circle r="9.6" fill="none" stroke="#725252" stroke-width=".85" stroke-opacity=".8"/>
</g>
<text class="nl" x="339.2" y="489.4" font-size="5.14" stroke-width="1.85">SYNCRIP</text>
<text class="nd" x="339.2" y="489.4" font-size="5.14">SYNCRIP</text>
<g fill="none" stroke-width="1.07" stroke-linecap="round">
<path stroke="#bed636" d="M164.8 125.1L130.8 149.7M200.6 103L164.4 124.6M148.6 186.4L209 148.8M197.5 102.9L206.7 149.9M210 149.6L189.2 209.9M189.1 210.2L151.5 243.5M130.5 148.1L189.1 209.2"/>
<path stroke="#4e4e56" d="M163.2 122.9L129.2 147.5M200.2 102.4L209.4 149.4M208.8 149.2L188 209.5M129.5 149.1L188.1 210.2"/>
<path stroke="#e44ae2" d="M164 124L130 148.6M199.8 101.8L163.6 123.4M149.4 187.6L209.8 150M198.9 102.7L208.1 149.7"/>
<path stroke="#42c0dc" d="M201.5 102.1L210.7 149.1M188.1 209.2L150.5 242.5"/>
<path stroke="#a8a8f0" d="M202.9 101.9L212.1 148.9"/>
<path stroke="#bed636" d="M130 147.9L209.4 148.7M130 148.6L149 187M163.3 123.8L148.3 186.8M164.7 122.8L210.1 148.2M148.7 187.6L188.3 210.3M129.3 148.7L150.3 243.1"/>
<path stroke="#4e4e56" d="M164.7 124.2L149.7 187.2"/>
<path stroke="#e44ae2" d="M130 149.3L209.4 150.1M164 124L209.4 149.4M130.7 148.5L151.7 242.9"/>
<path stroke="#42c0dc" d="M163.3 125.2L208.7 150.6M149.3 186.4L188.9 209.1"/>
</g>
<g transform="translate(200.2 102.4) scale(1.020)">
<ellipse cx=".7" cy="1.7" rx="11.6" ry="11.3" fill="url(#sh)"/>
<circle r="10" fill="#83a144"/>
<path d="M-3.6 2L-5.3 2.9L-4.8 4.4M3.7 1L5.3 1.9L5.6 3.3M2.7 0.7L3.3 1.5L4.1 1.8M-3.7 1.6L-2.5 3.5L-1.3 4.8M-3.1 0.4L-1.3 0.5L0.1 0.4M2.8 2.3L0.6 1.4L-0.2 -0.3M-1.7 2.8L-2.7 3.2L-3.4 2.9M-0.6 -1.5L-0.2 -2.9L0.9 -2.9M0.3 -2.2L0.4 0.1L-1.4 0.3M2.5 3.9L3.4 5.8L2.7 7.4M1.6 -1.3L0.8 -0.2L-0.3 -0.4" fill="none" stroke="#864b14" stroke-width=".8" stroke-opacity=".7" stroke-linejoin="round"/>
<use href="#nd"/>
<circle r="9.6" fill="none" stroke="#475825" stroke-width=".85" stroke-opacity=".8"/>
</g>
<text class="nl" x="210.2" y="93.5" font-size="6.27" stroke-width="2.26">PLK1</text>
<text class="nd" x="210.2" y="93.5" font-size="6.27">PLK1</text>
<g transform="translate(164 124) scale(1.020)">
<ellipse cx=".7" cy="1.7" rx="11.6" ry="11.3" fill="url(#sh)"/>
<circle r="10" fill="#83a9ce"/>
<path d="M3.1 2.9L3.7 4.9L5.4 5.6M-0.5 3.8L-0.5 2L-1.9 1.8M4 2.3L2.8 2L1.9 2.5M-3.3 1.8L-2.5 2.4L-2.4 3.2M-3.8 2.3L-1.7 2.5L-0.4 1.5M0.4 1.3L1.7 2.2L1 3.3M-2.5 1.6L-1 2.5L-0.2 3.6M-0.4 4.2L-1.9 3.9L-2.5 5M-2.8 2.6L-3.1 1.5L-2.2 1.1M1.7 1.1L2.9 2.2L3.3 3.4M-0.2 -0L-0.8 1L-1.7 0.9" fill="none" stroke="#07dc92" stroke-width=".8" stroke-opacity=".7" stroke-linejoin="round"/>
<use href="#nd"/>
<circle r="9.6" fill="none" stroke="#475c70" stroke-width=".85" stroke-opacity=".8"/>
</g>
<text class="nl" x="174" y="115.1" font-size="6.27" stroke-width="2.26">GADD45A</text>
<text class="nd" x="174" y="115.1" font-size="6.27">GADD45A</text>
<g transform="translate(130 148.6) scale(1.020)">
<ellipse cx=".7" cy="1.7" rx="11.6" ry="11.3" fill="url(#sh)"/>
<circle r="10" fill="#ceb480"/>
<path d="M-2.8 0.9L-3.2 2.5L-4.5 2.2M4.2 1.8L3.4 3.4L4.6 4.2M0.6 0.1L0.4 1.1L0.6 2M2.4 1.1L2.8 2.3L3.8 2.7M3.2 2.2L2.7 4.2L3.5 5.8M2.2 -0.8L2.9 1.3L3.8 2.8M1 4.1L2.1 2.3L0.8 1.1M-2 1.1L-4.2 1.3L-5.8 1.9M-0.5 3.3L0.4 2.6L1.2 3.2M-0.1 -0.4L-0.8 0.6L-0.6 1.5M0.4 3.6L1.4 4.7L2.6 5" fill="none" stroke="#db052a" stroke-width=".8" stroke-opacity=".7" stroke-linejoin="round"/>
<use href="#nd"/>
<circle r="9.6" fill="none" stroke="#706246" stroke-width=".85" stroke-opacity=".8"/>
</g>
<text class="nl" x="140" y="139.7" font-size="6.27" stroke-width="2.26">MDM2</text>
<text class="nd" x="140" y="139.7" font-size="6.27">MDM2</text>
<g transform="translate(209.4 149.4) scale(1.020)">
<ellipse cx=".7" cy="1.7" rx="11.6" ry="11.3" fill="url(#sh)"/>
<circle r="10" fill="#c64954"/>
<path d="M3 1.7L2.2 0.2L1.7 -1.1M-0.8 1.9L-0.7 0.6L0.3 0.4M-2.8 1.3L-4.1 3L-5.6 3.5M-2.2 1.7L-3.2 3.2L-2.7 4.6M4.6 -0.2L2.4 0.3L0.7 -0.5M-3.8 -0.4L-5.3 -0.4L-6 0.6M-1.9 -1.1L-0.7 -1.8L0.4 -1.8M4.2 -0L1.9 0.4L1.2 2.2M-1.6 -0.4L-1.2 -2.1L-0.4 -3.2M-3.8 2.7L-5.3 3.3L-6.3 2.5M-2.7 -2L-3.7 -2.1L-4.5 -2.3" fill="none" stroke="#b700aa" stroke-width=".8" stroke-opacity=".7" stroke-linejoin="round"/>
<use href="#nd"/>
<circle r="9.6" fill="none" stroke="#6c282e" stroke-width=".85" stroke-opacity=".8"/>
</g>
<text class="nl" x="219.4" y="140.5" font-size="6.27" stroke-width="2.26">AURKA</text>
<text class="nd" x="219.4" y="140.5" font-size="6.27">AURKA</text>
<g transform="translate(149 187) scale(1.020)">
<ellipse cx=".7" cy="1.7" rx="11.6" ry="11.3" fill="url(#sh)"/>
<circle r="10" fill="#443e9a"/>
<g transform="rotate(18)" fill="none" stroke-width="1.1" stroke-linecap="round" stroke-opacity=".85">
<path d="M-5 1.6L-4.3 -.8L-3.6 1.8L-2.9 -.6" stroke="#e03030"/>
<path d="M-3 1.6L-2.3 -.8L-1.6 1.8L-0.9 -.6" stroke="#e8a020"/>
<path d="M-1 1.6L-0.3 -.8L0.4 1.8L1.1 -.6" stroke="#98c820"/>
<path d="M1 1.6L1.7 -.8L2.4 1.8L3.1 -.6" stroke="#30b060"/>
<path d="M3 1.6L3.7 -.8L4.4 1.8L5.1 -.6" stroke="#3070e0"/>
</g>
<use href="#nd"/>
<circle r="9.6" fill="none" stroke="#252254" stroke-width=".85" stroke-opacity=".8"/>
</g>
<text class="nl" x="159" y="178.1" font-size="6.27" stroke-width="2.26">BCL2L11</text>
<text class="nd" x="159" y="178.1" font-size="6.27">BCL2L11</text>
<g transform="translate(188.6 209.7) scale(1.020)">
<ellipse cx=".7" cy="1.7" rx="11.6" ry="11.3" fill="url(#sh)"/>
<circle r="10" fill="#4b9f8f"/>
<path d="M-1.4 0.2L-0.2 -1L1.2 -1.2M3.9 0.3L5.6 1.8L5.8 3.6M-0.9 -1.6L-0.6 -3.1L0.5 -3.3M-3.6 1.6L-3.7 3.9L-1.9 4.6M1 0.8L1.8 1.9L1.5 3M-1.9 1.6L-1.9 3.4L-2.8 4.5M-4.7 2L-6.7 2.6L-8.4 2.7M-0.8 0.4L-0.3 -1.2L0.6 -2.3M4.2 2.7L5.9 2.1L6.5 3.4M-3.9 -0.4L-3.7 -2.5L-3.3 -4.2M0 3.9L0.7 1.6L-0.5 0.2" fill="none" stroke="#1d831a" stroke-width=".8" stroke-opacity=".7" stroke-linejoin="round"/>
<use href="#nd"/>
<circle r="9.6" fill="none" stroke="#29564e" stroke-width=".85" stroke-opacity=".8"/>
</g>
<text class="nl" x="198.6" y="200.8" font-size="6.27" stroke-width="2.26">SMAD4</text>
<text class="nd" x="198.6" y="200.8" font-size="6.27">SMAD4</text>
<g transform="translate(151 243) scale(1.020)">
<ellipse cx=".7" cy="1.7" rx="11.6" ry="11.3" fill="url(#sh)"/>
<circle r="10" fill="#63b86e"/>
<path d="M-1.1 2.3L0.8 2L1 0.4M-1.7 1.7L-0.5 2L-0.4 3M-3 3.3L-4.2 3L-5.1 2.9M-0.1 -2.1L0.3 -3.7L0.1 -5M-2.3 3.2L-2 1.9L-1.6 0.9M-0.1 -0.6L-0.2 -1.7L-1.1 -1.8M-3.6 2.7L-3.5 1.7L-4.3 1.6M2.7 3.7L0.7 3.6L-0.3 2.4M-3 3.6L-4.1 3.8L-4.9 3.4M-1.5 0.1L-2.8 0.9L-3 2M0.5 -2L2.7 -2L2.8 -0.1" fill="none" stroke="#7fab13" stroke-width=".8" stroke-opacity=".7" stroke-linejoin="round"/>
<use href="#nd"/>
<circle r="9.6" fill="none" stroke="#36643c" stroke-width=".85" stroke-opacity=".8"/>
</g>
<text class="nl" x="161" y="234.1" font-size="6.27" stroke-width="2.26">STK11</text>
<text class="nd" x="161" y="234.1" font-size="6.27">STK11</text>
<g fill="none" stroke-width="1.02" stroke-linecap="round">
<path stroke="#bed636" d="M396.2 92.8L448.5 83.6M378.2 35.8L420.4 45.1M377.4 39.6L419.6 48.9M340.2 73.2L373.4 136.8M421.7 49L354.1 105.4M418.3 45L350.7 101.4M419.4 46.7L395.1 89.9M396.6 93.3L353.3 106.5M395.4 90.8L449.7 124.8M396.9 90.8L375.2 137.1"/>
<path stroke="#4e4e56" d="M377.9 37.1L420.1 46.4M341.4 72.6L374.6 136.2M420.8 48L353.2 104.4M419.2 46L351.6 102.4M395.1 88.3L351.8 101.5M396 89.6L450.3 123.6"/>
<path stroke="#e44ae2" d="M395.9 91.5L448.2 82.3M377.7 38.3L419.9 47.6M420 47L352.4 103.4M420.6 47.3L396.3 90.5M396.3 92.1L353 105.3M394.8 87.1L351.5 100.3M395.7 90.2L374 136.5"/>
<path stroke="#42c0dc" d="M395.7 90.2L448 81M395.9 90.8L352.6 104M394.5 89.6L372.8 135.9"/>
<path stroke="#a8a8f0" d="M395.5 88.9L447.8 79.7M395.5 89.6L352.2 102.8"/>
<path stroke="#4040f0" d="M395.2 87.6L447.5 78.4"/>
<path stroke="#bed636" d="M419.4 47.2L449.4 124.4M376.6 38.1L394.5 90.6M420 47L448 81M377.8 37.7L352.4 103.4M354 102.3L375.6 135.4M341.4 71L396.3 88.3M339.6 73.4L351.2 103.9M448 81L450 124.2"/>
<path stroke="#4e4e56" d="M420.6 46.8L450.6 124M352.9 103L374.5 136.1M340.6 73.5L395.5 90.8M340.8 72.9L352.4 103.4M449.3 80.9L451.3 124.1"/>
<path stroke="#e44ae2" d="M377.8 37.7L395.7 90.2M421 46.2L449 80.2M419 47.8L447 81.8M350.8 104.5L372.4 137.6M341 72.3L395.9 89.6M343.2 72L354.8 102.5M338.4 73.8L350 104.3M446.7 81.1L448.7 124.3"/>
<path stroke="#42c0dc" d="M379 37.3L396.9 89.8M351.9 103.8L373.5 136.9M340.2 74.8L395.1 92.1M342 72.4L353.6 102.9"/>
</g>
<g transform="translate(377.8 37.7) scale(0.970)">
<ellipse cx=".7" cy="1.7" rx="11.6" ry="11.3" fill="url(#sh)"/>
<circle r="10" fill="#4e6ea9"/>
<path d="M2.6 2.1L3.8 1L4.1 -0.2M3.4 -0.6L4.6 1.2L3.6 2.6M3.7 -0.6L3.4 1.5L4.5 2.7M2.1 2.5L3.7 3.7L4.3 5.2M0.1 1.2L1.4 0L2.6 -0.5M-2.2 -1.9L-3.3 -0.3L-4.2 0.9M-2.2 0.5L-1.6 1.6L-1.3 2.6M0.5 -0.3L-0.6 -1.5L-1.7 -2.1M-0.9 1.8L-0.5 0.6L-1.5 0.1M-3.5 -0.1L-2.9 2L-4.5 2.5M-4.4 1.3L-5.6 -0.5L-4.6 -2" fill="none" stroke="#169078" stroke-width=".8" stroke-opacity=".7" stroke-linejoin="round"/>
<use href="#nd"/>
<circle r="9.6" fill="none" stroke="#2a3c5c" stroke-width=".85" stroke-opacity=".8"/>
</g>
<text class="nl" x="387.3" y="29.3" font-size="5.97" stroke-width="2.15">GADD45A</text>
<text class="nd" x="387.3" y="29.3" font-size="5.97">GADD45A</text>
<g transform="translate(420 47) scale(0.970)">
<ellipse cx=".7" cy="1.7" rx="11.6" ry="11.3" fill="url(#sh)"/>
<circle r="10" fill="#9aa95f"/>
<path d="M0.2 2.5L2.2 2.6L2.3 4.2M0 -2.5L1.8 -1.3L3.5 -1.8M0.7 0.4L-0.3 -1.6L-2.1 -1.3M4.2 1.8L5.1 2.3L5.9 2.3M0.2 3.4L1.7 4.1L3 4.1M0.5 -0L-1.5 -0.8L-1.3 -2.5M-0.3 0.2L-0.1 1.8L0.4 3M4.7 1.3L5.6 -0.7L4.1 -1.5M-1.1 4.2L-0.1 2.2L-0.9 0.6M0.9 1.1L1.2 -0.8L2.6 -1.3M-4.4 0L-4.7 -1L-5.1 -1.7" fill="none" stroke="#94481d" stroke-width=".8" stroke-opacity=".7" stroke-linejoin="round"/>
<use href="#nd"/>
<circle r="9.6" fill="none" stroke="#545c34" stroke-width=".85" stroke-opacity=".8"/>
</g>
<text class="nl" x="429.5" y="38.6" font-size="5.97" stroke-width="2.15">MDM2</text>
<text class="nd" x="429.5" y="38.6" font-size="5.97">MDM2</text>
<g transform="translate(340.8 72.9) scale(0.970)">
<ellipse cx=".7" cy="1.7" rx="11.6" ry="11.3" fill="url(#sh)"/>
<circle r="10" fill="#caac80"/>
<path d="M3.6 -1.2L5 -1.2L5.1 -0.1M-0.1 3.2L0.7 4.1L-0 4.7M1.6 -1L1.4 -3L2.4 -4.2M-1.3 -0.4L-2.1 -1.2L-2.9 -0.9M2 2.1L2.2 0.3L1.1 -0.7M0.4 3.2L1.6 4L2.6 3.5M-2.6 0.5L-4.7 0.7L-5.8 2M2.1 1.2L2.2 -0.8L3.3 -1.9M-3.8 -1.2L-6.1 -0.8L-6.7 -2.6M1.6 3.6L-0.2 4.4L-1.4 3.3M4 1.4L3.1 3.3L3.1 5" fill="none" stroke="#d30b3b" stroke-width=".8" stroke-opacity=".7" stroke-linejoin="round"/>
<use href="#nd"/>
<circle r="9.6" fill="none" stroke="#6e5e46" stroke-width=".85" stroke-opacity=".8"/>
</g>
<text class="nl" x="350.3" y="64.5" font-size="5.97" stroke-width="2.15">CDC25B</text>
<text class="nd" x="350.3" y="64.5" font-size="5.97">CDC25B</text>
<g transform="translate(395.7 90.2) scale(0.970)">
<ellipse cx=".7" cy="1.7" rx="11.6" ry="11.3" fill="url(#sh)"/>
<circle r="10" fill="#c64954"/>
<path d="M2.5 2.4L2.7 1.2L3.6 1M2.1 -0.1L0.9 0.1L-0.1 0.1M-0.5 2.1L0.4 3.7L0.3 5.2M0.3 0.5L-1 -1.1L-1.8 -2.5M-2.9 -0.1L-3.8 0.7L-3.9 1.6M0.3 3.1L-0.3 2.2L-1.2 2.4M2.5 0.9L4 1.8L4 3.2M4.4 2.2L5.8 0.5L5.9 -1.2M3.1 2.6L2 4.7L0.9 6.3M2.2 -1.4L0.9 -0.5L-0.3 -0.6M-3.6 -0.4L-2.6 -2.1L-2.8 -3.7" fill="none" stroke="#b700aa" stroke-width=".8" stroke-opacity=".7" stroke-linejoin="round"/>
<use href="#nd"/>
<circle r="9.6" fill="none" stroke="#6c282e" stroke-width=".85" stroke-opacity=".8"/>
</g>
<text class="nl" x="405.2" y="81.8" font-size="5.97" stroke-width="2.15">AURKA</text>
<text class="nd" x="405.2" y="81.8" font-size="5.97">AURKA</text>
<g transform="translate(448 81) scale(0.970)">
<ellipse cx=".7" cy="1.7" rx="11.6" ry="11.3" fill="url(#sh)"/>
<circle r="10" fill="#429367"/>
<path d="M-2.2 -1.8L-3.6 -1.9L-4.6 -1.5M-4.6 2L-4.7 0.3L-4.8 -1M-1.7 -0.7L-1 -2.8L0.8 -3M0.5 3.9L1.7 3.8L2.6 3.9M1.5 3.9L3.6 4.5L4.5 3M1.5 1.8L2.7 1.8L3 0.9M-3.3 1.8L-1.8 3.6L-1.9 5.4M2.7 -0L0.6 0.7L0.2 2.5M3.9 0.3L1.7 1.1L-0.2 1.4M-1.3 1.7L-1 -0.3L-1.6 -1.8M0.4 1.2L0.3 3.5L-1.4 4.2" fill="none" stroke="#3c7916" stroke-width=".8" stroke-opacity=".7" stroke-linejoin="round"/>
<use href="#nd"/>
<circle r="9.6" fill="none" stroke="#245038" stroke-width=".85" stroke-opacity=".8"/>
</g>
<text class="nl" x="457.5" y="72.6" font-size="5.97" stroke-width="2.15">GSK3B</text>
<text class="nd" x="457.5" y="72.6" font-size="5.97">GSK3B</text>
<g transform="translate(352.4 103.4) scale(0.970)">
<ellipse cx=".7" cy="1.7" rx="11.6" ry="11.3" fill="url(#sh)"/>
<circle r="10" fill="#7bbb63"/>
<path d="M0.8 3L1.9 1.8L2.7 0.8M-3.6 -0.8L-3.9 0.7L-5 1.2M-1.3 -1.7L-0.9 -0.6L-0.1 0.1M-0.5 0.1L-0.3 -1.5L-0.1 -2.8M2.8 1.9L4.7 3.3L5.5 5M-0 0.8L-0.6 -0.2L-1.4 -0.7M-3.4 -0.8L-4.6 -1.4L-5 -2.5M4.3 1.4L6.4 2.5L7.8 1.1M-2.3 -2.1L-3.2 -3.2L-4.1 -3.9M4.1 -0.9L5.2 -2.2L5.4 -3.5M0.7 2.9L-1.3 2.9L-2.4 4.1" fill="none" stroke="#b19f10" stroke-width=".8" stroke-opacity=".7" stroke-linejoin="round"/>
<use href="#nd"/>
<circle r="9.6" fill="none" stroke="#436636" stroke-width=".85" stroke-opacity=".8"/>
</g>
<text class="nl" x="361.9" y="95" font-size="5.97" stroke-width="2.15">PLK1</text>
<text class="nd" x="361.9" y="95" font-size="5.97">PLK1</text>
<g transform="translate(450 124.2) scale(0.970)">
<ellipse cx=".7" cy="1.7" rx="11.6" ry="11.3" fill="url(#sh)"/>
<circle r="10" fill="#7bc3c3"/>
<path d="M1.8 -0.6L1.5 1.2L2.2 2.6M-3.9 0.9L-3.5 -1.2L-4.7 -2.4M3.7 3.2L2.9 0.9L1 0.7M2 -1L0.8 -0.6L0.3 -1.5M-2.7 -1.5L-3.1 0.6L-3.7 2.1M-1.1 2L-2.2 2.5L-3.1 3M2.6 2.1L3.6 4L3.5 5.7M1.7 0.3L0.3 1.5L-0.9 0.5M2 0.2L3.2 1.1L3.8 0.1M1.7 0.7L2.7 1.4L3.7 1.3M-1.2 2.3L-0.1 1.8L0.9 2.1" fill="none" stroke="#13c32f" stroke-width=".8" stroke-opacity=".7" stroke-linejoin="round"/>
<use href="#nd"/>
<circle r="9.6" fill="none" stroke="#436a6a" stroke-width=".85" stroke-opacity=".8"/>
</g>
<text class="nl" x="459.5" y="115.8" font-size="5.97" stroke-width="2.15">SMAD4</text>
<text class="nd" x="459.5" y="115.8" font-size="5.97">SMAD4</text>
<g transform="translate(374 136.5) scale(0.970)">
<ellipse cx=".7" cy="1.7" rx="11.6" ry="11.3" fill="url(#sh)"/>
<circle r="10" fill="#8f79ca"/>
<path d="M-0.3 -1.9L-2 -1.9L-2.2 -0.6M2.3 0.1L1.9 1.3L1 1.5M-2 1.1L-0.9 1.3L-0 1.3M-0.1 3L0.8 1.9L2 2.2M3.7 2.2L2 1L3 -0.4M4.2 1.6L2 0.9L0.3 0.4M-0 -2.5L-0.3 -1.4L-1.2 -1.5M1.8 0.2L3 0.6L4 1.1M3.7 -0.7L2.1 0.2L1.3 1.4M-0.3 3.2L1.1 5L2.8 5.7M2.7 0.6L3.3 -1.3L4 -2.6" fill="none" stroke="#087ad1" stroke-width=".8" stroke-opacity=".7" stroke-linejoin="round"/>
<use href="#nd"/>
<circle r="9.6" fill="none" stroke="#4e426e" stroke-width=".85" stroke-opacity=".8"/>
</g>
<text class="nl" x="383.5" y="128.1" font-size="5.97" stroke-width="2.15">PTTG1</text>
<text class="nd" x="383.5" y="128.1" font-size="5.97">PTTG1</text>
<g fill="none" stroke-width="0.98" stroke-linecap="round">
<path stroke="#bed636" d="M603.1 111L598.3 182.8M620 161L605.2 242.5M554.3 113.2L603.1 111M549.9 152L620.9 163M554.3 113.2L621.2 161.2M549.6 150.2L548.5 225.2M550.2 150.2L598.3 182.8M549.1 225.2L606.4 242.7"/>
<path stroke="#4e4e56" d="M550.5 148.4L621.5 159.4M555.8 111.2L622.7 159.2M552.8 115.2L619.7 163.2"/>
<path stroke="#e44ae2" d="M605.4 110.2L623.5 160.4M600.8 111.8L618.9 162M601.9 110.9L597.1 182.7M621.2 161.2L606.4 242.7M550.1 150.8L621.1 161.8M553.6 114.2L620.5 162.2M550.8 150.2L549.7 225.2M550.9 149.2L599 181.8M549.5 151.2L597.6 183.8"/>
<path stroke="#42c0dc" d="M604.3 110.6L622.4 160.8M604.3 111.1L599.5 182.9M622.4 161.4L607.6 242.9M550.3 149.6L621.3 160.6M555 112.2L621.9 160.2"/>
<path stroke="#a8a8f0" d="M603.1 111L621.2 161.2"/>
<path stroke="#4040f0" d="M601.9 111.4L620 161.6"/>
<path stroke="#bed636" d="M602.7 110.5L549.8 149.7M553.1 113.1L549 150.1M621.2 161.2L649.6 208.5M619.9 159.8L597 181.4M597.7 182.9L605.8 242.8M553.2 113.9L597.2 183.5M598 183.4L649.3 209.1M648.1 206.5L604.9 240.7M598.3 182.8L549.1 225.2"/>
<path stroke="#4e4e56" d="M621.6 161.7L598.7 183.3M555.4 112.5L599.4 182.1M598.6 182.2L649.9 207.9M649.6 208.5L606.4 242.7"/>
<path stroke="#e44ae2" d="M603.5 111.5L550.6 150.7M554.3 113.2L550.2 150.2M622.5 162.6L599.6 184.2M598.9 182.7L607 242.6M554.3 113.2L598.3 182.8M599.1 181.1L650.4 206.8M597.5 184.5L648.8 210.2M648.8 207.5L605.6 241.7"/>
<path stroke="#42c0dc" d="M555.5 113.3L551.4 150.3M620.8 160.7L597.9 182.3"/>
<path stroke="#a8a8f0" d="M650.4 209.5L607.2 243.7"/>
<path stroke="#4040f0" d="M651.1 210.5L607.9 244.7"/>
</g>
<g transform="translate(554.3 113.2) scale(0.930)">
<ellipse cx=".7" cy="1.7" rx="11.6" ry="11.3" fill="url(#sh)"/>
<circle r="10" fill="#4563a5"/>
<path d="M0.2 -1.7L2 -1.6L2.3 -0.2M0.8 0L1.2 -1L0.4 -1.3M-1.8 3.6L-1.9 5.5L-1.9 7M-0.4 3.7L-1.6 2L-2.7 0.8M-2 -0.5L-1.2 1.1L-1.5 2.5M-1.2 -0.1L-3.1 1.1L-4.8 1M-1.7 0.7L-0.5 1.2L-0.9 2.2M0.7 1.9L-0.7 0.9L-0.4 -0.4M-0.4 0.3L-2.1 -0.1L-2.2 -1.5M-4 1.1L-2.9 0.5L-2.9 -0.5M0.1 0.3L0.8 -0.5L1.2 -1.2" fill="none" stroke="#158978" stroke-width=".8" stroke-opacity=".7" stroke-linejoin="round"/>
<use href="#nd"/>
<circle r="9.6" fill="none" stroke="#26365a" stroke-width=".85" stroke-opacity=".8"/>
</g>
<text class="nl" x="563.4" y="105.1" font-size="5.72" stroke-width="2.06">GADD45A</text>
<text class="nd" x="563.4" y="105.1" font-size="5.72">GADD45A</text>
<g transform="translate(603.1 111) scale(0.930)">
<ellipse cx=".7" cy="1.7" rx="11.6" ry="11.3" fill="url(#sh)"/>
<circle r="10" fill="#9a80ca"/>
<path d="M-0.8 -1.2L-0.2 0.8L-1.4 2M-1.4 2.2L-2.1 1L-1.3 0.1M-0.6 0.6L-0.2 -0.9L-1.3 -1.5M-3.8 1L-5.5 0.4L-7 0.2M-2.2 -0.8L-3.5 -2L-3.7 -3.4M-2.5 1.1L-2.7 2.2L-1.9 2.5M-2.4 -2.2L-2.6 -3.4L-3.3 -4.2M-0.3 -1.6L1.8 -1L3.5 -1.3M2.1 2.2L0.8 1.8L0.3 0.8M-1 -1.8L-0.2 -3L-0.2 -4.1M1.1 0.6L1.5 2.1L1.4 3.3" fill="none" stroke="#0b6dd3" stroke-width=".8" stroke-opacity=".7" stroke-linejoin="round"/>
<use href="#nd"/>
<circle r="9.6" fill="none" stroke="#54466e" stroke-width=".85" stroke-opacity=".8"/>
</g>
<text class="nl" x="612.2" y="102.9" font-size="5.72" stroke-width="2.06">TP73</text>
<text class="nd" x="612.2" y="102.9" font-size="5.72">TP73</text>
<g transform="translate(550.2 150.2) scale(0.930)">
<ellipse cx=".7" cy="1.7" rx="11.6" ry="11.3" fill="url(#sh)"/>
<circle r="10" fill="#c64954"/>
<path d="M-3.1 2.2L-2.2 1.2L-1.3 1.8M-1.1 1.1L-0.7 -0.8L-0.3 -2.3M3 3.2L2 4.6L1.3 5.7M2.3 0.7L3.3 -0.1L3.7 -1M3.2 2.9L1.3 3.5L-0.3 3.2M-3.2 1.9L-4.7 2.3L-5.8 2.7M-1.1 1.1L-2.1 2.7L-3.6 2.8M-1.1 2.2L-0.4 4.4L-1.2 6M4.6 0.2L6.6 -0.5L7.2 1.1M-2.3 1.6L-2.4 2.9L-3.2 3.4M3.2 2.5L4.6 2.7L4.7 1.6" fill="none" stroke="#b700aa" stroke-width=".8" stroke-opacity=".7" stroke-linejoin="round"/>
<use href="#nd"/>
<circle r="9.6" fill="none" stroke="#6c282e" stroke-width=".85" stroke-opacity=".8"/>
</g>
<text class="nl" x="559.3" y="142.1" font-size="5.72" stroke-width="2.06">AURKA</text>
<text class="nd" x="559.3" y="142.1" font-size="5.72">AURKA</text>
<g transform="translate(621.2 161.2) scale(0.930)">
<ellipse cx=".7" cy="1.7" rx="11.6" ry="11.3" fill="url(#sh)"/>
<circle r="10" fill="#88c679"/>
<path d="M-2 0.3L-3.2 -0.3L-4.1 -0.8M2.8 3.1L3.3 2L3.5 1M0.8 0.9L2 -0.9L3.5 -0M3.3 0.9L4.5 0.5L5.4 0.9M-1.2 -0.7L-2 -2.2L-3.4 -2.5M-0.8 0.2L0.2 2.3L1.9 1.6M-1.4 -2.5L-0.5 -0.4L-2 0.7M-1.2 1.1L-2.4 2.1L-1.6 3.2M4.3 1.6L6.3 1L6.5 -0.7M-3 2.7L-1.4 2.1L-0.9 0.8M0.4 1.3L1.9 3L3.7 3.1" fill="none" stroke="#cac40d" stroke-width=".8" stroke-opacity=".7" stroke-linejoin="round"/>
<use href="#nd"/>
<circle r="9.6" fill="none" stroke="#4a6c42" stroke-width=".85" stroke-opacity=".8"/>
</g>
<text class="nl" x="630.3" y="153.1" font-size="5.72" stroke-width="2.06">TP53</text>
<text class="nd" x="630.3" y="153.1" font-size="5.72">TP53</text>
<g transform="translate(598.3 182.8) scale(0.930)">
<ellipse cx=".7" cy="1.7" rx="11.6" ry="11.3" fill="url(#sh)"/>
<circle r="10" fill="#9aa154"/>
<path d="M2.2 -0.8L2.8 0.8L3.3 2M-3.4 2.3L-2.9 0.5L-3.4 -0.9M0.6 -2.4L-0.2 -3.9L-1.4 -3.4M1.1 1.4L-0.8 1.7L-0.8 3.3M0.1 2.4L-1 2.6L-1.5 1.8M-3.8 3L-1.8 3L-0.3 3.7M-2.1 -0.1L-1.4 -1.1L-2 -1.9M2.5 -0L3.7 0.3L4.2 1.1M0.6 1.1L0.5 -0.2L1.1 -1M-1.5 -2.2L-2.4 -1.6L-2.1 -0.8M-3.2 -0.3L-2.6 -2.5L-1 -3.4" fill="none" stroke="#89381c" stroke-width=".8" stroke-opacity=".7" stroke-linejoin="round"/>
<use href="#nd"/>
<circle r="9.6" fill="none" stroke="#54582e" stroke-width=".85" stroke-opacity=".8"/>
</g>
<text class="nl" x="607.4" y="174.7" font-size="5.72" stroke-width="2.06">MDM2</text>
<text class="nd" x="607.4" y="174.7" font-size="5.72">MDM2</text>
<g transform="translate(649.6 208.5) scale(0.930)">
<ellipse cx=".7" cy="1.7" rx="11.6" ry="11.3" fill="url(#sh)"/>
<circle r="10" fill="#d1b084"/>
<path d="M0.9 1.5L-0.2 -0.2L-1.8 -0.5M0.8 -2.3L-0.5 -3.8L-2 -3.3M-1.5 1.4L-2.6 -0.3L-3.5 -1.6M0.8 1.1L1.2 -0.5L2.5 -0.3M-4 0.6L-2.8 1.2L-1.9 1.7M-0.9 3.2L0.3 3.7L1.3 3.6M-3.8 2.8L-5.1 3.7L-5.6 4.9M-3.6 -1.3L-1.9 -0.4L-0.7 -1.3M-3 2.5L-1 2.5L0.5 2.9M-0.2 0.8L1.3 -0.7L0.7 -2.3M-0.1 0.9L1 0.3L1.1 -0.6" fill="none" stroke="#e5013e" stroke-width=".8" stroke-opacity=".7" stroke-linejoin="round"/>
<use href="#nd"/>
<circle r="9.6" fill="none" stroke="#726048" stroke-width=".85" stroke-opacity=".8"/>
</g>
<text class="nl" x="658.7" y="200.4" font-size="5.72" stroke-width="2.06">RPS6KB1</text>
<text class="nd" x="658.7" y="200.4" font-size="5.72">RPS6KB1</text>
<g transform="translate(549.1 225.2) scale(0.930)">
<ellipse cx=".7" cy="1.7" rx="11.6" ry="11.3" fill="url(#sh)"/>
<circle r="10" fill="#79c3c3"/>
<path d="M0.3 3.7L-0.8 1.6L-2.6 1.5M-2.6 -2.2L-0.8 -3.4L-0 -5M2 1.3L1.1 2.2L0.4 1.6M3.9 -0.9L3.8 0.1L4.3 0.7M-4 -0.8L-3.3 -0.1L-3 0.8M-1 0L1.2 -0.7L1.4 -2.6M4.7 1.9L6 2.2L7.1 1.9M-1.9 -0.6L-0.9 -0L-0 0.2M3.3 1.4L5.3 1.3L6.2 0M-1.8 2.3L-1.9 3.5L-2.7 3.8M-1.4 1.9L-0.3 2.8L0.6 2.1" fill="none" stroke="#12c22e" stroke-width=".8" stroke-opacity=".7" stroke-linejoin="round"/>
<use href="#nd"/>
<circle r="9.6" fill="none" stroke="#426a6a" stroke-width=".85" stroke-opacity=".8"/>
</g>
<text class="nl" x="558.2" y="217.1" font-size="5.72" stroke-width="2.06">CTNNB1</text>
<text class="nd" x="558.2" y="217.1" font-size="5.72">CTNNB1</text>
<g transform="translate(606.4 242.7) scale(0.930)">
<ellipse cx=".7" cy="1.7" rx="11.6" ry="11.3" fill="url(#sh)"/>
<circle r="10" fill="#3e9a5c"/>
<path d="M-3.4 0.3L-4.6 -0.3L-5.6 -0M0.5 -1.4L1.1 -2.5L1.6 -3.3M4.4 -0.4L4.8 -2.8L4.4 -4.6M1.1 1.3L2.7 1.2L2.8 -0M2.1 -1.4L1.3 -0.2L0.2 -0.5M-2 2L-4 1.9L-4.9 3.3M2.9 0.9L1.3 0.1L1 -1.3M1.5 0.9L2 0L1.3 -0.4M-0.9 -1.7L0.7 0L0.5 1.9M1.9 -0.2L0.6 -1L-0.7 -0.9M2.7 -0.2L3.6 1L4.7 1.3" fill="none" stroke="#4b8012" stroke-width=".8" stroke-opacity=".7" stroke-linejoin="round"/>
<use href="#nd"/>
<circle r="9.6" fill="none" stroke="#225432" stroke-width=".85" stroke-opacity=".8"/>
</g>
<text class="nl" x="615.5" y="234.6" font-size="5.72" stroke-width="2.06">STK11</text>
<text class="nd" x="615.5" y="234.6" font-size="5.72">STK11</text>
<g fill="none" stroke-width="0.93" stroke-linecap="round">
<path stroke="#bed636" d="M716.4 317.8L620.4 354.1M562.6 336.9L688.5 347.8M618.8 354.8L621.2 436.1M661.9 403.2L592.5 405.1M647.2 305.4L673.2 454.5M592.1 406.7L622.6 436.4M646.2 304.4L619 353.8M619.9 355.7L688.7 403.2M562.2 338L661.6 404.9M648.4 305.2L662.5 404.3M661.3 404.5L673.2 454.5M647.6 304.7L562.3 336.9M620.1 355L632.5 380.6M688.3 347.2L620.5 353.5M647.2 305.2L632.4 380.2M561.4 338L591.4 406.8M592.2 406.8L673.5 454.9M688.9 401.1L622.5 434.9M717.1 318.7L662.4 404.7M631.4 381.2L672.2 455.3M632.8 380.9L689.2 402.8M632.6 380.8L661.5 404.9"/>
<path stroke="#4e4e56" d="M621.2 354.7L623.6 436M647.3 305L620.1 354.4M688.4 348.4L620.6 354.7M563.6 337L593.6 405.8"/>
<path stroke="#e44ae2" d="M716.8 319L620.8 355.3M562.4 338.1L688.3 349M620 354.7L622.4 436M661.9 404.4L592.5 406.3M648.4 305.2L674.4 454.3M592.9 405.9L623.4 435.6M648.3 305.6L621.1 355M621.3 353.7L690.1 401.2M562.8 337L662.2 403.9M647.2 305.4L661.3 404.5M662.5 404.3L674.4 454.3M648 305.9L562.7 338.1M621.1 354.4L633.5 380M688.5 349.6L620.7 355.9M648.4 305.4L633.6 380.4M562.5 337.5L592.5 406.3M592.8 405.8L674.1 453.9M689.4 402.2L623 436M716.1 318.1L661.4 404.1M633.5 380L674.3 454.1M633.2 379.7L689.6 401.6M633.4 379.8L662.3 403.9"/>
<path stroke="#42c0dc" d="M622.4 354.6L624.8 435.9M661.9 405.6L592.5 407.5M649.4 306.2L622.2 355.6M620.6 354.7L689.4 402.2M689.9 403.3L623.5 437.1M632.5 380.6L673.3 454.7"/>
<path stroke="#4040f0" d="M634.6 379.4L675.4 453.5"/>
<path stroke="#bed636" d="M632.4 380.2L622.4 435.9M647.2 305.2L622.4 435.9M687.7 401.7L672.1 453.9M687.8 347.4L632.4 379.3M562.2 338.6L620.3 355.8M619.6 354.1L591.5 405.7M687.8 348.3L673.2 454.3M619.5 355.3L672.7 455M647.6 306.5L716.4 319.6M662 405.6L689.5 403.4M687.9 348.1L661.4 404.1M620.1 355.1L661.4 404.8M646.9 306.1L687.5 349.2M715.7 317.6L687.5 347.6M646.7 305.8L688.3 402.7M633 380.3L592.5 406.3M715.5 318L688.3 401.8M689.4 401.6L592.5 405.7M622.6 437.1L673.4 455.5M661.5 403.9L622.6 435.5"/>
<path stroke="#4e4e56" d="M633.6 380.4L623.6 436.1M688.8 402L673.2 454.2M621.6 355.3L593.5 406.9M621.7 354.1L674.9 453.8M647.8 305.3L716.6 318.4M661.9 404.4L689.4 402.2M716.6 318.4L688.4 348.4M647.8 305.3L689.4 402.2M717.7 318.8L690.5 402.6M623.4 434.9L674.2 453.3"/>
<path stroke="#e44ae2" d="M648.4 305.4L623.6 436.1M690 402.4L674.4 454.6M688.4 348.4L633 380.3M562.5 337.5L620.6 354.7M620.6 354.7L592.5 406.3M689 348.5L674.4 454.5M620.6 354.7L673.8 454.4M648 304.1L716.8 317.2M661.8 403.2L689.3 401M688.9 348.7L662.4 404.7M621.1 354.3L662.4 404M648.7 304.5L689.3 347.6M717.5 319.2L689.3 349.2M648.9 304.8L690.5 401.7M716.6 318.4L689.4 402.2M689.4 402.8L592.5 406.9M623 436L673.8 454.4M662.3 404.9L623.4 436.5"/>
<path stroke="#42c0dc" d="M691.1 402.7L675.5 454.9M689 349.4L633.6 381.3M562.8 336.4L620.9 353.6M661.7 402L689.2 399.8M688.4 348.4L689.4 402.2M647.8 305.3L688.4 348.4"/>
<path stroke="#a8a8f0" d="M662.1 406.8L689.6 404.6"/>
</g>
<g transform="translate(647.8 305.3) scale(0.890)">
<ellipse cx=".7" cy="1.7" rx="11.6" ry="11.3" fill="url(#sh)"/>
<circle r="10" fill="#9679ca"/>
<path d="M-0.6 4L-2 3.5L-2.6 4.5M4.6 -0.6L3.2 -0.3L2.6 -1.3M3.6 -1L2.4 -2.3L1.1 -2.8M1.1 2.5L-0.8 3.2L-0.2 4.7M1.9 3.3L3.2 4.7L4.3 5.8M2.9 0.4L3.7 1.3L4.3 2M4.5 0L4.8 -1L4.9 -1.8M2 -0.3L-0.3 -0.6L-2 0.2M2.3 2.2L0.2 2.2L-1.4 2.6M-1.3 0.5L-3.4 -0.4L-4.5 1.1M1.7 -2.4L3.4 -3.3L4.7 -4.2" fill="none" stroke="#0868d1" stroke-width=".8" stroke-opacity=".7" stroke-linejoin="round"/>
<use href="#nd"/>
<circle r="9.6" fill="none" stroke="#52426e" stroke-width=".85" stroke-opacity=".8"/>
</g>
<text class="nl" x="656.5" y="297.6" font-size="5.47" stroke-width="1.97">LATS2</text>
<text class="nd" x="656.5" y="297.6" font-size="5.47">LATS2</text>
<g transform="translate(716.6 318.4) scale(0.890)">
<ellipse cx=".7" cy="1.7" rx="11.6" ry="11.3" fill="url(#sh)"/>
<circle r="10" fill="#88b4d5"/>
<path d="M-0.5 -0.2L-0.2 -1.9L-1 -3.2M0.4 2.3L-0.2 1.3L0.3 0.6M-0.3 3.9L-1 5.1L-2 5.5M-3.1 2.1L-1.7 0.4L-0.8 -1.2M1.4 0L1.9 1.8L1.3 3.2M-2 2.4L-0.8 3.3L-1.3 4.4M-0.4 -1.6L-1.6 -3.2L-2.5 -4.5M-1.1 -1.3L-1.8 -2.7L-1.3 -3.8M-0.1 1.8L1.5 3.2L2.5 4.6M2 3.1L2.7 5L1.2 5.7M-0.1 -2.2L-1.3 -2.5L-2.2 -2.5" fill="none" stroke="#00eb8a" stroke-width=".8" stroke-opacity=".7" stroke-linejoin="round"/>
<use href="#nd"/>
<circle r="9.6" fill="none" stroke="#4a6274" stroke-width=".85" stroke-opacity=".8"/>
</g>
<text class="nl" x="725.3" y="310.7" font-size="5.47" stroke-width="1.97">NF2</text>
<text class="nd" x="725.3" y="310.7" font-size="5.47">NF2</text>
<g transform="translate(562.5 337.5) scale(0.890)">
<ellipse cx=".7" cy="1.7" rx="11.6" ry="11.3" fill="url(#sh)"/>
<circle r="10" fill="#42499a"/>
<path d="M-1.5 0.9L-0.9 0L-1.4 -0.7M-3.3 2.6L-1.8 3.5L-1.7 4.9M0.2 3L-0.8 3.6L-1.4 3M2.4 -1.5L2.5 -0.4L3 0.3M-1 -2.7L-2.6 -3.5L-3.7 -4.5M-3.1 -1.2L-0.9 -0.4L-1.5 1.4M0.8 -2.4L-0.9 -1.6L-1.4 -0.1M2.3 -1.5L3.7 -1.7L4.6 -2.5M0.3 4.2L-0.5 2.4L-0.9 0.9M-1.6 0.6L-1.4 -1.6L-0.3 -2.9M0.4 2.2L-0.3 3.1L-1.1 3.5" fill="none" stroke="#14777f" stroke-width=".8" stroke-opacity=".7" stroke-linejoin="round"/>
<use href="#nd"/>
<circle r="9.6" fill="none" stroke="#242854" stroke-width=".85" stroke-opacity=".8"/>
</g>
<text class="nl" x="571.2" y="329.8" font-size="5.47" stroke-width="1.97">TP73</text>
<text class="nd" x="571.2" y="329.8" font-size="5.47">TP73</text>
<g transform="translate(688.4 348.4) scale(0.890)">
<ellipse cx=".7" cy="1.7" rx="11.6" ry="11.3" fill="url(#sh)"/>
<circle r="10" fill="#a5a54d"/>
<path d="M1.3 3.3L1.7 4.3L2.6 4.5M2.1 3.8L3.9 3.9L5.3 3.9M-1.4 -2.1L-1.1 -4.4L-1 -6.2M3.6 0.8L2.4 1.2L2.1 0.2M3.1 0.1L1.6 0.3L1 -0.8M-1.5 2.1L-0.4 1.6L0.3 2.2M1.1 0.8L2.9 0.4L4.1 1.3M-2.7 -1L-2.2 -2.2L-3.1 -2.7M-3.8 -0.5L-5.1 -1.3L-4.9 -2.5M2.2 -0.5L2.7 0.8L2.9 1.9M2.4 -1L0.9 -0.5L0.5 0.7" fill="none" stroke="#8b2a17" stroke-width=".8" stroke-opacity=".7" stroke-linejoin="round"/>
<use href="#nd"/>
<circle r="9.6" fill="none" stroke="#5a5a2a" stroke-width=".85" stroke-opacity=".8"/>
</g>
<text class="nl" x="697.1" y="340.7" font-size="5.47" stroke-width="1.97">AJUBA</text>
<text class="nd" x="697.1" y="340.7" font-size="5.47">AJUBA</text>
<g transform="translate(620.6 354.7) scale(0.890)">
<ellipse cx=".7" cy="1.7" rx="11.6" ry="11.3" fill="url(#sh)"/>
<circle r="10" fill="#ca969e"/>
<path d="M-1.2 2L0.9 1.4L2.3 0.2M1.9 0.2L3 -0.9L2.1 -1.8M1.2 1L1.2 2.3L1.8 3.2M-1.3 -0.2L-0.1 1.5L0.2 3M2.6 3.2L1.6 1.6L0.2 0.9M-3.8 1L-2.3 -0.5L-0.7 0.2M0.2 -0.1L-0.8 1.2L-2.2 1.1M4.7 1.4L2.5 2L1.2 3.3M-0.5 -1.5L-1.9 -0.2L-1.6 1.3M0.7 -0.2L1.8 0.8L2.4 1.9M3.3 3.4L3 1.8L1.9 1.2" fill="none" stroke="#d31ad0" stroke-width=".8" stroke-opacity=".7" stroke-linejoin="round"/>
<use href="#nd"/>
<circle r="9.6" fill="none" stroke="#6e5256" stroke-width=".85" stroke-opacity=".8"/>
</g>
<text class="nl" x="629.3" y="347" font-size="5.47" stroke-width="1.97">YAP1</text>
<text class="nd" x="629.3" y="347" font-size="5.47">YAP1</text>
<g transform="translate(633 380.3) scale(0.890)">
<ellipse cx=".7" cy="1.7" rx="11.6" ry="11.3" fill="url(#sh)"/>
<circle r="10" fill="#c63e45"/>
<path d="M-1.8 2.9L-2 1.8L-2.9 1.7M-3.5 -0.1L-4.5 1.2L-4.5 2.5M0.3 2.6L-0.8 3.4L-0.2 4.3M4.9 0.3L5.3 -1.9L5.6 -3.6M-1.9 2.6L-3.8 2.9L-4.4 4.2M-2.7 -1.9L-4.1 -1.7L-5.1 -1.3M-1.3 -2.2L-2.7 -3L-3.4 -1.9M2.2 1.8L-0 1.2L-1.8 1.5M1.6 3.1L3.5 2L2.9 0.3M0.6 2.7L-0.8 0.9L-2.3 1.9M3.6 3.1L1.8 3.3L0.4 3" fill="none" stroke="#b0009d" stroke-width=".8" stroke-opacity=".7" stroke-linejoin="round"/>
<use href="#nd"/>
<circle r="9.6" fill="none" stroke="#6c2226" stroke-width=".85" stroke-opacity=".8"/>
</g>
<text class="nl" x="641.7" y="372.6" font-size="5.47" stroke-width="1.97">AURKA</text>
<text class="nd" x="641.7" y="372.6" font-size="5.47">AURKA</text>
<g transform="translate(689.4 402.2) scale(0.890)">
<ellipse cx=".7" cy="1.7" rx="11.6" ry="11.3" fill="url(#sh)"/>
<circle r="10" fill="#4da1a1"/>
<path d="M1 1.7L3.1 1.3L3.3 -0.4M-2.9 3.4L-4.1 4.1L-4.4 5.2M-1.7 1L-2.9 -0.7L-2.2 -2.2M-0.4 3.4L1.1 2.7L2.2 3.4M1.3 3.2L2.7 3.7L3.9 3.7M1.7 -0.6L-0.2 -0.1L-0.6 1.3M-4 2.9L-5.2 2.6L-5.7 3.5M-2 -0.6L-2.9 0.4L-4 0.2M-3.2 2L-4.7 1.7L-6 1.5M3.2 -1.1L2.8 -3.4L2.7 -5.3M-0.2 3L0.6 2.1L0.4 1.1" fill="none" stroke="#19872b" stroke-width=".8" stroke-opacity=".7" stroke-linejoin="round"/>
<use href="#nd"/>
<circle r="9.6" fill="none" stroke="#2a5858" stroke-width=".85" stroke-opacity=".8"/>
</g>
<text class="nl" x="698.1" y="394.5" font-size="5.47" stroke-width="1.97">CTNNB1</text>
<text class="nd" x="698.1" y="394.5" font-size="5.47">CTNNB1</text>
<g transform="translate(661.9 404.4) scale(0.890)">
<ellipse cx=".7" cy="1.7" rx="11.6" ry="11.3" fill="url(#sh)"/>
<circle r="10" fill="#d5b48f"/>
<use href="#nd"/>
<circle r="9.6" fill="none" stroke="#74624e" stroke-width=".85" stroke-opacity=".8"/>
</g>
<text class="nl" x="670.6" y="396.7" font-size="5.47" stroke-width="1.97">CDH1</text>
<text class="nd" x="670.6" y="396.7" font-size="5.47">CDH1</text>
<g transform="translate(592.5 406.3) scale(0.890)">
<ellipse cx=".7" cy="1.7" rx="11.6" ry="11.3" fill="url(#sh)"/>
<circle r="10" fill="#9ec35c"/>
<path d="M-0.3 -2.5L1.2 -2.9L1.9 -3.9M2.5 2.2L4.4 1.5L5.9 1.5M0.7 1.7L1.6 2.3L1.5 3.2M-0.5 -0.7L-2.8 -0.8L-4.7 -0.7M0.3 2.7L0.9 1.4L2 1.4M-3.3 1.6L-2.2 -0.3L-3.1 -1.8M-0 0.3L-0.2 -1.5L0.8 -2.6M-0.1 -0.8L-0.2 0.9L-1.5 1.2M0.9 0L0.8 1.4L-0.3 1.2M-1.1 0L-0.4 0.9L-0.9 1.6M1 1.8L1.4 3.7L2.1 5.1" fill="none" stroke="#bb6306" stroke-width=".8" stroke-opacity=".7" stroke-linejoin="round"/>
<use href="#nd"/>
<circle r="9.6" fill="none" stroke="#566a32" stroke-width=".85" stroke-opacity=".8"/>
</g>
<text class="nl" x="601.2" y="398.6" font-size="5.47" stroke-width="1.97">SOX2</text>
<text class="nd" x="601.2" y="398.6" font-size="5.47">SOX2</text>
<g transform="translate(623 436) scale(0.890)">
<ellipse cx=".7" cy="1.7" rx="11.6" ry="11.3" fill="url(#sh)"/>
<circle r="10" fill="#79c69e"/>
<path d="M0.4 4.1L0.8 6.1L-0.3 7.3M1.6 -1.8L2.3 -3.6L3.7 -3.2M-1.6 0.6L-2.1 -0.5L-1.8 -1.4M-0.1 2.1L1.7 1.5L2.6 0.3M3.8 -0.5L3.5 0.8L3.3 1.9M-0.9 -1.9L0.2 -3.4L1.5 -2.9M-0.2 0.8L-1.4 -0L-2.2 0.9M2.2 -0.5L1.9 -1.6L1.6 -2.4M-1 -0.8L0.6 0.3L0.3 1.8M1.8 -2.2L3.4 -1.7L3.9 -3M1.4 0.4L-0.1 -0.3L-0.6 -1.4" fill="none" stroke="#52ca0d" stroke-width=".8" stroke-opacity=".7" stroke-linejoin="round"/>
<use href="#nd"/>
<circle r="9.6" fill="none" stroke="#426c56" stroke-width=".85" stroke-opacity=".8"/>
</g>
<text class="nl" x="631.7" y="428.3" font-size="5.47" stroke-width="1.97">SMAD4</text>
<text class="nd" x="631.7" y="428.3" font-size="5.47">SMAD4</text>
<g transform="translate(673.8 454.4) scale(0.890)">
<ellipse cx=".7" cy="1.7" rx="11.6" ry="11.3" fill="url(#sh)"/>
<circle r="10" fill="#4d9a4d"/>
<path d="M0.2 1L0.1 3.4L-0.7 5.1M-0.9 2.6L-1.6 0.5L-2.4 -1.2M1.6 4L-0 3.5L0.4 2.2M1.2 1.2L0.1 1.7L-0.4 2.5M0.2 -2L1.5 -0L2.6 1.5M-3.2 -1.2L-1.9 -2.3L-1.7 -3.6M0.6 2.6L0 3.9L0.9 4.6M-4 0.2L-5.2 -0.5L-5.8 0.4M0.9 2.2L-0.3 0.3L1 -0.9M-2.5 -0.9L-3.9 -1.5L-4.8 -0.8M-1.4 3.6L0.3 2.3L0.5 0.6" fill="none" stroke="#6f7f1c" stroke-width=".8" stroke-opacity=".7" stroke-linejoin="round"/>
<use href="#nd"/>
<circle r="9.6" fill="none" stroke="#2a542a" stroke-width=".85" stroke-opacity=".8"/>
</g>
<text class="nl" x="682.5" y="446.7" font-size="5.47" stroke-width="1.97">GSK3B</text>
<text class="nd" x="682.5" y="446.7" font-size="5.47">GSK3B</text>
<g fill="none" stroke-width="1.11" stroke-linecap="round">
<path stroke="#bed636" d="M541 521.1L589.8 545.8M541.3 520.5L553.5 575.9M589.6 544.7L553 575.4M590.7 499.9L541 519.8M541.3 520.5L575.3 614.3M589.6 500.6L588.7 545.2M639.3 532.4L553.5 575.9M638.9 531L589.7 543.8"/>
<path stroke="#4e4e56" d="M590.6 545.7L554 576.4M593.8 500.7L592.9 545.3M639.9 533.7L554.1 577.2M639.3 532.4L590.1 545.2M638.6 529.7L589.4 542.5"/>
<path stroke="#e44ae2" d="M541.6 519.9L590.4 544.6M542.7 520.2L554.9 575.6M539.9 520.8L552.1 576.2M542.6 520L576.6 613.8M592.4 500.6L591.5 545.2M588.2 500.5L587.3 545.1M638.7 531.1L552.9 574.6M640 535.1L590.8 547.9M615.4 598.3L576.2 616.2"/>
<path stroke="#42c0dc" d="M591.3 501.3L541.6 521.2M540 521L574 614.8M591 500.6L590.1 545.2M639.7 533.8L590.5 546.6M614.8 597L575.6 614.9"/>
<path stroke="#a8a8f0" d="M613.6 594.5L574.4 612.4"/>
<path stroke="#4040f0" d="M614.2 595.8L575 613.7"/>
<path stroke="#bed636" d="M591 500.6L575.3 614.3M590.2 501.8L638.5 533.6M638.2 531.5L574.2 613.4M638.6 532.1L613.8 596.1M552.8 577.9L613.8 598.4M591 500.6L553.5 575.9M589.5 545.5L613.9 596.7M552.9 576.3L574.7 614.7"/>
<path stroke="#4e4e56" d="M640.4 533.3L576.4 615.2M640 532.7L615.2 596.7M553.7 575.2L614.7 595.7M589.4 545.1L574.6 614.2"/>
<path stroke="#e44ae2" d="M591 500.6L639.3 532.4M639.3 532.4L575.3 614.3M553.3 576.6L614.3 597.1M590.7 544.9L615.1 596.1M555.4 574.8L577.2 613.2M551.6 577L573.4 615.4M592.2 545.6L577.4 614.7M588 544.8L573.2 613.9"/>
<path stroke="#42c0dc" d="M591.8 499.4L640.1 531.2M554.2 573.9L615.2 594.4M554.1 575.5L575.9 613.9M590.8 545.3L576 614.4"/>
</g>
<g transform="translate(591 500.6) scale(1.060)">
<ellipse cx=".7" cy="1.7" rx="11.6" ry="11.3" fill="url(#sh)"/>
<circle r="10" fill="#d5c396"/>
<use href="#nd"/>
<circle r="9.6" fill="none" stroke="#746a52" stroke-width=".85" stroke-opacity=".8"/>
</g>
<text class="nl" x="601.4" y="491.4" font-size="6.52" stroke-width="2.35">CDH1</text>
<text class="nd" x="601.4" y="491.4" font-size="6.52">CDH1</text>
<g transform="translate(541.3 520.5) scale(1.060)">
<ellipse cx=".7" cy="1.7" rx="11.6" ry="11.3" fill="url(#sh)"/>
<circle r="10" fill="#5449a5"/>
<path d="M-0.8 3.3L-1.8 1.7L-3.2 1.9M-0.3 1.5L0.8 3.3L1.2 5M1.1 3.7L2.4 2.9L3.7 3M-3.9 -1L-3.1 0.9L-3.7 2.4M1.6 2.8L2.5 2.4L3.2 2.8M-4.6 0L-5.7 1.7L-5.1 3.2M-2.6 3.1L-4 3.2L-5.2 3.4M3.5 -0.7L4.7 -2.4L6.3 -1.6M-1.1 0.9L-2.6 0.4L-3.9 0.5M-4.5 0.5L-3.2 -0.2L-3.4 -1.4M3.9 0.6L5.4 1.5L6.5 0.6" fill="none" stroke="#166a8a" stroke-width=".8" stroke-opacity=".7" stroke-linejoin="round"/>
<use href="#nd"/>
<circle r="9.6" fill="none" stroke="#2e285a" stroke-width=".85" stroke-opacity=".8"/>
</g>
<text class="nl" x="551.7" y="511.3" font-size="6.52" stroke-width="2.35">PRKCA</text>
<text class="nd" x="551.7" y="511.3" font-size="6.52">PRKCA</text>
<g transform="translate(639.3 532.4) scale(1.060)">
<ellipse cx=".7" cy="1.7" rx="11.6" ry="11.3" fill="url(#sh)"/>
<circle r="10" fill="#4da18f"/>
<path d="M2.3 -1.4L-0 -1.3L-1.6 -0.3M-3.2 0.3L-1.4 -0L-1.2 -1.4M-2.8 -2L-4.5 -1.2L-6 -0.8M0.4 3.3L0.6 1L2 -0.1M-1.5 0.1L-1.2 1.1L-1.7 1.9M4.3 0.7L3 1.5L1.9 1.9M3 0.2L2.9 -1.6L3.7 -2.7M1.4 -1.5L0.7 -3L1.7 -3.7M-2.8 1.3L-1.4 2.1L-0.2 2.6M1.4 3.1L2.7 2.4L2.6 1.2M-1.8 3.5L-3.7 2.2L-3.3 0.4" fill="none" stroke="#208719" stroke-width=".8" stroke-opacity=".7" stroke-linejoin="round"/>
<use href="#nd"/>
<circle r="9.6" fill="none" stroke="#2a584e" stroke-width=".85" stroke-opacity=".8"/>
</g>
<text class="nl" x="649.7" y="523.2" font-size="6.52" stroke-width="2.35">SMAD4</text>
<text class="nd" x="649.7" y="523.2" font-size="6.52">SMAD4</text>
<g transform="translate(590.1 545.2) scale(1.060)">
<ellipse cx=".7" cy="1.7" rx="11.6" ry="11.3" fill="url(#sh)"/>
<circle r="10" fill="#80acd1"/>
<path d="M2.3 0.8L3.5 -1.2L5.3 -1.8M-0.9 -0.4L-0 -2.2L1.6 -2.2M0.1 2.6L-0.4 1.5L-0.5 0.5M0.3 3.6L2.3 3.3L2.9 4.8M-4.6 -0L-6.3 -0.6L-7 0.7M-0.2 -0.3L-2.3 -1.3L-3.2 0.2M2.1 2.2L2.8 0.5L4.2 -0.2M0.2 2L2 1.1L3.5 1.5M1.5 -0.2L0.8 2.2L-1 1.6M-1.6 2.4L0 2.5L0.9 3.4M3.7 1.6L5 2.9L6.4 2.5" fill="none" stroke="#00e48c" stroke-width=".8" stroke-opacity=".7" stroke-linejoin="round"/>
<use href="#nd"/>
<circle r="9.6" fill="none" stroke="#465e72" stroke-width=".85" stroke-opacity=".8"/>
</g>
<text class="nl" x="600.5" y="536" font-size="6.52" stroke-width="2.35">CTNNB1</text>
<text class="nd" x="600.5" y="536" font-size="6.52">CTNNB1</text>
<g transform="translate(553.5 575.9) scale(1.060)">
<ellipse cx=".7" cy="1.7" rx="11.6" ry="11.3" fill="url(#sh)"/>
<circle r="10" fill="#88a53e"/>
<path d="M0.3 -0L1.1 -1.3L1.3 -2.5M-1.9 -1.3L-3.9 -0.4L-5.4 0.6M1.9 2.6L2.1 0.8L3.3 0M1.8 0.4L0.3 -0.5L-1.2 -0.5M-1.7 2.7L-3.4 2.9L-4.5 2.2M-2.7 2.6L-4.5 1.9L-5.7 3M2.5 0.9L1.5 0.3L1 1M-0.5 -2L0.8 -2L1.8 -2.1M-3.5 1L-4.9 2.9L-3.8 4.5M-1.3 2.4L-2.1 3.4L-2.7 4.3M-2.3 -1.9L-2.7 -0.5L-3.5 0.3" fill="none" stroke="#894610" stroke-width=".8" stroke-opacity=".7" stroke-linejoin="round"/>
<use href="#nd"/>
<circle r="9.6" fill="none" stroke="#4a5a22" stroke-width=".85" stroke-opacity=".8"/>
</g>
<text class="nl" x="563.9" y="566.7" font-size="6.52" stroke-width="2.35">TP53</text>
<text class="nd" x="563.9" y="566.7" font-size="6.52">TP53</text>
<g transform="translate(614.5 596.4) scale(1.060)">
<ellipse cx=".7" cy="1.7" rx="11.6" ry="11.3" fill="url(#sh)"/>
<circle r="10" fill="#c64954"/>
<path d="M0.7 -1L1.9 -0.4L2.5 0.5M0.2 -0.1L2.5 0.3L4.3 0.5M2.5 0.6L3.5 2.2L4.3 3.5M2.7 -0.6L3.9 0.7L4.2 2.1M2.9 2.5L3.8 3.7L2.9 4.4M-1.2 -0.6L-2.8 0.5L-2.5 1.9M0.3 -2.6L-0.4 -3.4L-1.1 -2.9M-0.8 -2.7L-2.8 -1.8L-4 -0.5M-2 3.1L-0.4 2.9L-0.2 4.2M0.1 1.8L-2 2.2L-3.8 2.6M1.6 -2L0.5 -3.7L-1.1 -3.8" fill="none" stroke="#b700aa" stroke-width=".8" stroke-opacity=".7" stroke-linejoin="round"/>
<use href="#nd"/>
<circle r="9.6" fill="none" stroke="#6c282e" stroke-width=".85" stroke-opacity=".8"/>
</g>
<text class="nl" x="624.9" y="587.2" font-size="6.52" stroke-width="2.35">AURKA</text>
<text class="nd" x="624.9" y="587.2" font-size="6.52">AURKA</text>
<g transform="translate(575.3 614.3) scale(1.060)">
<ellipse cx=".7" cy="1.7" rx="11.6" ry="11.3" fill="url(#sh)"/>
<circle r="10" fill="#79c388"/>
<path d="M-0.6 0L-0.2 -1.2L0.8 -1.1M-0 1.1L-1.4 2.2L-2.9 2.2M-3.1 0.1L-2.3 -1L-1.2 -1.3M-1.7 1.9L0.3 1.7L1.7 2.3M-1.1 -2L-0 -2.9L0.8 -2.2M-3.6 0.3L-4.8 0.6L-5.5 1.3M-3.2 -0.4L-2.5 -1.3L-1.5 -1.5M1.2 2.5L0.7 3.6L0.2 4.3M0.2 -1.4L-1 -2.5L-2.1 -3M0.6 0.9L0.2 -1.5L-0.7 -3.1M2.8 2.6L1.6 2.3L1.4 3.2" fill="none" stroke="#83c212" stroke-width=".8" stroke-opacity=".7" stroke-linejoin="round"/>
<use href="#nd"/>
<circle r="9.6" fill="none" stroke="#426a4a" stroke-width=".85" stroke-opacity=".8"/>
</g>
<text class="nl" x="585.7" y="605.1" font-size="6.52" stroke-width="2.35">GSK3B</text>
<text class="nd" x="585.7" y="605.1" font-size="6.52">GSK3B</text>
<g fill="none" stroke-width="1.17" stroke-linecap="round">
<path stroke="#bed636" d="M411.7 635.2L461.1 640.4M376.3 584.9L426.5 573.2M366.2 628.8L400.1 684.2M367.4 628.7L411.8 633.7M375.1 582.4L328.1 670.8M367.5 628L328.8 671.1"/>
<path stroke="#4e4e56" d="M411.8 633.7L461.2 638.9M375.6 582L425.8 570.3M368.8 627.2L402.7 682.6M367.6 627.3L412 632.3M409 632.4L398.5 682.8"/>
<path stroke="#e44ae2" d="M412 632.3L461.4 637.5M376 583.4L426.2 571.7M367.5 628L401.4 683.4M367.7 625.8L412.1 630.8M367.3 630.2L411.7 635.2M376.5 583L329.5 671.4M410.4 632.7L399.9 683.1"/>
<path stroke="#42c0dc" d="M375.3 580.5L425.5 568.8M414.8 633.6L404.3 684"/>
<path stroke="#a8a8f0" d="M412.1 630.8L461.5 636M411.9 633L401.4 683.4"/>
<path stroke="#4040f0" d="M413.4 633.3L402.9 683.7"/>
<path stroke="#bed636" d="M425.3 571.3L460.6 638.5M375.1 582.6L366.8 627.9M425.5 570.5L367 627.5M459.5 635.8L399.6 681M328.8 671.1L401.4 683.4M367.6 627.3L461.4 637.5"/>
<path stroke="#4e4e56" d="M426.7 570.7L462 637.9M462.2 639.4L402.3 684.6"/>
<path stroke="#e44ae2" d="M376.5 582.8L368.2 628.1M426.5 571.5L368 628.5M377.6 581.4L413.7 631.7M461.3 638.2L401.4 683.4M367.4 628.7L461.2 638.9"/>
<path stroke="#42c0dc" d="M374 584L410.1 634.3"/>
<path stroke="#a8a8f0" d="M376.4 582.3L412.5 632.6M460.4 637L400.5 682.2"/>
<path stroke="#4040f0" d="M375.2 583.1L411.3 633.4M463.1 640.6L403.2 685.8"/>
</g>
<g transform="translate(375.8 582.7) scale(1.110)">
<ellipse cx=".7" cy="1.7" rx="11.6" ry="11.3" fill="url(#sh)"/>
<circle r="10" fill="#c64954"/>
<path d="M-3.9 1.9L-5.4 3.4L-6.8 2.4M1.6 -1.6L0.8 -0.8L1 0.1M-1.5 1.9L-0.5 3.6L0.9 2.9M-1.7 3.8L-2.7 4.5L-2.7 5.5M0.1 -1.5L0.8 -0.4L1.8 0.1M0.8 -0.1L2.5 0.3L3.9 -0.1M-3.4 0.6L-3.6 1.6L-3.1 2.3M-0.7 0.3L-0.5 -1.8L1 -2.6M-1 -1.6L-0.5 -0.3L0.4 0.5M-3.9 1.4L-4.7 -0.1L-6.1 -0.2M4.7 1L5.1 2.2L6.2 2.1" fill="none" stroke="#b700aa" stroke-width=".8" stroke-opacity=".7" stroke-linejoin="round"/>
<use href="#nd"/>
<circle r="9.6" fill="none" stroke="#6c282e" stroke-width=".85" stroke-opacity=".8"/>
</g>
<text class="nl" x="386.7" y="573" font-size="6.83" stroke-width="2.46">AURKA</text>
<text class="nd" x="386.7" y="573" font-size="6.83">AURKA</text>
<g transform="translate(426 571) scale(1.110)">
<ellipse cx=".7" cy="1.7" rx="11.6" ry="11.3" fill="url(#sh)"/>
<circle r="10" fill="#544da5"/>
<path d="M-1.1 0.3L0.2 -0.2L0.8 0.7M-2.1 3.4L0.2 3.6L0.2 5.5M0.1 -1.8L2.1 -2.4L3.8 -2.3M-0.2 4.4L-1.7 2.7L-3.3 3.4M-1.7 2.8L-0.1 1.9L0.9 0.9M2.2 0.3L0.9 -1.3L0.1 -2.6M-4.3 -0.9L-3.8 -2.5L-3.2 -3.7M0.3 0.9L0.8 -0.8L2.2 -0.9M-1.5 1.4L-2.5 1.6L-3 2.3M-0.7 0.7L-2 0.7L-2.5 -0.2M-0.9 -0.9L-0.1 0.1L0.7 -0.4" fill="none" stroke="#176f8b" stroke-width=".8" stroke-opacity=".7" stroke-linejoin="round"/>
<use href="#nd"/>
<circle r="9.6" fill="none" stroke="#2e2a5a" stroke-width=".85" stroke-opacity=".8"/>
</g>
<text class="nl" x="436.9" y="561.3" font-size="6.83" stroke-width="2.46">BRCA1</text>
<text class="nd" x="436.9" y="561.3" font-size="6.83">BRCA1</text>
<g transform="translate(367.5 628) scale(1.110)">
<ellipse cx=".7" cy="1.7" rx="11.6" ry="11.3" fill="url(#sh)"/>
<circle r="10" fill="#889e4d"/>
<path d="M-0.7 1.9L-2.2 2.6L-3.4 2.1M3.3 -1.5L5.1 -2.7L6.8 -3.2M0.6 1L0.9 -1.1L2.6 -1.4M0.6 -0L0.4 1.3L0.8 2.2M1.9 0.8L3 1.5L3.5 2.4M-0.8 0.3L-2 2.1L-3.4 3.2M-0.2 4.4L-1.2 3.8L-2.1 4M-0.9 1.6L0.8 1.9L1.2 3.2M-1.5 1.8L-1.7 3.3L-2 4.4M1.3 4L2.7 3.1L4 3.4M0.6 0.8L1.1 -0.6L0.2 -1.3" fill="none" stroke="#82481b" stroke-width=".8" stroke-opacity=".7" stroke-linejoin="round"/>
<use href="#nd"/>
<circle r="9.6" fill="none" stroke="#4a562a" stroke-width=".85" stroke-opacity=".8"/>
</g>
<text class="nl" x="378.4" y="618.3" font-size="6.83" stroke-width="2.46">MDM2</text>
<text class="nd" x="378.4" y="618.3" font-size="6.83">MDM2</text>
<g transform="translate(411.9 633) scale(1.110)">
<ellipse cx=".7" cy="1.7" rx="11.6" ry="11.3" fill="url(#sh)"/>
<circle r="10" fill="#88ca96"/>
<path d="M1 0.2L2.5 1.9L2.9 3.6M-1.8 2.6L-1.8 1.2L-1.1 0.3M2.7 3L2.8 1.4L3.7 0.4M1.2 2.1L3 1.7L4.4 1.5M-1 4.2L-1.8 6L-3.4 6M-1.8 4L-2.9 4.7L-2.5 5.7M0.5 1L1.8 -0.5L2.9 -1.6M-2.1 0.9L-0.2 1.4L0 2.9M1.7 2L0.1 2.9L-0.3 4.3M-0.6 -0.7L-0.3 -2L-0.5 -3M-1.9 3.6L-0.3 4L0.8 3.4" fill="none" stroke="#89d410" stroke-width=".8" stroke-opacity=".7" stroke-linejoin="round"/>
<use href="#nd"/>
<circle r="9.6" fill="none" stroke="#4a6e52" stroke-width=".85" stroke-opacity=".8"/>
</g>
<text class="nl" x="422.8" y="623.3" font-size="6.83" stroke-width="2.46">GSK3B</text>
<text class="nd" x="422.8" y="623.3" font-size="6.83">GSK3B</text>
<g transform="translate(461.3 638.2) scale(1.110)">
<ellipse cx=".7" cy="1.7" rx="11.6" ry="11.3" fill="url(#sh)"/>
<circle r="10" fill="#3e9679"/>
<path d="M-1.6 2.6L-1.2 4.2L-1.4 5.4M3.2 3.2L3.4 4.8L4.7 4.7M3.5 -0.1L4.1 -1.4L5.1 -1.8M3.8 1.2L3.2 0.3L3 -0.4M0.5 1L-0.5 -0.5L-1.9 -0.3M2.4 1.6L1.4 0.4L2.2 -0.7M-3.8 2L-5.3 1.4L-5.5 0.2M2.1 1.3L1.7 0.1L1.2 -0.8M0.7 -2.4L-0.5 -2.6L-0.7 -3.6M2.5 0.5L1.2 1.3L0.2 2M2.4 2.1L2.1 0.7L2.5 -0.3" fill="none" stroke="#257c12" stroke-width=".8" stroke-opacity=".7" stroke-linejoin="round"/>
<use href="#nd"/>
<circle r="9.6" fill="none" stroke="#225242" stroke-width=".85" stroke-opacity=".8"/>
</g>
<text class="nl" x="472.2" y="628.5" font-size="6.83" stroke-width="2.46">STK11</text>
<text class="nd" x="472.2" y="628.5" font-size="6.83">STK11</text>
<g transform="translate(328.8 671.1) scale(1.110)">
<ellipse cx=".7" cy="1.7" rx="11.6" ry="11.3" fill="url(#sh)"/>
<circle r="10" fill="#80b4d1"/>
<g transform="rotate(18)" fill="none" stroke-width="1.1" stroke-linecap="round" stroke-opacity=".85">
<path d="M-5 1.6L-4.3 -.8L-3.6 1.8L-2.9 -.6" stroke="#e03030"/>
<path d="M-3 1.6L-2.3 -.8L-1.6 1.8L-0.9 -.6" stroke="#e8a020"/>
<path d="M-1 1.6L-0.3 -.8L0.4 1.8L1.1 -.6" stroke="#98c820"/>
<path d="M1 1.6L1.7 -.8L2.4 1.8L3.1 -.6" stroke="#30b060"/>
<path d="M3 1.6L3.7 -.8L4.4 1.8L5.1 -.6" stroke="#3070e0"/>
</g>
<use href="#nd"/>
<circle r="9.6" fill="none" stroke="#466272" stroke-width=".85" stroke-opacity=".8"/>
</g>
<text class="nl" x="339.7" y="661.4" font-size="6.83" stroke-width="2.46">BCL2L11</text>
<text class="nd" x="339.7" y="661.4" font-size="6.83">BCL2L11</text>
<g transform="translate(401.4 683.4) scale(1.110)">
<ellipse cx=".7" cy="1.7" rx="11.6" ry="11.3" fill="url(#sh)"/>
<circle r="10" fill="#d1bb88"/>
<path d="M3.6 0.1L2.5 -0.2L2 0.6M4.7 1.1L5.6 1.7L6.4 2.1M2.8 3.6L1.4 3.4L1.2 4.5M3.5 -0.2L4.2 1.5L5.2 2.7M-0 -1.4L1.5 -1.8L2.4 -0.8M1.8 -1.6L-0.3 -0.9L0.3 0.8M-0.9 0.6L0.7 0.2L1.7 1.1M-2 2.9L-3.5 2.3L-4.5 3.2M0.3 3.8L-0.7 3.4L-0.7 2.4M-0.9 3.1L-0.1 5.2L0.1 6.9M0.6 0.8L-0.7 0.2L-0.4 -0.9" fill="none" stroke="#e60222" stroke-width=".8" stroke-opacity=".7" stroke-linejoin="round"/>
<use href="#nd"/>
<circle r="9.6" fill="none" stroke="#72664a" stroke-width=".85" stroke-opacity=".8"/>
</g>
<text class="nl" x="412.3" y="673.7" font-size="6.83" stroke-width="2.46">RPS6KB1</text>
<text class="nd" x="412.3" y="673.7" font-size="6.83">RPS6KB1</text>
<g fill="none" stroke-width="1.12" stroke-linecap="round">
<path stroke="#bed636" d="M188.3 506.9L226.4 579.6M187.7 505.6L236.9 522.3M189.1 507.5L191.2 549.1M189.1 549.2L159 594.4M188.6 549.7L224.6 580.8"/>
<path stroke="#4e4e56" d="M186.3 509.6L235.5 526.3M184.9 507.7L187 549.3"/>
<path stroke="#e44ae2" d="M185.7 508.3L223.8 581M187.2 506.9L236.4 523.6M187.7 507.6L189.8 549.2M189.6 548.7L225.6 579.8"/>
<path stroke="#42c0dc" d="M186.8 508.3L236 525M264.7 559.7L224.8 579.7M186.3 507.6L188.4 549.2"/>
<path stroke="#a8a8f0" d="M187 507.6L225.1 580.3M265.3 560.9L225.4 580.9"/>
<path stroke="#bed636" d="M236.8 523.9L265.6 559.9M238.3 524.7L227.2 580.7M235.9 523.7L188.8 548.6M187.7 507.8L159.7 594.6M225 579.6L158.9 593.7M189 549.9L264.9 561"/>
<path stroke="#4e4e56" d="M234.1 523.9L223 579.9"/>
<path stroke="#e44ae2" d="M236.9 524.4L225.8 580.4M236.5 524.9L189.4 549.8M186.3 507.4L158.3 594.2M225.2 581L159.1 595.1M189.2 548.5L265.1 559.6"/>
<path stroke="#42c0dc" d="M235.6 524.7L264.4 560.7M235.5 524.2L224.4 580.2"/>
</g>
<g transform="translate(187 507.6) scale(1.070)">
<ellipse cx=".7" cy="1.7" rx="11.6" ry="11.3" fill="url(#sh)"/>
<circle r="10" fill="#d1c388"/>
<path d="M-0.3 2.5L-1.4 2.7L-2.2 2.4M-1.9 -2.1L-3.1 -1.4L-4.2 -1.3M-3.3 2.3L-3.5 3.4L-4.3 3.9M-3.2 -0.4L-4.2 1.6L-3.6 3.4M1.6 2L0.5 3.1L0.2 4.3M3.1 0L2.5 -1.6L1.4 -2.5M-3.3 1.9L-4.8 1.6L-5.3 0.5M3 2.8L1.5 2.4L0.8 1.4M-4.8 -0.1L-3.1 1.6L-2.3 3.3M-0.9 -0.6L-3.1 -1.4L-4.7 -2.5M0.9 0.6L0.8 -0.4L1.2 -1.2" fill="none" stroke="#e6020b" stroke-width=".8" stroke-opacity=".7" stroke-linejoin="round"/>
<use href="#nd"/>
<circle r="9.6" fill="none" stroke="#726a4a" stroke-width=".85" stroke-opacity=".8"/>
</g>
<text class="nl" x="197.5" y="498.3" font-size="6.58" stroke-width="2.37">AURKA</text>
<text class="nd" x="197.5" y="498.3" font-size="6.58">AURKA</text>
<g transform="translate(236.2 524.3) scale(1.070)">
<ellipse cx=".7" cy="1.7" rx="11.6" ry="11.3" fill="url(#sh)"/>
<circle r="10" fill="#c64249"/>
<path d="M0.3 -0.5L1.2 0.3L2.2 -0.1M-0.3 1.2L-1.7 -0.1L-1.5 -1.7M1.2 -1.2L3 -1.9L2.6 -3.4M-2.6 1.8L-3.4 0.5L-4.5 -0.1M-0.6 1.1L-3 0.8L-3.9 -0.9M2.2 0.3L0.8 0.5L-0.3 0.6M-3.5 2.1L-4.3 1.1L-4.8 0.2M-1.1 3.4L-0 4.5L1 5.3M-0.8 0.9L-1.8 -0.8L-1.1 -2.2M-3.5 -1.3L-4.7 -0.7L-5.2 0.2M-3.8 2.6L-5.4 1L-7.2 1.1" fill="none" stroke="#b2009f" stroke-width=".8" stroke-opacity=".7" stroke-linejoin="round"/>
<use href="#nd"/>
<circle r="9.6" fill="none" stroke="#6c2428" stroke-width=".85" stroke-opacity=".8"/>
</g>
<text class="nl" x="246.7" y="515" font-size="6.58" stroke-width="2.37">NFKBIA</text>
<text class="nd" x="246.7" y="515" font-size="6.58">NFKBIA</text>
<g transform="translate(189.1 549.2) scale(1.070)">
<ellipse cx=".7" cy="1.7" rx="11.6" ry="11.3" fill="url(#sh)"/>
<circle r="10" fill="#6aa53e"/>
<path d="M-0.6 1L-2.1 -0.1L-3.4 -0.8M4.2 -0.8L3.4 1L2.7 2.3M2.2 0.8L4 1.5L5.6 1.2M-1.3 -0.9L0.5 -1.3L1.2 -0M4.6 -0.1L4.7 1.5L5.9 1.9M3.3 0.5L4.3 0.5L5.1 0.2M3.6 0.7L4.4 -0.4L5.5 -0M-0.4 -1.6L-1.4 -0.2L-2.2 0.9M0.3 1.2L-0.4 0.3L-0.6 -0.7M0.5 2.2L1.2 1.2L2 0.9M1.2 4.3L0.9 5.3L1.1 6.1" fill="none" stroke="#896810" stroke-width=".8" stroke-opacity=".7" stroke-linejoin="round"/>
<use href="#nd"/>
<circle r="9.6" fill="none" stroke="#3a5a22" stroke-width=".85" stroke-opacity=".8"/>
</g>
<text class="nl" x="199.6" y="539.9" font-size="6.58" stroke-width="2.37">TP53</text>
<text class="nd" x="199.6" y="539.9" font-size="6.58">TP53</text>
<g transform="translate(265 560.3) scale(1.070)">
<ellipse cx=".7" cy="1.7" rx="11.6" ry="11.3" fill="url(#sh)"/>
<circle r="10" fill="#4d8f9e"/>
<path d="M-0.6 -0.5L0.1 0.7L-0.3 1.9M1.1 -0.5L0 0.2L0.1 1.2M4.1 0.8L4.2 -1L4.1 -2.5M1 4.3L0.9 2.4L2.4 1.9M2.2 0.8L3.2 1.6L3.9 0.9M-0.6 4L-2 4.3L-2.4 3.2M1.9 1.3L4 1.6L5.5 2.6M3.3 -0.2L2.6 -2.3L2.2 -4.1M1 2.1L2.5 0.8L3.6 -0.2M-1.8 -1.7L-1.5 -2.7L-1.7 -3.5M0.1 0.9L-0.7 2.2L-1.7 2.9" fill="none" stroke="#1b823f" stroke-width=".8" stroke-opacity=".7" stroke-linejoin="round"/>
<use href="#nd"/>
<circle r="9.6" fill="none" stroke="#2a4e56" stroke-width=".85" stroke-opacity=".8"/>
</g>
<text class="nl" x="275.5" y="551" font-size="6.58" stroke-width="2.37">PRKCA</text>
<text class="nd" x="275.5" y="551" font-size="6.58">PRKCA</text>
<g transform="translate(225.1 580.3) scale(1.070)">
<ellipse cx=".7" cy="1.7" rx="11.6" ry="11.3" fill="url(#sh)"/>
<circle r="10" fill="#8880c3"/>
<path d="M-4 -1.3L-6 -0.6L-6.3 1.1M0.3 2.3L-0.4 1.4L-1.3 1.6M-3.2 0.3L-5.2 0.5L-5.6 2M2.6 3.6L2.3 1.9L3 0.7M1.5 -1.6L-0.1 -2.2L-1.1 -3.1M3.1 -1.2L1.8 0.2L2.3 1.7M4.2 0.6L4.3 -1.5L3.1 -2.7M-1.2 2L-0.2 0.7L-0.8 -0.4M-4.4 -0.8L-6.4 -1L-7.8 -0.2M-0.4 -0.7L0.2 0.7L1.1 1.5M-2.3 1.8L-2.6 2.9L-3.4 3" fill="none" stroke="#1694c3" stroke-width=".8" stroke-opacity=".7" stroke-linejoin="round"/>
<use href="#nd"/>
<circle r="9.6" fill="none" stroke="#4a466a" stroke-width=".85" stroke-opacity=".8"/>
</g>
<text class="nl" x="235.6" y="571" font-size="6.58" stroke-width="2.37">IKBKB</text>
<text class="nd" x="235.6" y="571" font-size="6.58">IKBKB</text>
<g transform="translate(159 594.4) scale(1.070)">
<ellipse cx=".7" cy="1.7" rx="11.6" ry="11.3" fill="url(#sh)"/>
<circle r="10" fill="#79c396"/>
<g transform="rotate(18)" fill="none" stroke-width="1.1" stroke-linecap="round" stroke-opacity=".85">
<path d="M-5 1.6L-4.3 -.8L-3.6 1.8L-2.9 -.6" stroke="#e03030"/>
<path d="M-3 1.6L-2.3 -.8L-1.6 1.8L-0.9 -.6" stroke="#e8a020"/>
<path d="M-1 1.6L-0.3 -.8L0.4 1.8L1.1 -.6" stroke="#98c820"/>
<path d="M1 1.6L1.7 -.8L2.4 1.8L3.1 -.6" stroke="#30b060"/>
<path d="M3 1.6L3.7 -.8L4.4 1.8L5.1 -.6" stroke="#3070e0"/>
</g>
<use href="#nd"/>
<circle r="9.6" fill="none" stroke="#426a52" stroke-width=".85" stroke-opacity=".8"/>
</g>
<text class="nl" x="169.5" y="585.1" font-size="6.58" stroke-width="2.37">BCL2L11</text>
<text class="nd" x="169.5" y="585.1" font-size="6.58">BCL2L11</text>
<g fill="none" stroke-width="0.96" stroke-linecap="round">
<path stroke="#bed636" d="M56.4 325.6L97.6 330.2M57.4 322.8L128.1 362.6M127.9 366.5L65.7 384.4M157.7 307.9L126.7 363.9M65.3 381.5L105.6 400M98.3 329.1L77.5 424M99.3 330L66.6 383.1M158 307.6L97.5 328.4M106.5 402L78.1 425.3M64.4 382.3L76.3 424.1"/>
<path stroke="#4e4e56" d="M56.5 324.4L97.7 329M56.8 323.9L127.5 363.7M127.2 364.2L65 382.1M97.1 328.9L76.3 423.8M97.2 328.7L64.5 381.8M65.6 381.9L77.5 423.7"/>
<path stroke="#e44ae2" d="M56.8 322L98 326.6M56.2 326.8L97.4 331.4M55.6 326L126.3 365.8M126.9 363L64.7 380.9M158.7 308.5L127.7 364.5M96.1 328L63.4 381.1M158.4 308.8L97.9 329.6M105.7 401.1L77.3 424.4"/>
<path stroke="#42c0dc" d="M56.6 323.2L97.8 327.8M56.2 324.9L126.9 364.7M127.5 365.4L65.3 383.3M126.5 361.9L64.3 379.8M64.7 382.7L105 401.2M98.2 329.3L65.5 382.4M104.9 400.1L76.5 423.4"/>
<path stroke="#a8a8f0" d="M104.1 399.2L75.7 422.5"/>
<path stroke="#bed636" d="M127.2 364.2L168.4 440.9M109.1 290.2L99.5 329.4M125.3 362.6L75 422.3M107.9 289.6L127.8 364M97.7 329L105.3 400.6M95.4 331L124.9 366.2M125.6 363.3L103.7 399.7M55.9 324.5L64.4 382.2M105.3 400.6L189.7 397.2M126.6 365.3L189.1 398.3"/>
<path stroke="#4e4e56" d="M106.7 289.7L97.1 328.9M127.2 364.2L76.9 423.9M106.7 290L126.6 364.4M96.5 329.1L104.1 400.7M98.2 328.6L127.7 363.8M127.7 364.5L105.8 400.9M57.1 324.3L65.6 382"/>
<path stroke="#e44ae2" d="M105.5 289.4L95.9 328.6M129.1 365.8L78.8 425.5M105.5 290.3L125.4 364.7M100 327L129.5 362.2M96.3 330.2L125.8 365.4M126.7 363.9L104.8 400.3M127.2 364.2L189.7 397.2"/>
<path stroke="#42c0dc" d="M107.9 289.9L98.3 329.1M128.1 365L77.8 424.7M109.1 289.3L129 363.7M98.9 328.9L106.5 400.5M99.1 327.8L128.6 363M128.8 365.1L106.9 401.5"/>
<path stroke="#a8a8f0" d="M126.3 363.4L76 423.1M97.2 329.4L126.7 364.6M127.8 363.1L190.3 396.1"/>
</g>
<g transform="translate(107.3 289.8) scale(0.910)">
<ellipse cx=".7" cy="1.7" rx="11.6" ry="11.3" fill="url(#sh)"/>
<circle r="10" fill="#45549e"/>
<path d="M2.9 3.3L3.5 1L5.2 0.3M0.8 0.4L2.8 -0.3L3.4 1.3M0.3 -0.8L-1.5 -1.5L-3.1 -1.3M-2.6 0.7L-1.9 -0.9L-0.6 -1.3M-0.7 -1.9L-0.8 -3.4L0.2 -4M-0.2 -1.4L1.3 -1.2L1.6 -2.4M-3 1.3L-0.8 1L1 0.7M-2.8 2L-0.7 1.4L0.4 2.7M-4.3 0.7L-3.4 -0.2L-2.3 -0.3M4.1 0.7L4.8 1.9L5.9 2.2M0.4 -0.3L-2 -0.5L-3.7 -1.2" fill="none" stroke="#168282" stroke-width=".8" stroke-opacity=".7" stroke-linejoin="round"/>
<use href="#nd"/>
<circle r="9.6" fill="none" stroke="#262e56" stroke-width=".85" stroke-opacity=".8"/>
</g>
<text class="nl" x="116.2" y="281.9" font-size="5.60" stroke-width="2.01">CENPJ</text>
<text class="nd" x="116.2" y="281.9" font-size="5.60">CENPJ</text>
<g transform="translate(158.2 308.2) scale(0.910)">
<ellipse cx=".7" cy="1.7" rx="11.6" ry="11.3" fill="url(#sh)"/>
<circle r="10" fill="#80b4d1"/>
<path d="M-0.8 1.3L-0.5 2.7L-1 3.7M4.1 0.9L2.1 2L2.5 3.8M1.6 1.4L0.2 1.5L-0.1 2.5M-1.2 4L-2.8 4.7L-3.9 5.4M4.2 0.7L5.4 1.5L6.1 0.5M0.5 1.3L-1.1 1.4L-2.1 0.7M2.6 1L3.1 -1.3L4.8 -2.2M-1.4 1L-2.2 -0L-3.1 0.4M-1.1 -1.5L-2.8 -2.4L-4.4 -2.3M-1.8 3.6L-1.1 4.4L-1 5.3M2.9 3.5L3.8 4.3L3.8 5.2" fill="none" stroke="#00e477" stroke-width=".8" stroke-opacity=".7" stroke-linejoin="round"/>
<use href="#nd"/>
<circle r="9.6" fill="none" stroke="#466272" stroke-width=".85" stroke-opacity=".8"/>
</g>
<text class="nl" x="167.1" y="300.3" font-size="5.60" stroke-width="2.01">NEDD9</text>
<text class="nd" x="167.1" y="300.3" font-size="5.60">NEDD9</text>
<g transform="translate(56.5 324.4) scale(0.910)">
<ellipse cx=".7" cy="1.7" rx="11.6" ry="11.3" fill="url(#sh)"/>
<circle r="10" fill="#caac80"/>
<path d="M2.1 -1.9L1 -1.6L0.8 -0.6M-3.9 -0.3L-2.6 1.5L-1 2.2M-0.8 -1.8L0.2 -1.2L0.2 -0.3M-2.5 3.2L-3.6 2.5L-4.5 1.9M-1.3 1.4L-3.4 1.7L-4.4 3.2M-1.4 3.7L-1.5 2.6L-1.8 1.7M-3.4 -1.9L-4.3 -3.6L-5.9 -3.9M-3.5 0.5L-5.7 1.2L-7.4 2.2M1.8 0.2L1 -1.9L1.5 -3.7M2.9 1.8L0.8 1.6L-0.8 1.4M-0.3 -0.2L0.6 1.9L1.6 3.5" fill="none" stroke="#d30b3b" stroke-width=".8" stroke-opacity=".7" stroke-linejoin="round"/>
<use href="#nd"/>
<circle r="9.6" fill="none" stroke="#6e5e46" stroke-width=".85" stroke-opacity=".8"/>
</g>
<text class="nl" x="65.4" y="316.5" font-size="5.60" stroke-width="2.01">CDC25B</text>
<text class="nd" x="65.4" y="316.5" font-size="5.60">CDC25B</text>
<g transform="translate(97.7 329) scale(0.910)">
<ellipse cx=".7" cy="1.7" rx="11.6" ry="11.3" fill="url(#sh)"/>
<circle r="10" fill="#969645"/>
<path d="M-2.5 0.3L-4.3 -0.7L-3.7 -2.2M2.9 3.2L1.4 3.1L1.3 1.9M-0.9 2.4L0.7 0.7L2.5 1.2M4 -0.3L5.5 0.2L6.7 0.2M-2.9 3.2L-3.5 1L-2.4 -0.4M1.3 0.4L2 1.2L2.8 1.7M-3.8 0.4L-5.1 -1.3L-6.6 -0.4M1 -0.6L0.5 0.4L0.9 1.3M-4 0.8L-3.7 -0.3L-4.5 -0.7M2.9 1.7L4.9 2.4L6 3.8M4.2 -0.6L2.8 1.2L1.1 0.6" fill="none" stroke="#7c2818" stroke-width=".8" stroke-opacity=".7" stroke-linejoin="round"/>
<use href="#nd"/>
<circle r="9.6" fill="none" stroke="#525226" stroke-width=".85" stroke-opacity=".8"/>
</g>
<text class="nl" x="106.6" y="321.1" font-size="5.60" stroke-width="2.01">PLK1</text>
<text class="nd" x="106.6" y="321.1" font-size="5.60">PLK1</text>
<g transform="translate(127.2 364.2) scale(0.910)">
<ellipse cx=".7" cy="1.7" rx="11.6" ry="11.3" fill="url(#sh)"/>
<circle r="10" fill="#c64954"/>
<path d="M0.6 1.3L-0.8 0.4L-2 -0M1.2 2.8L2.3 3.1L2.9 2.5M-3.9 0.5L-5.6 0.9L-6.9 0.4M2.5 -0.2L4.2 1.1L3.5 2.7M1.6 -1.7L0 -1.6L-1.1 -0.9M-1.1 -1.9L-0.4 -0.3L0.8 0.4M0.8 2.8L0.4 4.9L1.8 5.9M-1.9 2.3L-1.5 1L-0.4 1.3M4.3 -0.3L2.4 -0.6L1.4 0.5M2.8 2L3.1 0.4L1.9 -0.2M-0.9 1.7L0.3 3.4L-0.8 4.6" fill="none" stroke="#b700aa" stroke-width=".8" stroke-opacity=".7" stroke-linejoin="round"/>
<use href="#nd"/>
<circle r="9.6" fill="none" stroke="#6c282e" stroke-width=".85" stroke-opacity=".8"/>
</g>
<text class="nl" x="136.1" y="356.3" font-size="5.60" stroke-width="2.01">AURKA</text>
<text class="nd" x="136.1" y="356.3" font-size="5.60">AURKA</text>
<g transform="translate(65 382.1) scale(0.910)">
<ellipse cx=".7" cy="1.7" rx="11.6" ry="11.3" fill="url(#sh)"/>
<circle r="10" fill="#4d9e9e"/>
<path d="M-1.7 -2.6L-2.3 -1.6L-1.8 -0.8M4.3 0.9L4.8 -0L4.2 -0.6M-4.2 -0L-5 1.8L-6.6 1.8M-0.4 -0.8L-1.9 -0.7L-2.7 0.1M1.3 2.5L0.6 0.8L1.2 -0.5M-0.8 2.5L-1 1.1L-0.2 0.2M2.9 0.4L3.7 1L3.3 1.7M0.1 3.7L-0.1 4.7L0 5.6M-3.5 1.7L-3.5 3.4L-3.3 4.7M-0.2 1.4L0.1 0.2L-0.7 -0.4M-3.9 -0.8L-4.2 1L-4.3 2.4" fill="none" stroke="#1b822c" stroke-width=".8" stroke-opacity=".7" stroke-linejoin="round"/>
<use href="#nd"/>
<circle r="9.6" fill="none" stroke="#2a5656" stroke-width=".85" stroke-opacity=".8"/>
</g>
<text class="nl" x="73.9" y="374.2" font-size="5.60" stroke-width="2.01">CENPA</text>
<text class="nd" x="73.9" y="374.2" font-size="5.60">CENPA</text>
<g transform="translate(105.3 400.6) scale(0.910)">
<ellipse cx=".7" cy="1.7" rx="11.6" ry="11.3" fill="url(#sh)"/>
<circle r="10" fill="#79c39e"/>
<path d="M-2.7 -0.2L-4.6 -1L-5.6 0.2M-1.1 0.4L0.3 2.1L1.6 3.3M1.3 0.2L2.1 1.1L3 1.2M-0.3 -1.2L-0.3 -3.4L-2.1 -3.6M0.1 0.9L0.4 2.7L1.3 3.8M-0.6 -0.7L0.2 1L1.2 2M-1.6 2.3L-2.9 0.7L-4.5 0M-2.9 0.7L-1.4 -0.5L-0.3 -1.5M2.3 -0.4L0.8 -0.4L0 0.5M-0 -0.2L1.8 -0.1L2.1 -1.6M-2.3 0.1L-3.9 1.2L-3.6 2.8" fill="none" stroke="#4ec212" stroke-width=".8" stroke-opacity=".7" stroke-linejoin="round"/>
<use href="#nd"/>
<circle r="9.6" fill="none" stroke="#426a56" stroke-width=".85" stroke-opacity=".8"/>
</g>
<text class="nl" x="114.2" y="392.7" font-size="5.60" stroke-width="2.01">NDEL1</text>
<text class="nd" x="114.2" y="392.7" font-size="5.60">NDEL1</text>
<g transform="translate(189.7 397.2) scale(0.910)">
<ellipse cx=".7" cy="1.7" rx="11.6" ry="11.3" fill="url(#sh)"/>
<circle r="10" fill="#8f72c3"/>
<path d="M-1.8 3.6L-0.4 2.5L0.9 3.1M0.4 0.6L-0.1 -0.4L-1 -0.3M-3.8 -0.4L-5.2 -1.1L-6.2 -1.9M-0.9 0.4L-3 0.6L-4 2M1.8 -1.6L1.4 0.2L2.3 1.4M2.6 1.7L4.8 1.3L6.3 0.3M-2 -0.9L-3.5 -2.1L-5 -1.7M4.6 0.4L4.4 1.9L5.4 2.8M1.3 0L3 1.3L4.1 -0M1.5 3.6L1 5.1L1.3 6.3M-2.7 0.6L-0.3 0.6L1 -0.9" fill="none" stroke="#0e63c1" stroke-width=".8" stroke-opacity=".7" stroke-linejoin="round"/>
<use href="#nd"/>
<circle r="9.6" fill="none" stroke="#4e3e6a" stroke-width=".85" stroke-opacity=".8"/>
</g>
<text class="nl" x="198.6" y="389.3" font-size="5.60" stroke-width="2.01">LATS2</text>
<text class="nd" x="198.6" y="389.3" font-size="5.60">LATS2</text>
<g transform="translate(76.9 423.9) scale(0.910)">
<ellipse cx=".7" cy="1.7" rx="11.6" ry="11.3" fill="url(#sh)"/>
<circle r="10" fill="#4d9e4d"/>
<path d="M-2.6 2.5L-1.9 0.8L-1.6 -0.6M2.6 3.8L1.9 2.8L2.3 1.9M-0.8 -1.2L0.1 -0.2L1 -0.7M-3.2 1.5L-4.3 3L-3.9 4.4M-3.3 -1L-1.4 -1L-0.6 -2.2M-1.7 1.5L-3.4 1.3L-4.8 1.3M-1.9 0.7L-2.7 -0.1L-3.5 0M-0 -1.5L1.4 -1.7L2.4 -1.2M-3.2 1.2L-2.8 0.3L-2.3 -0.3M2.5 -0L3.4 2L4.4 3.4M-2.4 -1.4L-4.5 -1.8L-5.3 -0.2" fill="none" stroke="#72821b" stroke-width=".8" stroke-opacity=".7" stroke-linejoin="round"/>
<use href="#nd"/>
<circle r="9.6" fill="none" stroke="#2a562a" stroke-width=".85" stroke-opacity=".8"/>
</g>
<text class="nl" x="85.8" y="416" font-size="5.60" stroke-width="2.01">TACC3</text>
<text class="nd" x="85.8" y="416" font-size="5.60">TACC3</text>
<g transform="translate(168.4 440.9) scale(0.910)">
<ellipse cx=".7" cy="1.7" rx="11.6" ry="11.3" fill="url(#sh)"/>
<circle r="10" fill="#a5ca79"/>
<use href="#nd"/>
<circle r="9.6" fill="none" stroke="#5a6e42" stroke-width=".85" stroke-opacity=".8"/>
</g>
<text class="nl" x="177.3" y="433" font-size="5.60" stroke-width="2.01">MAP9</text>
<text class="nd" x="177.3" y="433" font-size="5.60">MAP9</text>
</g>
<text class="t" x="186.5" y="80.3" font-size="10.2" textLength="99" lengthAdjust="spacingAndGlyphs">FOXO signaling pathway</text>
<text class="t" x="382" y="17.2" font-size="10.2" textLength="37" lengthAdjust="spacingAndGlyphs">Cell cycle</text>
<text class="t" x="541.6" y="94.6" font-size="10.2" textLength="52.6" lengthAdjust="spacingAndGlyphs">P53 pathway</text>
<text class="t" x="620.6" y="283.8" font-size="10.2" textLength="101.3" lengthAdjust="spacingAndGlyphs">Hippo signaling pathway</text>
<text class="t" x="91.7" y="272.5" font-size="10.2" textLength="29.8" lengthAdjust="spacingAndGlyphs">Mitosis</text>
<text class="t" x="163.4" y="482.6" font-size="10.2" textLength="41.1" lengthAdjust="spacingAndGlyphs">Apoptosis</text>
<text class="t" x="352.3" y="546.8" font-size="10.2" textLength="112.4" lengthAdjust="spacingAndGlyphs">PI3K-Akt signaling pathway</text>
<text class="t" x="572.6" y="481.8" font-size="6.9" textLength="13.6" lengthAdjust="spacingAndGlyphs">Wnt</text>
<text class="t" x="588.4" y="482" font-size="9.8" textLength="35.2" lengthAdjust="spacingAndGlyphs">signaling</text>
<text class="t" x="626.7" y="481.8" font-size="6.9" textLength="29" lengthAdjust="spacingAndGlyphs">pathway</text>
<rect x="22.7" y="6" width="181.3" height="46.5" fill="#c6d9f1"/>
<text class="t" x="26.7" y="19.4" font-size="10.5" textLength="49.5" lengthAdjust="spacingAndGlyphs">Node color</text>
<g transform="translate(33.9 29.4)"><rect x="-4.8" y="-5" width="9.6" height="10" rx="1.6" fill="#eef0f7" fill-opacity=".8"/><rect x="-4" y="-4.2" width="8" height="8.4" rx="3.5" fill="#d43f4d"/><ellipse cx="0" cy="-1.9" rx="3" ry="1.7" fill="#fff" fill-opacity=".45"/><rect x="-4" y="-4.2" width="8" height="8.4" rx="3.5" fill="none" stroke="#9c2c38" stroke-width=".5" stroke-opacity=".6"/></g>
<text class="bi" x="39.4" y="33.1" font-size="8.5" textLength="58" lengthAdjust="spacingAndGlyphs">Colored nodes :</text>
<text class="bi" x="39.4" y="44" font-size="8.5" textLength="160" lengthAdjust="spacingAndGlyphs">Query proteins and first shell of interactors</text>
<rect x="594" y="0" width="168.7" height="66.7" fill="#c6d9f1"/>
<text class="t" x="597.3" y="13.6" font-size="10.5" textLength="62" lengthAdjust="spacingAndGlyphs">Node content</text>
<g transform="translate(600 26.8)"><rect x="-3.9" y="-4.3" width="7.8" height="8.6" rx="1.7" fill="#f1f3f8"/><circle r="2.9" fill="#ececf0" stroke="#a8a4ac" stroke-width=".6"/></g>
<g transform="translate(600 46.6)"><rect x="-3.9" y="-4.3" width="7.8" height="8.6" rx="1.7" fill="#f1f3f8"/><circle r="2.9" fill="#ececf0" stroke="#a8a4ac" stroke-width=".6"/><path d="M-1.5 .6L-.6 -.8L.3 .5L1.3 -.6L1.2 .9L-.2 1.2" fill="none" stroke="#d060a0" stroke-width=".6"/></g>
<text class="bi" x="608" y="28.6" font-size="8.5" textLength="50.5" lengthAdjust="spacingAndGlyphs">Empty nodes :</text>
<text class="bi" x="608" y="39.4" font-size="8.5" textLength="125" lengthAdjust="spacingAndGlyphs">Proteins of unknown 3D structure</text>
<text class="bi" x="608" y="50.3" font-size="8.5" textLength="47.5" lengthAdjust="spacingAndGlyphs">Filled nodes :</text>
<text class="bi" x="608" y="61.1" font-size="8.5" textLength="151.4" lengthAdjust="spacingAndGlyphs">Some 3D structure is known or predicted</text>
<text class="t" x="2.8" y="522.1" font-size="8.7" textLength="47" lengthAdjust="spacingAndGlyphs">NF2 (Merlin)</text>
<text class="t" x="2.8" y="533" font-size="8.7" textLength="48.5" lengthAdjust="spacingAndGlyphs">STK11 (LKB1)</text>
<text class="t" x="2.8" y="543.8" font-size="8.7" textLength="49" lengthAdjust="spacingAndGlyphs">STUB1 (CHIP)</text>
<text class="t" x="2.8" y="554.7" font-size="8.7" textLength="73.5" lengthAdjust="spacingAndGlyphs">CTNNB1 (β-catenin)</text>
<text class="t" x="2.8" y="565.5" font-size="8.7" textLength="61.5" lengthAdjust="spacingAndGlyphs">BCL2L11 (BimEL)</text>
<text class="t" x="2.8" y="576.4" font-size="8.7" textLength="49" lengthAdjust="spacingAndGlyphs">CENPJ (CPAP)</text>
<text class="t" x="2.8" y="587.3" font-size="8.7" textLength="49.5" lengthAdjust="spacingAndGlyphs">MAP9 (ASAP)</text>
<text class="t" x="2.8" y="598.1" font-size="8.7" textLength="58.5" lengthAdjust="spacingAndGlyphs">DLGAP5 (HURP)</text>
<text class="t" x="2.8" y="609" font-size="8.7" textLength="40" lengthAdjust="spacingAndGlyphs">PPA1 (PP1)</text>
<text class="t" x="2.8" y="619.8" font-size="8.7" textLength="63.5" lengthAdjust="spacingAndGlyphs">WHSC1 (MMSET)</text>
<text class="t" x="2.8" y="630.7" font-size="8.7" textLength="56" lengthAdjust="spacingAndGlyphs">MDM2 (HDM2)</text>
<text class="t" x="2.8" y="641.6" font-size="8.7" textLength="85.4" lengthAdjust="spacingAndGlyphs">GABPA/GABPB1 (E4TF)</text>
<text class="t" x="2.8" y="652.4" font-size="8.7" textLength="51" lengthAdjust="spacingAndGlyphs">PRKCA (PKCα)</text>
<text class="t" x="2.8" y="663.3" font-size="8.7" textLength="65.5" lengthAdjust="spacingAndGlyphs">PPP1R10 (PNUTS)</text>
<text class="t" x="2.8" y="674.1" font-size="8.7" textLength="55" lengthAdjust="spacingAndGlyphs">ZNF207 (BuGZ)</text>
<text class="t" x="2.8" y="685" font-size="8.7" textLength="46" lengthAdjust="spacingAndGlyphs">IKBKB (IKK2)</text>
<text class="t" x="2.8" y="695.9" font-size="8.7" textLength="75.5" lengthAdjust="spacingAndGlyphs">SYNCRIP (hnRNPQ1)</text>
<rect x="96.5" y="649" width="128.7" height="48.4" fill="#c6d9f1"/>
<text class="t" x="100.2" y="665.6" font-size="10.5" textLength="88" lengthAdjust="spacingAndGlyphs">Known interactions</text>
<g transform="translate(98.2 671.6)"><use href="#ic"/><path d="M6.8 4H13.8" stroke="#30b8d4" stroke-width="1.5"/></g>
<g transform="translate(98.2 684.6)"><use href="#ic"/><path d="M6.8 4H13.8" stroke="#de36da" stroke-width="1.5"/></g>
<text class="bi" x="121.8" y="679" font-size="8.5" textLength="89.5" lengthAdjust="spacingAndGlyphs">From curated databases</text>
<text class="bi" x="120.3" y="692" font-size="8.5" textLength="101.2" lengthAdjust="spacingAndGlyphs">Experimentally determined</text>
<rect x="569.8" y="642.8" width="208.2" height="53.8" fill="#c6d9f1"/>
<text class="t" x="574" y="657.6" font-size="10.5" textLength="100" lengthAdjust="spacingAndGlyphs">Predicted interactions</text>
<text class="t" x="680.6" y="657.6" font-size="10.5" textLength="31" lengthAdjust="spacingAndGlyphs">Others</text>
<clipPath id="cp"><rect x="560" y="640" width="218" height="32.3"/></clipPath>
<g transform="translate(573.6 664.2)"><use href="#ic"/><path d="M6.8 4H13.8" stroke="#3cb43c" stroke-width="1.5"/></g>
<g transform="translate(573.6 674.6)"><use href="#ic"/><path d="M6.8 4H13.8" stroke="#f05050" stroke-width="1.5"/></g>
<g transform="translate(573.6 686.4)"><use href="#ic"/><path d="M6.8 4H13.8" stroke="#3a3af0" stroke-width="1.5"/></g>
<g transform="translate(679.2 664)"><use href="#ic"/><path d="M6.8 4H13.8" stroke="#bcd026" stroke-width="1.5"/></g>
<g transform="translate(679.2 674.4)"><use href="#ic"/><path d="M6.8 4H13.8" stroke="#404048" stroke-width="1.5"/></g>
<g transform="translate(679.2 686.2)"><use href="#ic"/><path d="M6.8 4H13.8" stroke="#a4a4ee" stroke-width="1.5"/></g>
<text class="bi" x="595.6" y="671.4" font-size="9.2" textLength="82" lengthAdjust="spacingAndGlyphs" clip-path="url(#cp)">Gene neighborhood</text>
<text class="bi" x="597" y="681.8" font-size="9.2" textLength="52.4" lengthAdjust="spacingAndGlyphs">Gene fusions</text>
<text class="bi" x="595.6" y="693.6" font-size="9.2" textLength="80.6" lengthAdjust="spacingAndGlyphs">Gene co-occurrence</text>
<text class="bi" x="700.2" y="671.2" font-size="9.2" textLength="45" lengthAdjust="spacingAndGlyphs" clip-path="url(#cp)">Textmining</text>
<text class="bi" x="700.2" y="681.6" font-size="9.2" textLength="57" lengthAdjust="spacingAndGlyphs">Co-expression</text>
<text class="bi" x="700.2" y="693.4" font-size="9.2" textLength="74" lengthAdjust="spacingAndGlyphs">Protein homology</text>
</svg>
</body></html>
